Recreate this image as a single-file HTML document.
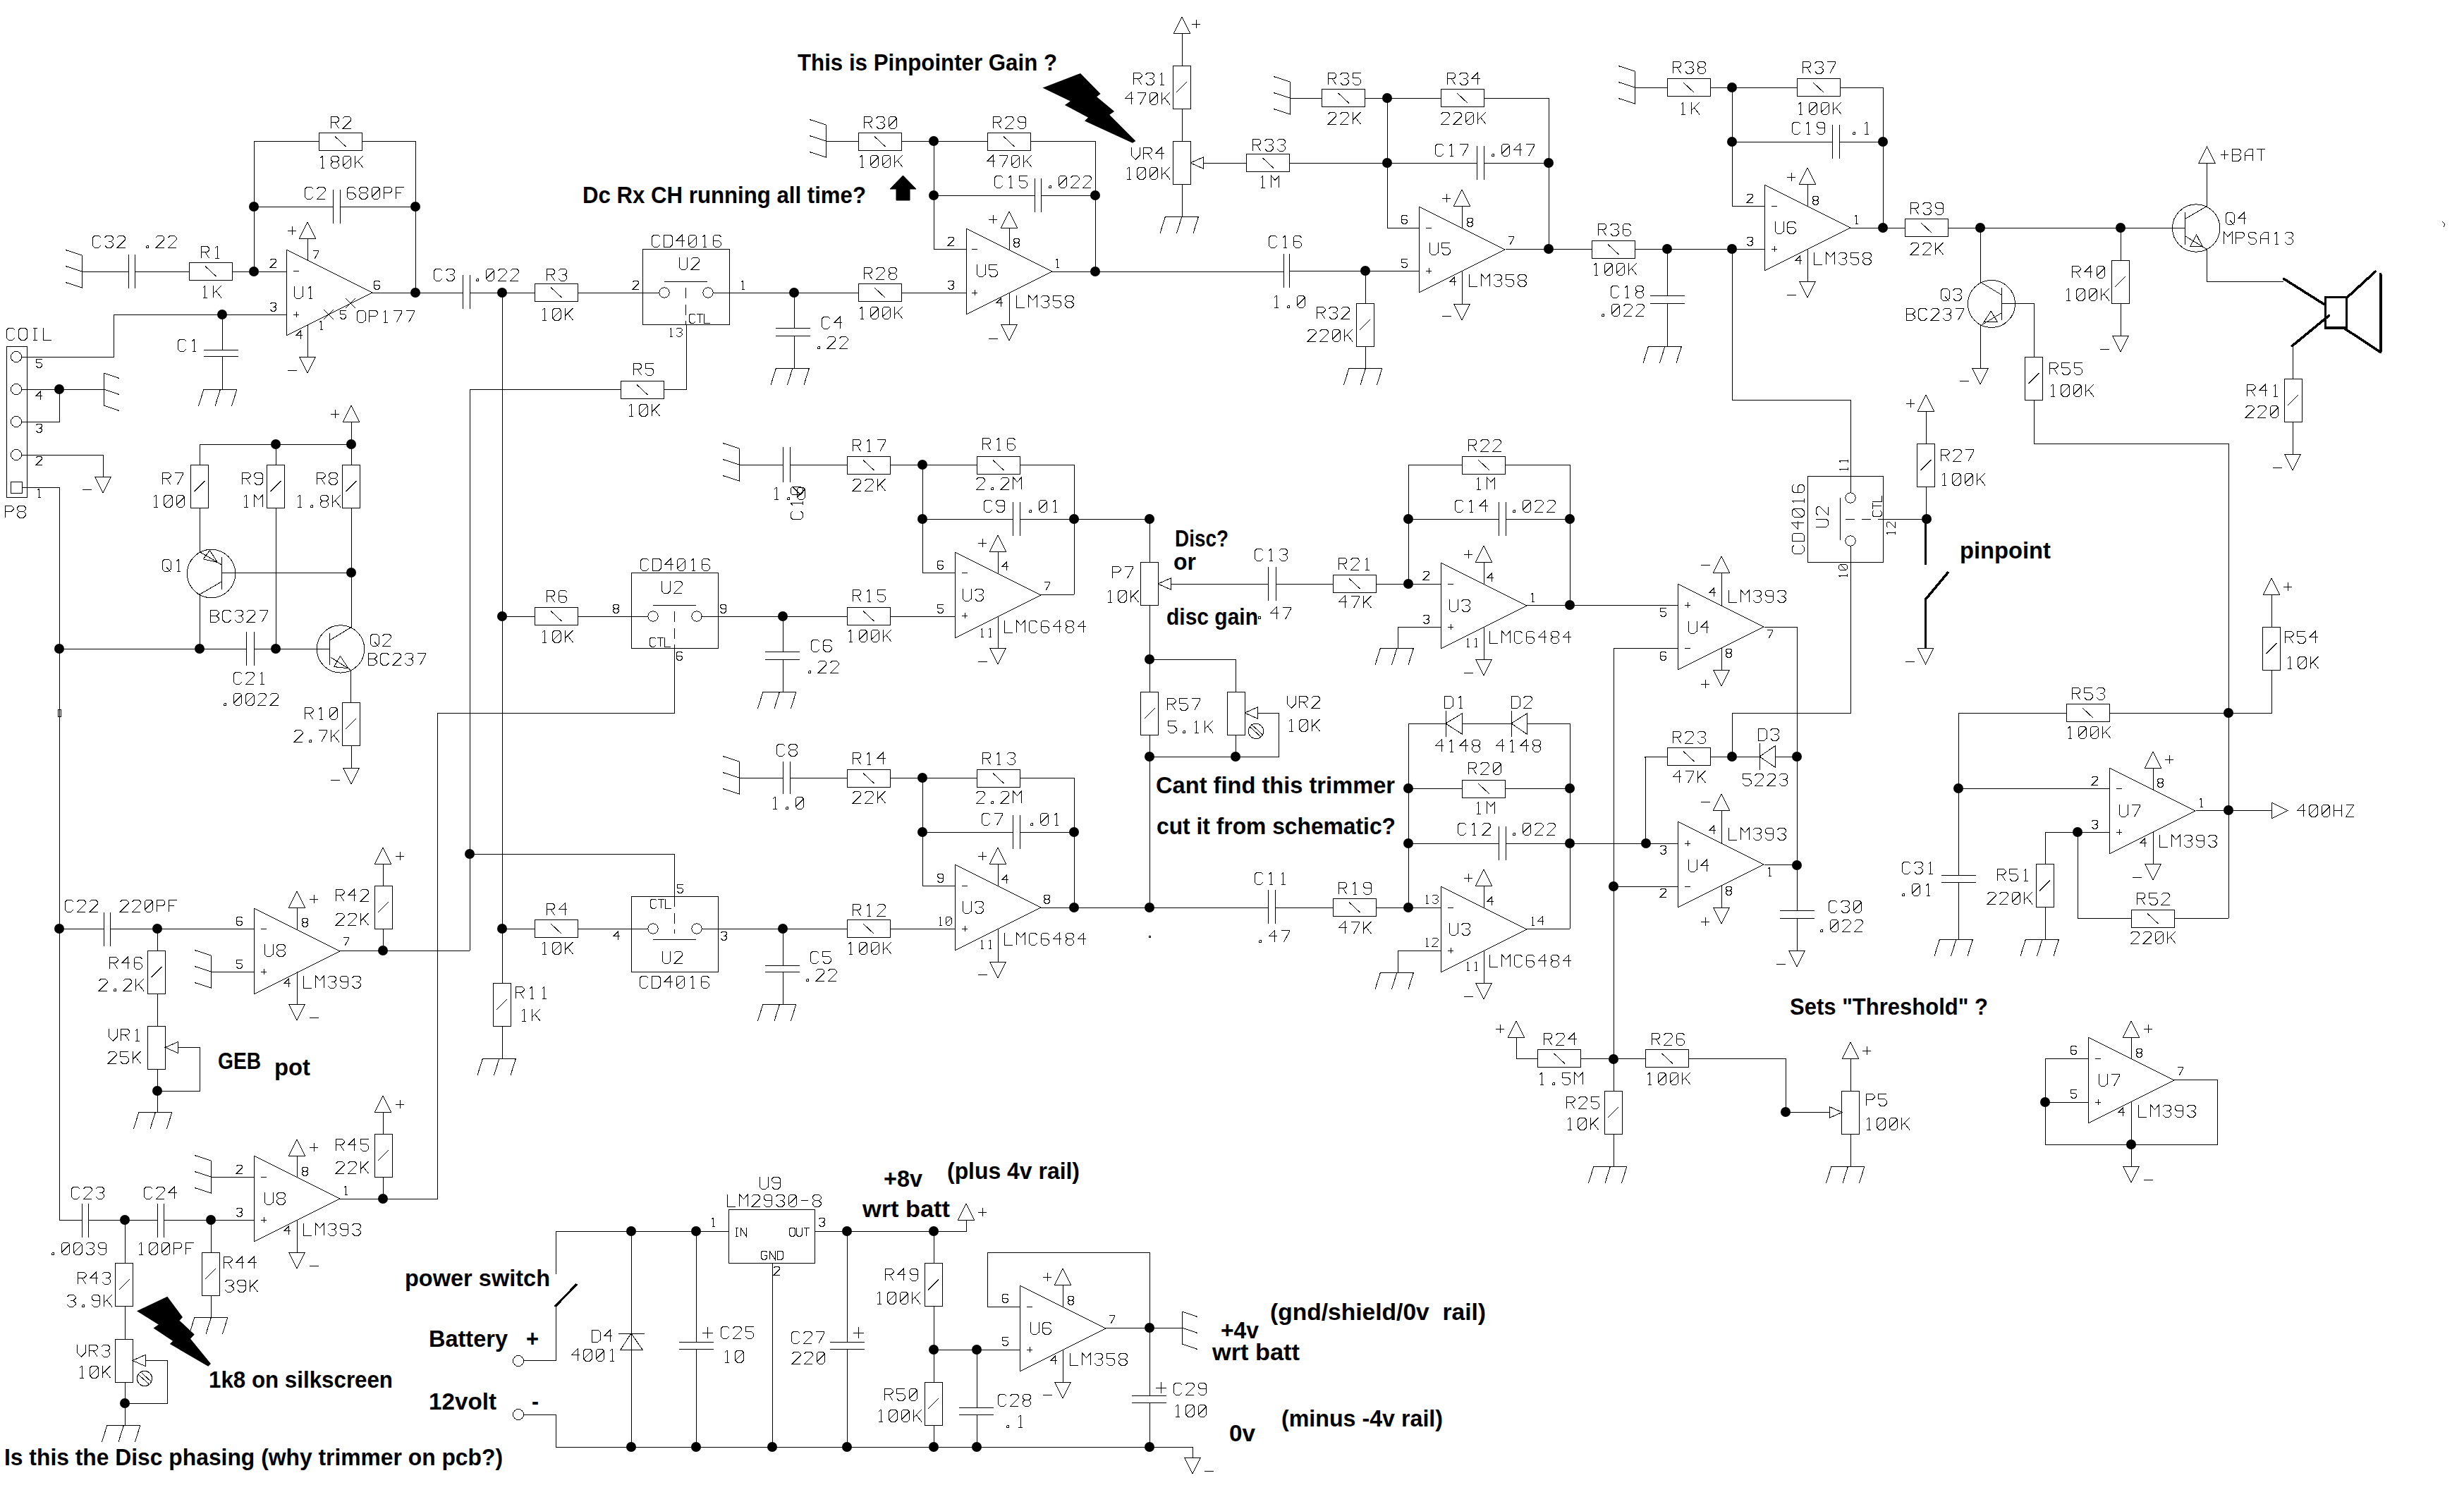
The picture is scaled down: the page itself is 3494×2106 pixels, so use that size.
<!DOCTYPE html>
<html><head><meta charset="utf-8"><title>schematic</title>
<style>html,body{margin:0;padding:0;background:#fff;}svg{display:block;}</style></head>
<body><svg width="3494" height="2106" viewBox="0 0 3494 2106">
<rect width="3494" height="2106" fill="#fff"/>
<g fill="none" stroke="#000" stroke-width="1" stroke-linejoin="miter" stroke-linecap="butt" shape-rendering="crispEdges">
<path d="M360 385 L360 200 L452 200"/>
<path d="M513 200 L589 200 L589 415"/>
<rect x="452" y="188" width="61" height="25"/>
<path d="M475 193.5 L490.5 208"/>
<path d="M469.1 182.2 L469.1 165 L477.7 165 L480.6 167.9 L480.6 170.7 L477.7 173.6 L469.1 173.6 M474.9 173.6 L480.6 182.2 M486.4 167.9 L489.3 165 L495 165 L497.9 167.9 L497.9 170.7 L486.4 182.2 L497.9 182.2" stroke-width="1"/>
<path d="M457.6 221 L457.6 238.2 M457.6 221 L454.7 223.9 M454.7 238.2 L460.4 238.2 M472 221 L477.7 221 L480.6 223.9 L480.6 226.7 L477.7 229.6 L472 229.6 L469.1 226.7 L469.1 223.9 L472 221 M472 229.6 L469.1 232.5 L469.1 235.3 L472 238.2 L477.7 238.2 L480.6 235.3 L480.6 232.5 L477.7 229.6 M489.3 221 L495 221 L497.9 223.9 L497.9 235.3 L495 238.2 L489.3 238.2 L486.4 235.3 L486.4 223.9 L489.3 221 M486.4 235.3 L497.9 223.9 M503.7 221 L503.7 238.2 M515.2 221 L503.7 232.5 M507.5 228.6 L515.2 238.2" stroke-width="1"/>
<path d="M360 293 L472 293"/>
<path d="M482 293 L589 293"/>
<path d="M472 269 L472 317"/>
<path d="M482 269 L482 317"/>
<path d="M444 267.9 L441.1 265 L435.4 265 L432.5 267.9 L432.5 279.3 L435.4 282.2 L441.1 282.2 L444 279.3 M449.8 267.9 L452.7 265 L458.4 265 L461.3 267.9 L461.3 270.7 L449.8 282.2 L461.3 282.2" stroke-width="1"/>
<path d="M504 267.9 L501.1 265 L495.4 265 L492.5 267.9 L492.5 279.3 L495.4 282.2 L501.1 282.2 L504 279.3 L504 276.5 L501.1 273.6 L492.5 273.6 M512.7 265 L518.4 265 L521.3 267.9 L521.3 270.7 L518.4 273.6 L512.7 273.6 L509.8 270.7 L509.8 267.9 L512.7 265 M512.7 273.6 L509.8 276.5 L509.8 279.3 L512.7 282.2 L518.4 282.2 L521.3 279.3 L521.3 276.5 L518.4 273.6 M530 265 L535.7 265 L538.6 267.9 L538.6 279.3 L535.7 282.2 L530 282.2 L527.1 279.3 L527.1 267.9 L530 265 M527.1 279.3 L538.6 267.9 M544.4 282.2 L544.4 265 L553 265 L555.9 267.9 L555.9 270.7 L553 273.6 L544.4 273.6 M573.2 265 L561.7 265 L561.7 282.2 M561.7 273.6 L569.3 273.6" stroke-width="1"/>
<circle cx="360" cy="293" r="7" fill="#000" stroke="none" shape-rendering="geometricPrecision"/>
<circle cx="589" cy="293" r="7" fill="#000" stroke="none" shape-rendering="geometricPrecision"/>
<circle cx="360" cy="385" r="7" fill="#000" stroke="none" shape-rendering="geometricPrecision"/>
<circle cx="589" cy="415" r="7" fill="#000" stroke="none" shape-rendering="geometricPrecision"/>
<circle cx="315" cy="446" r="7" fill="#000" stroke="none" shape-rendering="geometricPrecision"/>
<path d="M116 361.5 L116 408.5"/>
<path d="M116 362 L93 354.5"/>
<path d="M116 385 L93 377.5"/>
<path d="M116 408 L93 400.5"/>
<path d="M116 385 L182 385"/>
<path d="M191 385 L268 385"/>
<path d="M329 385 L406 385"/>
<path d="M182 361 L182 409"/>
<path d="M191 361 L191 409"/>
<rect x="268" y="372" width="61" height="25"/>
<path d="M291 377.5 L306.5 392"/>
<path d="M143 336.9 L140.1 334 L134.4 334 L131.5 336.9 L131.5 348.3 L134.4 351.2 L140.1 351.2 L143 348.3 M148.8 336.9 L151.7 334 L157.4 334 L160.3 336.9 L160.3 339.7 L157.4 342.6 L160.3 345.5 L160.3 348.3 L157.4 351.2 L151.7 351.2 L148.8 348.3 M153.6 342.6 L157.4 342.6 M166.1 336.9 L169 334 L174.7 334 L177.6 336.9 L177.6 339.7 L166.1 351.2 L177.6 351.2" stroke-width="1"/>
<path d="M207.8 348.8 L210.7 348.8 L210.7 351.2 L207.8 351.2 L207.8 348.8 M221.3 336.9 L224.2 334 L229.9 334 L232.8 336.9 L232.8 339.7 L221.3 351.2 L232.8 351.2 M238.6 336.9 L241.5 334 L247.2 334 L250.1 336.9 L250.1 339.7 L238.6 351.2 L250.1 351.2" stroke-width="1"/>
<path d="M285.1 366.2 L285.1 349 L293.7 349 L296.6 351.9 L296.6 354.7 L293.7 357.6 L285.1 357.6 M290.9 357.6 L296.6 366.2 M308.2 349 L308.2 366.2 M308.2 349 L305.3 351.9 M305.3 366.2 L311 366.2" stroke-width="1"/>
<path d="M290.9 405 L290.9 422.2 M290.9 405 L288 407.9 M288 422.2 L293.7 422.2 M302.4 405 L302.4 422.2 M313.9 405 L302.4 416.5 M306.2 412.6 L313.9 422.2" stroke-width="1"/>
<polygon points="406,354 406,476 528,415"/>
<path d="M383.5 369 L385.5 367 L389.5 367 L391.5 369 L391.5 371 L383.5 379 L391.5 379" stroke-width="1"/>
<path d="M383.5 431 L385.5 429 L389.5 429 L391.5 431 L391.5 433 L389.5 435 L391.5 437 L391.5 439 L389.5 441 L385.5 441 L383.5 439 M386.8 435 L389.5 435" stroke-width="1"/>
<path d="M443.5 355 L451.5 355 L451.5 357 L446.2 367" stroke-width="1"/>
<path d="M538.5 400 L536.5 398 L532.5 398 L530.5 400 L530.5 408 L532.5 410 L536.5 410 L538.5 408 L538.5 406 L536.5 404 L530.5 404" stroke-width="1"/>
<path d="M426.5 481 L426.5 469 L420.5 475 L428.5 475" stroke-width="1"/>
<path d="M455.5 455 L455.5 467 M455.5 455 L453.5 457 M453.5 467 L457.5 467" stroke-width="1"/>
<path d="M490.5 440 L482.5 440 L482.5 445.3 L488.5 445.3 L490.5 447.3 L490.5 450 L488.5 452 L484.5 452 L482.5 450" stroke-width="1"/>
<path d="M416 384 L424 384"/>
<path d="M416 446 L424 446"/>
<path d="M420 442 L420 450"/>
<path d="M459 439 L473 453"/>
<path d="M459 453 L473 439"/>
<path d="M490 423 L504 437"/>
<path d="M490 437 L504 423"/>
<path d="M417.5 406 L417.5 420.3 L420.4 423.2 L426.1 423.2 L429 420.3 L429 406 M440.5 406 L440.5 423.2 M440.5 406 L437.7 408.9 M437.7 423.2 L443.4 423.2" stroke-width="1"/>
<path d="M509.4 440 L515.1 440 L518 442.9 L518 454.3 L515.1 457.2 L509.4 457.2 L506.5 454.3 L506.5 442.9 L509.4 440 M523.8 457.2 L523.8 440 L532.4 440 L535.3 442.9 L535.3 445.7 L532.4 448.6 L523.8 448.6 M546.8 440 L546.8 457.2 M546.8 440 L544 442.9 M544 457.2 L549.7 457.2 M558.4 440 L569.9 440 L569.9 442.9 L562.2 457.2 M575.7 440 L587.2 440 L587.2 442.9 L579.5 457.2" stroke-width="1"/>
<polygon points="436,315 424.5,338 447.5,338"/>
<path d="M436 338 L436 369"/>
<path d="M408 327 L420 327"/>
<path d="M414 321 L414 333"/>
<path d="M436 461 L436 506"/>
<polygon points="424.5,506 447.5,506 436,529"/>
<path d="M407.5 525 L420.5 525"/>
<path d="M528 415 L656 415"/>
<path d="M666 415 L758 415"/>
<path d="M819 415 L935 415"/>
<path d="M656 390 L656 438"/>
<path d="M666 390 L666 438"/>
<rect x="758" y="402" width="61" height="25"/>
<path d="M781 407.5 L796.5 422"/>
<path d="M627 383.9 L624.1 381 L618.4 381 L615.5 383.9 L615.5 395.3 L618.4 398.2 L624.1 398.2 L627 395.3 M632.8 383.9 L635.7 381 L641.4 381 L644.3 383.9 L644.3 386.7 L641.4 389.6 L644.3 392.5 L644.3 395.3 L641.4 398.2 L635.7 398.2 L632.8 395.3 M637.6 389.6 L641.4 389.6" stroke-width="1"/>
<path d="M675.8 395.8 L678.7 395.8 L678.7 398.2 L675.8 398.2 L675.8 395.8 M692.2 381 L697.9 381 L700.8 383.9 L700.8 395.3 L697.9 398.2 L692.2 398.2 L689.3 395.3 L689.3 383.9 L692.2 381 M689.3 395.3 L700.8 383.9 M706.6 383.9 L709.5 381 L715.2 381 L718.1 383.9 L718.1 386.7 L706.6 398.2 L718.1 398.2 M723.9 383.9 L726.8 381 L732.5 381 L735.4 383.9 L735.4 386.7 L723.9 398.2 L735.4 398.2" stroke-width="1"/>
<path d="M775.1 398.2 L775.1 381 L783.7 381 L786.6 383.9 L786.6 386.7 L783.7 389.6 L775.1 389.6 M780.9 389.6 L786.6 398.2 M792.4 383.9 L795.3 381 L801 381 L803.9 383.9 L803.9 386.7 L801 389.6 L803.9 392.5 L803.9 395.3 L801 398.2 L795.3 398.2 L792.4 395.3 M797.2 389.6 L801 389.6" stroke-width="1"/>
<path d="M772.2 437 L772.2 454.2 M772.2 437 L769.3 439.9 M769.3 454.2 L775.1 454.2 M786.6 437 L792.4 437 L795.2 439.9 L795.2 451.3 L792.4 454.2 L786.6 454.2 L783.8 451.3 L783.8 439.9 L786.6 437 M783.8 451.3 L795.2 439.9 M801.1 437 L801.1 454.2 M812.5 437 L801.1 448.5 M804.9 444.6 L812.5 454.2" stroke-width="1"/>
<circle cx="712" cy="415" r="7" fill="#000" stroke="none" shape-rendering="geometricPrecision"/>
<path d="M712 415 L712 1394"/>
<circle cx="712" cy="874" r="7" fill="#000" stroke="none" shape-rendering="geometricPrecision"/>
<circle cx="712" cy="1317" r="7" fill="#000" stroke="none" shape-rendering="geometricPrecision"/>
<path d="M315 446 L315 496"/>
<path d="M289 496 L338 496"/>
<path d="M289 505 L338 505"/>
<path d="M315 505 L315 552"/>
<path d="M289 552 L336 552"/>
<path d="M289 552 L281.5 576"/>
<path d="M312.5 552 L305 576"/>
<path d="M336 552 L328.5 576"/>
<path d="M264 483.9 L261.1 481 L255.4 481 L252.5 483.9 L252.5 495.3 L255.4 498.2 L261.1 498.2 L264 495.3 M275.5 481 L275.5 498.2 M275.5 481 L272.7 483.9 M272.7 498.2 L278.4 498.2" stroke-width="1"/>
<path d="M161 446 L406 446"/>
<path d="M161 446 L161 506 L30 506"/>
<rect x="9" y="491" width="29" height="214"/>
<circle cx="23" cy="506" r="7.5"/>
<circle cx="23" cy="552" r="7.5"/>
<circle cx="23" cy="598" r="7.5"/>
<circle cx="23" cy="645" r="7.5"/>
<rect x="15" y="683" width="16" height="16"/>
<path d="M59.5 509 L51.5 509 L51.5 514.3 L57.5 514.3 L59.5 516.3 L59.5 519 L57.5 521 L53.5 521 L51.5 519" stroke-width="1"/>
<path d="M57.5 567 L57.5 555 L51.5 561 L59.5 561" stroke-width="1"/>
<path d="M51.5 603 L53.5 601 L57.5 601 L59.5 603 L59.5 605 L57.5 607 L59.5 609 L59.5 611 L57.5 613 L53.5 613 L51.5 611 M54.8 607 L57.5 607" stroke-width="1"/>
<path d="M51.5 649 L53.5 647 L57.5 647 L59.5 649 L59.5 651 L51.5 659 L59.5 659" stroke-width="1"/>
<path d="M55.5 693 L55.5 705 M55.5 693 L53.5 695 M53.5 705 L57.5 705" stroke-width="1"/>
<path d="M21 467.9 L18.1 465 L12.4 465 L9.5 467.9 L9.5 479.3 L12.4 482.2 L18.1 482.2 L21 479.3 M29.7 465 L35.4 465 L38.3 467.9 L38.3 479.3 L35.4 482.2 L29.7 482.2 L26.8 479.3 L26.8 467.9 L29.7 465 M49.8 465 L49.8 482.2 M47 465 L52.7 465 M47 482.2 L52.7 482.2 M61.4 465 L61.4 482.2 L72.9 482.2" stroke-width="1"/>
<path d="M7.5 734.2 L7.5 717 L16.1 717 L19 719.9 L19 722.7 L16.1 725.6 L7.5 725.6 M27.7 717 L33.4 717 L36.3 719.9 L36.3 722.7 L33.4 725.6 L27.7 725.6 L24.8 722.7 L24.8 719.9 L27.7 717 M27.7 725.6 L24.8 728.5 L24.8 731.3 L27.7 734.2 L33.4 734.2 L36.3 731.3 L36.3 728.5 L33.4 725.6" stroke-width="1"/>
<path d="M30 552 L147 552"/>
<circle cx="84" cy="552" r="7" fill="#000" stroke="none" shape-rendering="geometricPrecision"/>
<path d="M147 528.5 L147 575.5"/>
<path d="M147 529 L169 536.5"/>
<path d="M147 552 L169 559.5"/>
<path d="M147 575 L169 582.5"/>
<path d="M30 598 L84 598 L84 552"/>
<path d="M30 645 L146 645 L146 676"/>
<polygon points="134.5,676 157.5,676 146,699"/>
<path d="M116.5 694 L129.5 694"/>
<path d="M31 691 L84 691 L84 1730 L116 1730"/>
<circle cx="84" cy="920" r="7" fill="#000" stroke="none" shape-rendering="geometricPrecision"/>
<circle cx="84" cy="1317" r="7" fill="#000" stroke="none" shape-rendering="geometricPrecision"/>
<rect x="82" y="1006" width="4" height="10"/>
<polygon points="498,575 486.5,598 509.5,598"/>
<path d="M469 587 L481 587"/>
<path d="M475 581 L475 593"/>
<path d="M498 598 L498 659"/>
<path d="M283 659 L283 630 L498 630"/>
<circle cx="391" cy="630" r="7" fill="#000" stroke="none" shape-rendering="geometricPrecision"/>
<circle cx="498" cy="630" r="7" fill="#000" stroke="none" shape-rendering="geometricPrecision"/>
<path d="M391 630 L391 659"/>
<rect x="270.5" y="659" width="25" height="61"/>
<path d="M275.5 697 L290.5 682"/>
<rect x="378.5" y="659" width="25" height="61"/>
<path d="M383.5 697 L398.5 682"/>
<rect x="485.5" y="659" width="25" height="61"/>
<path d="M490.5 697 L505.5 682"/>
<path d="M283 720 L283 783"/>
<path d="M391 720 L391 920"/>
<path d="M498 720 L498 890"/>
<circle cx="498" cy="812" r="7" fill="#000" stroke="none" shape-rendering="geometricPrecision"/>
<circle cx="299.6" cy="813.5" r="34.2"/>
<path d="M314.5 790 L314.5 836"/>
<path d="M314.5 812.4 L498 812.4"/>
<path d="M313.8 800.7 L283.5 782.8"/>
<path d="M313.8 825.1 L283.5 842.8 L283.5 920"/>
<polygon points="288.3,792.8 297.5,780.4 308.3,797.5"/>
<circle cx="483" cy="920.4" r="33.7"/>
<path d="M467.7 897.5 L467.7 943"/>
<path d="M84 920 L349.4 920"/>
<path d="M360.5 920 L467.7 920"/>
<path d="M468.4 907.6 L497.7 889.7"/>
<path d="M468.4 931.8 L497.7 950.4 L498 996"/>
<polygon points="473.6,945.6 482.5,930.4 493.9,947.7"/>
<circle cx="283" cy="920" r="7" fill="#000" stroke="none" shape-rendering="geometricPrecision"/>
<circle cx="391" cy="920" r="7" fill="#000" stroke="none" shape-rendering="geometricPrecision"/>
<path d="M349.4 896 L349.4 944"/>
<path d="M360.5 896 L360.5 944"/>
<rect x="485" y="996" width="25" height="61"/>
<path d="M490 1034 L505 1019"/>
<path d="M498 1057 L498 1089"/>
<polygon points="486.5,1089 509.5,1089 498,1112"/>
<path d="M468.5 1106 L481.5 1106"/>
<path d="M230.5 687.2 L230.5 670 L239.1 670 L242 672.9 L242 675.7 L239.1 678.6 L230.5 678.6 M236.2 678.6 L242 687.2 M247.8 670 L259.3 670 L259.3 672.9 L251.6 687.2" stroke-width="1"/>
<path d="M221.2 702 L221.2 719.2 M221.2 702 L218.4 704.9 M218.4 719.2 L224.1 719.2 M235.7 702 L241.4 702 L244.3 704.9 L244.3 716.3 L241.4 719.2 L235.7 719.2 L232.8 716.3 L232.8 704.9 L235.7 702 M232.8 716.3 L244.3 704.9 M253 702 L258.7 702 L261.6 704.9 L261.6 716.3 L258.7 719.2 L253 719.2 L250.1 716.3 L250.1 704.9 L253 702 M250.1 716.3 L261.6 704.9" stroke-width="1"/>
<path d="M343.5 687.2 L343.5 670 L352.1 670 L355 672.9 L355 675.7 L352.1 678.6 L343.5 678.6 M349.2 678.6 L355 687.2 M360.8 684.3 L363.7 687.2 L369.4 687.2 L372.3 684.3 L372.3 672.9 L369.4 670 L363.7 670 L360.8 672.9 L360.8 675.7 L363.7 678.6 L372.3 678.6" stroke-width="1"/>
<path d="M349.2 702 L349.2 719.2 M349.2 702 L346.4 704.9 M346.4 719.2 L352.1 719.2 M360.8 719.2 L360.8 702 L366.5 708.7 L372.3 702 L372.3 719.2" stroke-width="1"/>
<path d="M449.5 687.2 L449.5 670 L458.1 670 L461 672.9 L461 675.7 L458.1 678.6 L449.5 678.6 M455.2 678.6 L461 687.2 M469.7 670 L475.4 670 L478.3 672.9 L478.3 675.7 L475.4 678.6 L469.7 678.6 L466.8 675.7 L466.8 672.9 L469.7 670 M469.7 678.6 L466.8 681.5 L466.8 684.3 L469.7 687.2 L475.4 687.2 L478.3 684.3 L478.3 681.5 L475.4 678.6" stroke-width="1"/>
<path d="M425.2 702 L425.2 719.2 M425.2 702 L422.4 704.9 M422.4 719.2 L428.1 719.2 M440.6 716.8 L443.5 716.8 L443.5 719.2 L440.6 719.2 L440.6 716.8 M457 702 L462.7 702 L465.6 704.9 L465.6 707.7 L462.7 710.6 L457 710.6 L454.1 707.7 L454.1 704.9 L457 702 M457 710.6 L454.1 713.5 L454.1 716.3 L457 719.2 L462.7 719.2 L465.6 716.3 L465.6 713.5 L462.7 710.6 M471.4 702 L471.4 719.2 M482.9 702 L471.4 713.5 M475.2 709.6 L482.9 719.2" stroke-width="1"/>
<path d="M233.4 793 L239.1 793 L242 795.9 L242 807.3 L239.1 810.2 L233.4 810.2 L230.5 807.3 L230.5 795.9 L233.4 793 M236.2 804.5 L242 811.2 M253.5 793 L253.5 810.2 M253.5 793 L250.7 795.9 M250.7 810.2 L256.4 810.2" stroke-width="1"/>
<path d="M298.5 865 L307.1 865 L310 867.9 L310 870.7 L307.1 873.6 L298.5 873.6 M307.1 873.6 L310 876.5 L310 879.3 L307.1 882.2 L298.5 882.2 L298.5 865 M327.3 867.9 L324.4 865 L318.7 865 L315.8 867.9 L315.8 879.3 L318.7 882.2 L324.4 882.2 L327.3 879.3 M333.1 867.9 L336 865 L341.7 865 L344.6 867.9 L344.6 870.7 L341.7 873.6 L344.6 876.5 L344.6 879.3 L341.7 882.2 L336 882.2 L333.1 879.3 M337.9 873.6 L341.7 873.6 M350.4 867.9 L353.3 865 L359 865 L361.9 867.9 L361.9 870.7 L350.4 882.2 L361.9 882.2 M367.7 865 L379.2 865 L379.2 867.9 L371.5 882.2" stroke-width="1"/>
<path d="M343 955.9 L340.1 953 L334.4 953 L331.5 955.9 L331.5 967.3 L334.4 970.2 L340.1 970.2 L343 967.3 M348.8 955.9 L351.7 953 L357.4 953 L360.3 955.9 L360.3 958.7 L348.8 970.2 L360.3 970.2 M371.8 953 L371.8 970.2 M371.8 953 L369 955.9 M369 970.2 L374.7 970.2" stroke-width="1"/>
<path d="M317.8 997.8 L320.7 997.8 L320.7 1000.2 L317.8 1000.2 L317.8 997.8 M334.2 983 L339.9 983 L342.8 985.9 L342.8 997.3 L339.9 1000.2 L334.2 1000.2 L331.3 997.3 L331.3 985.9 L334.2 983 M331.3 997.3 L342.8 985.9 M351.5 983 L357.2 983 L360.1 985.9 L360.1 997.3 L357.2 1000.2 L351.5 1000.2 L348.6 997.3 L348.6 985.9 L351.5 983 M348.6 997.3 L360.1 985.9 M365.9 985.9 L368.8 983 L374.5 983 L377.4 985.9 L377.4 988.7 L365.9 1000.2 L377.4 1000.2 M383.2 985.9 L386.1 983 L391.8 983 L394.7 985.9 L394.7 988.7 L383.2 1000.2 L394.7 1000.2" stroke-width="1"/>
<path d="M528.4 899 L534.1 899 L537 901.9 L537 913.3 L534.1 916.2 L528.4 916.2 L525.5 913.3 L525.5 901.9 L528.4 899 M531.2 910.5 L537 917.2 M542.8 901.9 L545.7 899 L551.4 899 L554.3 901.9 L554.3 904.7 L542.8 916.2 L554.3 916.2" stroke-width="1"/>
<path d="M522.5 926 L531.1 926 L534 928.9 L534 931.7 L531.1 934.6 L522.5 934.6 M531.1 934.6 L534 937.5 L534 940.3 L531.1 943.2 L522.5 943.2 L522.5 926 M551.3 928.9 L548.4 926 L542.7 926 L539.8 928.9 L539.8 940.3 L542.7 943.2 L548.4 943.2 L551.3 940.3 M557.1 928.9 L560 926 L565.7 926 L568.6 928.9 L568.6 931.7 L557.1 943.2 L568.6 943.2 M574.4 928.9 L577.3 926 L583 926 L585.9 928.9 L585.9 931.7 L583 934.6 L585.9 937.5 L585.9 940.3 L583 943.2 L577.3 943.2 L574.4 940.3 M579.2 934.6 L583 934.6 M591.7 926 L603.2 926 L603.2 928.9 L595.5 943.2" stroke-width="1"/>
<path d="M432.5 1020.2 L432.5 1003 L441.1 1003 L444 1005.9 L444 1008.7 L441.1 1011.6 L432.5 1011.6 M438.2 1011.6 L444 1020.2 M455.5 1003 L455.5 1020.2 M455.5 1003 L452.7 1005.9 M452.7 1020.2 L458.4 1020.2 M470 1003 L475.7 1003 L478.6 1005.9 L478.6 1017.3 L475.7 1020.2 L470 1020.2 L467.1 1017.3 L467.1 1005.9 L470 1003 M467.1 1017.3 L478.6 1005.9" stroke-width="1"/>
<path d="M417.5 1037.9 L420.4 1035 L426.1 1035 L429 1037.9 L429 1040.7 L417.5 1052.2 L429 1052.2 M438.6 1049.8 L441.5 1049.8 L441.5 1052.2 L438.6 1052.2 L438.6 1049.8 M452.1 1035 L463.6 1035 L463.6 1037.9 L455.9 1052.2 M469.4 1035 L469.4 1052.2 M480.9 1035 L469.4 1046.5 M473.2 1042.6 L480.9 1052.2" stroke-width="1"/>
<rect x="911" y="353" width="123" height="107"/>
<path d="M942 399 L1003 399"/>
<circle cx="942" cy="415" r="7.2"/>
<circle cx="1004" cy="415" r="7.2"/>
<path d="M972 408 L972 460" stroke-dasharray="15 8.5"/>
<path d="M986.2 447.2 L984 445 L979.7 445 L977.5 447.2 L977.5 455.8 L979.7 458 L984 458 L986.2 455.8 M987.9 445 L996.6 445 M992.2 445 L992.2 458 M998.3 445 L998.3 458 L1007 458" stroke-width="1"/>
<path d="M936 335.9 L933.1 333 L927.4 333 L924.5 335.9 L924.5 347.3 L927.4 350.2 L933.1 350.2 L936 347.3 M941.8 333 L950.4 333 L953.3 335.9 L953.3 347.3 L950.4 350.2 L941.8 350.2 L941.8 333 M967.7 350.2 L967.7 333 L959.1 341.6 L970.6 341.6 M979.3 333 L985 333 L987.9 335.9 L987.9 347.3 L985 350.2 L979.3 350.2 L976.4 347.3 L976.4 335.9 L979.3 333 M976.4 347.3 L987.9 335.9 M999.4 333 L999.4 350.2 M999.4 333 L996.6 335.9 M996.6 350.2 L1002.3 350.2 M1022.5 335.9 L1019.6 333 L1013.9 333 L1011 335.9 L1011 347.3 L1013.9 350.2 L1019.6 350.2 L1022.5 347.3 L1022.5 344.5 L1019.6 341.6 L1011 341.6" stroke-width="1"/>
<path d="M963.1 365 L963.1 379.3 L966 382.2 L971.7 382.2 L974.6 379.3 L974.6 365 M980.4 367.9 L983.3 365 L989 365 L991.9 367.9 L991.9 370.7 L980.4 382.2 L991.9 382.2" stroke-width="1"/>
<path d="M897.5 400 L899.5 398 L903.5 398 L905.5 400 L905.5 402 L897.5 410 L905.5 410" stroke-width="1"/>
<path d="M1053.5 398 L1053.5 410 M1053.5 398 L1051.5 400 M1051.5 410 L1055.5 410" stroke-width="1"/>
<path d="M951.8 465 L951.8 477 M951.8 465 L949.8 467 M949.8 477 L953.8 477 M959.2 467 L961.2 465 L965.2 465 L967.2 467 L967.2 469 L965.2 471 L967.2 473 L967.2 475 L965.2 477 L961.2 477 L959.2 475 M962.6 471 L965.2 471" stroke-width="1"/>
<path d="M911 415 L935 415"/>
<path d="M1011 415 L1217 415"/>
<path d="M1278 415 L1370 415"/>
<path d="M973 460 L973 552 L941 552"/>
<path d="M880 552 L666 552 L666 1348"/>
<rect x="880" y="540" width="61" height="25"/>
<path d="M903 545.5 L918.5 560"/>
<path d="M898.1 532.2 L898.1 515 L906.7 515 L909.6 517.9 L909.6 520.7 L906.7 523.6 L898.1 523.6 M903.9 523.6 L909.6 532.2 M926.9 515 L915.4 515 L915.4 522.6 L924 522.6 L926.9 525.5 L926.9 529.3 L924 532.2 L918.3 532.2 L915.4 529.3" stroke-width="1"/>
<path d="M895.2 573 L895.2 590.2 M895.2 573 L892.3 575.9 M892.3 590.2 L898.1 590.2 M909.6 573 L915.4 573 L918.2 575.9 L918.2 587.3 L915.4 590.2 L909.6 590.2 L906.8 587.3 L906.8 575.9 L909.6 573 M906.8 587.3 L918.2 575.9 M924.1 573 L924.1 590.2 M935.5 573 L924.1 584.5 M927.9 580.6 L935.5 590.2" stroke-width="1"/>
<rect x="1217" y="402.5" width="61" height="25"/>
<path d="M1240 408 L1255.5 422.5"/>
<path d="M1225.5 396.2 L1225.5 379 L1234.1 379 L1236.9 381.9 L1236.9 384.7 L1234.1 387.6 L1225.5 387.6 M1231.2 387.6 L1236.9 396.2 M1242.8 381.9 L1245.6 379 L1251.4 379 L1254.2 381.9 L1254.2 384.7 L1242.8 396.2 L1254.2 396.2 M1262.9 379 L1268.7 379 L1271.5 381.9 L1271.5 384.7 L1268.7 387.6 L1262.9 387.6 L1260.1 384.7 L1260.1 381.9 L1262.9 379 M1262.9 387.6 L1260.1 390.5 L1260.1 393.3 L1262.9 396.2 L1268.7 396.2 L1271.5 393.3 L1271.5 390.5 L1268.7 387.6" stroke-width="1"/>
<path d="M1222.5 435 L1222.5 452.2 M1222.5 435 L1219.7 437.9 M1219.7 452.2 L1225.4 452.2 M1237 435 L1242.7 435 L1245.6 437.9 L1245.6 449.3 L1242.7 452.2 L1237 452.2 L1234.1 449.3 L1234.1 437.9 L1237 435 M1234.1 449.3 L1245.6 437.9 M1254.3 435 L1260 435 L1262.9 437.9 L1262.9 449.3 L1260 452.2 L1254.3 452.2 L1251.4 449.3 L1251.4 437.9 L1254.3 435 M1251.4 449.3 L1262.9 437.9 M1268.7 435 L1268.7 452.2 M1280.2 435 L1268.7 446.5 M1272.5 442.6 L1280.2 452.2" stroke-width="1"/>
<circle cx="1126" cy="415" r="7" fill="#000" stroke="none" shape-rendering="geometricPrecision"/>
<path d="M1126 415 L1126 465"/>
<path d="M1100 465 L1149 465"/>
<path d="M1100 476 L1149 476"/>
<path d="M1126 476 L1126 522"/>
<path d="M1100.5 522 L1147.5 522"/>
<path d="M1100.5 522 L1093 546"/>
<path d="M1124 522 L1116.5 546"/>
<path d="M1147.5 522 L1140 546"/>
<path d="M1177 451.9 L1174.1 449 L1168.4 449 L1165.5 451.9 L1165.5 463.3 L1168.4 466.2 L1174.1 466.2 L1177 463.3 M1191.4 466.2 L1191.4 449 L1182.8 457.6 L1194.3 457.6" stroke-width="1"/>
<path d="M1159.8 491.8 L1162.7 491.8 L1162.7 494.2 L1159.8 494.2 L1159.8 491.8 M1173.3 479.9 L1176.2 477 L1181.9 477 L1184.8 479.9 L1184.8 482.7 L1173.3 494.2 L1184.8 494.2 M1190.6 479.9 L1193.5 477 L1199.2 477 L1202.1 479.9 L1202.1 482.7 L1190.6 494.2 L1202.1 494.2" stroke-width="1"/>
<polygon points="1370,324 1370,446 1492,385"/>
<path d="M1370 353 L1324 353 L1324 200"/>
<circle cx="1324" cy="277" r="7" fill="#000" stroke="none" shape-rendering="geometricPrecision"/>
<circle cx="1324" cy="200" r="7" fill="#000" stroke="none" shape-rendering="geometricPrecision"/>
<path d="M1171 176.5 L1171 223.5"/>
<path d="M1171 177 L1148 169.5"/>
<path d="M1171 200 L1148 192.5"/>
<path d="M1171 223 L1148 215.5"/>
<path d="M1171 200 L1217 200"/>
<path d="M1278 200 L1400 200"/>
<path d="M1461 200 L1553 200 L1553 385"/>
<rect x="1217" y="188" width="61" height="25"/>
<path d="M1240 193.5 L1255.5 208"/>
<rect x="1400" y="188" width="61" height="25"/>
<path d="M1423 193.5 L1438.5 208"/>
<path d="M1225.5 182.2 L1225.5 165 L1234.1 165 L1236.9 167.9 L1236.9 170.7 L1234.1 173.6 L1225.5 173.6 M1231.2 173.6 L1236.9 182.2 M1242.8 167.9 L1245.6 165 L1251.4 165 L1254.2 167.9 L1254.2 170.7 L1251.4 173.6 L1254.2 176.5 L1254.2 179.3 L1251.4 182.2 L1245.6 182.2 L1242.8 179.3 M1247.5 173.6 L1251.4 173.6 M1262.9 165 L1268.7 165 L1271.5 167.9 L1271.5 179.3 L1268.7 182.2 L1262.9 182.2 L1260.1 179.3 L1260.1 167.9 L1262.9 165 M1260.1 179.3 L1271.5 167.9" stroke-width="1"/>
<path d="M1222.5 220 L1222.5 237.2 M1222.5 220 L1219.7 222.9 M1219.7 237.2 L1225.4 237.2 M1237 220 L1242.7 220 L1245.6 222.9 L1245.6 234.3 L1242.7 237.2 L1237 237.2 L1234.1 234.3 L1234.1 222.9 L1237 220 M1234.1 234.3 L1245.6 222.9 M1254.3 220 L1260 220 L1262.9 222.9 L1262.9 234.3 L1260 237.2 L1254.3 237.2 L1251.4 234.3 L1251.4 222.9 L1254.3 220 M1251.4 234.3 L1262.9 222.9 M1268.7 220 L1268.7 237.2 M1280.2 220 L1268.7 231.5 M1272.5 227.6 L1280.2 237.2" stroke-width="1"/>
<path d="M1408.5 182.2 L1408.5 165 L1417.1 165 L1419.9 167.9 L1419.9 170.7 L1417.1 173.6 L1408.5 173.6 M1414.2 173.6 L1419.9 182.2 M1425.8 167.9 L1428.6 165 L1434.4 165 L1437.2 167.9 L1437.2 170.7 L1425.8 182.2 L1437.2 182.2 M1443.1 179.3 L1445.9 182.2 L1451.7 182.2 L1454.5 179.3 L1454.5 167.9 L1451.7 165 L1445.9 165 L1443.1 167.9 L1443.1 170.7 L1445.9 173.6 L1454.5 173.6" stroke-width="1"/>
<path d="M1408.4 237.2 L1408.4 220 L1399.8 228.6 L1411.3 228.6 M1417.1 220 L1428.6 220 L1428.6 222.9 L1420.9 237.2 M1437.3 220 L1443 220 L1445.9 222.9 L1445.9 234.3 L1443 237.2 L1437.3 237.2 L1434.4 234.3 L1434.4 222.9 L1437.3 220 M1434.4 234.3 L1445.9 222.9 M1451.7 220 L1451.7 237.2 M1463.2 220 L1451.7 231.5 M1455.5 227.6 L1463.2 237.2" stroke-width="1"/>
<path d="M1324 277 L1467 277"/>
<path d="M1476 277 L1553 277"/>
<path d="M1467 253 L1467 301"/>
<path d="M1476 253 L1476 301"/>
<circle cx="1553" cy="277" r="7" fill="#000" stroke="none" shape-rendering="geometricPrecision"/>
<circle cx="1553" cy="385" r="7" fill="#000" stroke="none" shape-rendering="geometricPrecision"/>
<path d="M1422 251.9 L1419.1 249 L1413.4 249 L1410.5 251.9 L1410.5 263.3 L1413.4 266.2 L1419.1 266.2 L1422 263.3 M1433.5 249 L1433.5 266.2 M1433.5 249 L1430.7 251.9 M1430.7 266.2 L1436.4 266.2 M1456.6 249 L1445.1 249 L1445.1 256.6 L1453.7 256.6 L1456.6 259.5 L1456.6 263.3 L1453.7 266.2 L1448 266.2 L1445.1 263.3" stroke-width="1"/>
<path d="M1487.8 263.8 L1490.7 263.8 L1490.7 266.2 L1487.8 266.2 L1487.8 263.8 M1504.2 249 L1509.9 249 L1512.8 251.9 L1512.8 263.3 L1509.9 266.2 L1504.2 266.2 L1501.3 263.3 L1501.3 251.9 L1504.2 249 M1501.3 263.3 L1512.8 251.9 M1518.6 251.9 L1521.5 249 L1527.2 249 L1530.1 251.9 L1530.1 254.7 L1518.6 266.2 L1530.1 266.2 M1535.9 251.9 L1538.8 249 L1544.5 249 L1547.4 251.9 L1547.4 254.7 L1535.9 266.2 L1547.4 266.2" stroke-width="1"/>
<path d="M1492 385 L1820 385"/>
<path d="M1828 384 L2012 384"/>
<path d="M1820 360 L1820 408"/>
<path d="M1828 360 L1828 408"/>
<circle cx="1936" cy="384" r="7" fill="#000" stroke="none" shape-rendering="geometricPrecision"/>
<polygon points="1431,300 1419.5,323 1442.5,323"/>
<path d="M1431 323 L1431 354.5"/>
<path d="M1402 311 L1414 311"/>
<path d="M1408 305 L1408 317"/>
<path d="M1431 414.5 L1431 460"/>
<polygon points="1419.5,460 1442.5,460 1431,483"/>
<path d="M1401.5 480 L1414.5 480"/>
<path d="M1385.5 375 L1385.5 389.3 L1388.4 392.2 L1394.1 392.2 L1397 389.3 L1397 375 M1414.3 375 L1402.8 375 L1402.8 382.6 L1411.4 382.6 L1414.3 385.5 L1414.3 389.3 L1411.4 392.2 L1405.7 392.2 L1402.8 389.3" stroke-width="1"/>
<path d="M1441.5 419 L1441.5 436.2 L1453 436.2 M1458.8 436.2 L1458.8 419 L1464.5 425.7 L1470.3 419 L1470.3 436.2 M1476.1 421.9 L1479 419 L1484.7 419 L1487.6 421.9 L1487.6 424.7 L1484.7 427.6 L1487.6 430.5 L1487.6 433.3 L1484.7 436.2 L1479 436.2 L1476.1 433.3 M1480.9 427.6 L1484.7 427.6 M1504.9 419 L1493.4 419 L1493.4 426.6 L1502 426.6 L1504.9 429.5 L1504.9 433.3 L1502 436.2 L1496.3 436.2 L1493.4 433.3 M1513.6 419 L1519.3 419 L1522.2 421.9 L1522.2 424.7 L1519.3 427.6 L1513.6 427.6 L1510.7 424.7 L1510.7 421.9 L1513.6 419 M1513.6 427.6 L1510.7 430.5 L1510.7 433.3 L1513.6 436.2 L1519.3 436.2 L1522.2 433.3 L1522.2 430.5 L1519.3 427.6" stroke-width="1"/>
<path d="M1344.5 338 L1346.5 336 L1350.5 336 L1352.5 338 L1352.5 340 L1344.5 348 L1352.5 348" stroke-width="1"/>
<path d="M1344.5 400 L1346.5 398 L1350.5 398 L1352.5 400 L1352.5 402 L1350.5 404 L1352.5 406 L1352.5 408 L1350.5 410 L1346.5 410 L1344.5 408 M1347.8 404 L1350.5 404" stroke-width="1"/>
<path d="M1439.5 338 L1443.5 338 L1445.5 340 L1445.5 342 L1443.5 344 L1439.5 344 L1437.5 342 L1437.5 340 L1439.5 338 M1439.5 344 L1437.5 346 L1437.5 348 L1439.5 350 L1443.5 350 L1445.5 348 L1445.5 346 L1443.5 344" stroke-width="1"/>
<path d="M1419.5 435 L1419.5 423 L1413.5 429 L1421.5 429" stroke-width="1"/>
<path d="M1499.5 367 L1499.5 379 M1499.5 367 L1497.5 369 M1497.5 379 L1501.5 379" stroke-width="1"/>
<path d="M1378 353 L1386 353"/>
<path d="M1378 415 L1386 415"/>
<path d="M1382 411 L1382 419"/>
<path d="M1811 336.9 L1808.1 334 L1802.4 334 L1799.5 336.9 L1799.5 348.3 L1802.4 351.2 L1808.1 351.2 L1811 348.3 M1822.5 334 L1822.5 351.2 M1822.5 334 L1819.7 336.9 M1819.7 351.2 L1825.4 351.2 M1845.6 336.9 L1842.7 334 L1837 334 L1834.1 336.9 L1834.1 348.3 L1837 351.2 L1842.7 351.2 L1845.6 348.3 L1845.6 345.5 L1842.7 342.6 L1834.1 342.6" stroke-width="1"/>
<path d="M1810.2 419 L1810.2 436.2 M1810.2 419 L1807.4 421.9 M1807.4 436.2 L1813.1 436.2 M1825.6 433.8 L1828.5 433.8 L1828.5 436.2 L1825.6 436.2 L1825.6 433.8 M1842 419 L1847.7 419 L1850.6 421.9 L1850.6 433.3 L1847.7 436.2 L1842 436.2 L1839.1 433.3 L1839.1 421.9 L1842 419 M1839.1 433.3 L1850.6 421.9" stroke-width="1"/>
<polygon points="1676,24 1664.5,47 1687.5,47"/>
<path d="M1690 34 L1702 34"/>
<path d="M1696 28 L1696 40"/>
<path d="M1676 47 L1676 93"/>
<rect x="1663" y="93" width="25" height="61"/>
<path d="M1668 131 L1683 116"/>
<path d="M1676 154 L1676 200"/>
<rect x="1663" y="200" width="25" height="61"/>
<path d="M1676 261 L1676 307"/>
<path d="M1652.5 307 L1699.5 307"/>
<path d="M1652.5 307 L1645 331"/>
<path d="M1676 307 L1668.5 331"/>
<path d="M1699.5 307 L1692 331"/>
<polygon points="1688,231 1706,223 1706,239"/>
<path d="M1706 231 L1767 231"/>
<rect x="1767.5" y="218.5" width="61" height="25"/>
<path d="M1790.5 224 L1806 238.5"/>
<path d="M1829 231 L2094 231"/>
<path d="M2104 231 L2196 231"/>
<path d="M2094 207 L2094 255"/>
<path d="M2104 207 L2104 255"/>
<path d="M1607.5 120.2 L1607.5 103 L1616.1 103 L1619 105.9 L1619 108.7 L1616.1 111.6 L1607.5 111.6 M1613.2 111.6 L1619 120.2 M1624.8 105.9 L1627.7 103 L1633.4 103 L1636.3 105.9 L1636.3 108.7 L1633.4 111.6 L1636.3 114.5 L1636.3 117.3 L1633.4 120.2 L1627.7 120.2 L1624.8 117.3 M1629.6 111.6 L1633.4 111.6 M1647.8 103 L1647.8 120.2 M1647.8 103 L1645 105.9 M1645 120.2 L1650.7 120.2" stroke-width="1"/>
<path d="M1604.1 148.2 L1604.1 131 L1595.5 139.6 L1607 139.6 M1612.8 131 L1624.3 131 L1624.3 133.9 L1616.6 148.2 M1633 131 L1638.7 131 L1641.6 133.9 L1641.6 145.3 L1638.7 148.2 L1633 148.2 L1630.1 145.3 L1630.1 133.9 L1633 131 M1630.1 145.3 L1641.6 133.9 M1647.4 131 L1647.4 148.2 M1658.9 131 L1647.4 142.5 M1651.2 138.6 L1658.9 148.2" stroke-width="1"/>
<path d="M1604.5 209 L1604.5 220.5 L1610.2 226.2 L1616 220.5 L1616 209 M1621.8 226.2 L1621.8 209 L1630.4 209 L1633.3 211.9 L1633.3 214.7 L1630.4 217.6 L1621.8 217.6 M1627.5 217.6 L1633.3 226.2 M1647.7 226.2 L1647.7 209 L1639.1 217.6 L1650.6 217.6" stroke-width="1"/>
<path d="M1601.2 237 L1601.2 254.2 M1601.2 237 L1598.4 239.9 M1598.4 254.2 L1604.1 254.2 M1615.7 237 L1621.4 237 L1624.3 239.9 L1624.3 251.3 L1621.4 254.2 L1615.7 254.2 L1612.8 251.3 L1612.8 239.9 L1615.7 237 M1612.8 251.3 L1624.3 239.9 M1633 237 L1638.7 237 L1641.6 239.9 L1641.6 251.3 L1638.7 254.2 L1633 254.2 L1630.1 251.3 L1630.1 239.9 L1633 237 M1630.1 251.3 L1641.6 239.9 M1647.4 237 L1647.4 254.2 M1658.9 237 L1647.4 248.5 M1651.2 244.6 L1658.9 254.2" stroke-width="1"/>
<path d="M1776.5 214.2 L1776.5 197 L1785.1 197 L1787.9 199.9 L1787.9 202.7 L1785.1 205.6 L1776.5 205.6 M1782.2 205.6 L1787.9 214.2 M1793.8 199.9 L1796.6 197 L1802.4 197 L1805.2 199.9 L1805.2 202.7 L1802.4 205.6 L1805.2 208.5 L1805.2 211.3 L1802.4 214.2 L1796.6 214.2 L1793.8 211.3 M1798.5 205.6 L1802.4 205.6 M1811.1 199.9 L1813.9 197 L1819.7 197 L1822.5 199.9 L1822.5 202.7 L1819.7 205.6 L1822.5 208.5 L1822.5 211.3 L1819.7 214.2 L1813.9 214.2 L1811.1 211.3 M1815.8 205.6 L1819.7 205.6" stroke-width="1"/>
<path d="M1790.8 249 L1790.8 266.2 M1790.8 249 L1788 251.9 M1788 266.2 L1793.7 266.2 M1802.4 266.2 L1802.4 249 L1808.1 255.7 L1813.9 249 L1813.9 266.2" stroke-width="1"/>
<path d="M1829 115.5 L1829 162.5"/>
<path d="M1829 116 L1806 108.5"/>
<path d="M1829 139 L1806 131.5"/>
<path d="M1829 162 L1806 154.5"/>
<path d="M1829 139 L1874 139"/>
<rect x="1874.5" y="126.5" width="61" height="25"/>
<path d="M1897.5 132 L1913 146.5"/>
<path d="M1936 139 L2043 139"/>
<rect x="2043" y="126.5" width="61" height="25"/>
<path d="M2066 132 L2081.5 146.5"/>
<path d="M2104 139 L2196 139 L2196 353"/>
<circle cx="1967" cy="139" r="7" fill="#000" stroke="none" shape-rendering="geometricPrecision"/>
<path d="M1967 139 L1967 323 L2012 323"/>
<circle cx="1967" cy="231" r="7" fill="#000" stroke="none" shape-rendering="geometricPrecision"/>
<circle cx="2196" cy="231" r="7" fill="#000" stroke="none" shape-rendering="geometricPrecision"/>
<circle cx="2196" cy="353" r="7" fill="#000" stroke="none" shape-rendering="geometricPrecision"/>
<path d="M1883.5 120.2 L1883.5 103 L1892.1 103 L1894.9 105.9 L1894.9 108.7 L1892.1 111.6 L1883.5 111.6 M1889.2 111.6 L1894.9 120.2 M1900.8 105.9 L1903.6 103 L1909.4 103 L1912.2 105.9 L1912.2 108.7 L1909.4 111.6 L1912.2 114.5 L1912.2 117.3 L1909.4 120.2 L1903.6 120.2 L1900.8 117.3 M1905.5 111.6 L1909.4 111.6 M1929.5 103 L1918.1 103 L1918.1 110.6 L1926.7 110.6 L1929.5 113.5 L1929.5 117.3 L1926.7 120.2 L1920.9 120.2 L1918.1 117.3" stroke-width="1"/>
<path d="M1883.5 161.9 L1886.3 159 L1892.1 159 L1894.9 161.9 L1894.9 164.7 L1883.5 176.2 L1894.9 176.2 M1900.8 161.9 L1903.6 159 L1909.4 159 L1912.2 161.9 L1912.2 164.7 L1900.8 176.2 L1912.2 176.2 M1918.1 159 L1918.1 176.2 M1929.5 159 L1918.1 170.5 M1921.9 166.6 L1929.5 176.2" stroke-width="1"/>
<path d="M2052.5 120.2 L2052.5 103 L2061.1 103 L2063.9 105.9 L2063.9 108.7 L2061.1 111.6 L2052.5 111.6 M2058.2 111.6 L2063.9 120.2 M2069.8 105.9 L2072.6 103 L2078.4 103 L2081.2 105.9 L2081.2 108.7 L2078.4 111.6 L2081.2 114.5 L2081.2 117.3 L2078.4 120.2 L2072.6 120.2 L2069.8 117.3 M2074.5 111.6 L2078.4 111.6 M2095.7 120.2 L2095.7 103 L2087.1 111.6 L2098.5 111.6" stroke-width="1"/>
<path d="M2043.8 161.9 L2046.7 159 L2052.4 159 L2055.3 161.9 L2055.3 164.7 L2043.8 176.2 L2055.3 176.2 M2061.1 161.9 L2064 159 L2069.7 159 L2072.6 161.9 L2072.6 164.7 L2061.1 176.2 L2072.6 176.2 M2081.3 159 L2087 159 L2089.9 161.9 L2089.9 173.3 L2087 176.2 L2081.3 176.2 L2078.4 173.3 L2078.4 161.9 L2081.3 159 M2078.4 173.3 L2089.9 161.9 M2095.7 159 L2095.7 176.2 M2107.2 159 L2095.7 170.5 M2099.5 166.6 L2107.2 176.2" stroke-width="1"/>
<path d="M2047 206.9 L2044.1 204 L2038.4 204 L2035.5 206.9 L2035.5 218.3 L2038.4 221.2 L2044.1 221.2 L2047 218.3 M2058.5 204 L2058.5 221.2 M2058.5 204 L2055.7 206.9 M2055.7 221.2 L2061.4 221.2 M2070.1 204 L2081.6 204 L2081.6 206.9 L2073.9 221.2" stroke-width="1"/>
<path d="M2115.8 218.8 L2118.7 218.8 L2118.7 221.2 L2115.8 221.2 L2115.8 218.8 M2132.2 204 L2137.9 204 L2140.8 206.9 L2140.8 218.3 L2137.9 221.2 L2132.2 221.2 L2129.3 218.3 L2129.3 206.9 L2132.2 204 M2129.3 218.3 L2140.8 206.9 M2155.2 221.2 L2155.2 204 L2146.6 212.6 L2158.1 212.6 M2163.9 204 L2175.4 204 L2175.4 206.9 L2167.7 221.2" stroke-width="1"/>
<polygon points="2012,293 2012,415 2134,354"/>
<polygon points="2073,269 2061.5,292 2084.5,292"/>
<path d="M2073 292 L2073 323.5"/>
<path d="M2045 281 L2057 281"/>
<path d="M2051 275 L2051 287"/>
<path d="M2073 384 L2073 431"/>
<polygon points="2061.5,431 2084.5,431 2073,454"/>
<path d="M2044.5 448 L2057.5 448"/>
<path d="M1995.5 307 L1993.5 305 L1989.5 305 L1987.5 307 L1987.5 315 L1989.5 317 L1993.5 317 L1995.5 315 L1995.5 313 L1993.5 311 L1987.5 311" stroke-width="1"/>
<path d="M1995.5 367 L1987.5 367 L1987.5 372.3 L1993.5 372.3 L1995.5 374.3 L1995.5 377 L1993.5 379 L1989.5 379 L1987.5 377" stroke-width="1"/>
<path d="M2082.5 309 L2086.5 309 L2088.5 311 L2088.5 313 L2086.5 315 L2082.5 315 L2080.5 313 L2080.5 311 L2082.5 309 M2082.5 315 L2080.5 317 L2080.5 319 L2082.5 321 L2086.5 321 L2088.5 319 L2088.5 317 L2086.5 315" stroke-width="1"/>
<path d="M2062.5 405 L2062.5 393 L2056.5 399 L2064.5 399" stroke-width="1"/>
<path d="M2138.5 335 L2146.5 335 L2146.5 337 L2141.2 347" stroke-width="1"/>
<path d="M2022 323 L2030 323"/>
<path d="M2022 384 L2030 384"/>
<path d="M2026 380 L2026 388"/>
<path d="M2027.5 344 L2027.5 358.3 L2030.4 361.2 L2036.1 361.2 L2039 358.3 L2039 344 M2056.3 344 L2044.8 344 L2044.8 351.6 L2053.4 351.6 L2056.3 354.5 L2056.3 358.3 L2053.4 361.2 L2047.7 361.2 L2044.8 358.3" stroke-width="1"/>
<path d="M2083.5 389 L2083.5 406.2 L2095 406.2 M2100.8 406.2 L2100.8 389 L2106.5 395.7 L2112.3 389 L2112.3 406.2 M2118.1 391.9 L2121 389 L2126.7 389 L2129.6 391.9 L2129.6 394.7 L2126.7 397.6 L2129.6 400.5 L2129.6 403.3 L2126.7 406.2 L2121 406.2 L2118.1 403.3 M2122.9 397.6 L2126.7 397.6 M2146.9 389 L2135.4 389 L2135.4 396.6 L2144 396.6 L2146.9 399.5 L2146.9 403.3 L2144 406.2 L2138.3 406.2 L2135.4 403.3 M2155.6 389 L2161.3 389 L2164.2 391.9 L2164.2 394.7 L2161.3 397.6 L2155.6 397.6 L2152.7 394.7 L2152.7 391.9 L2155.6 389 M2155.6 397.6 L2152.7 400.5 L2152.7 403.3 L2155.6 406.2 L2161.3 406.2 L2164.2 403.3 L2164.2 400.5 L2161.3 397.6" stroke-width="1"/>
<path d="M1936 384 L1936 430"/>
<rect x="1923" y="430" width="25" height="61"/>
<path d="M1928 468 L1943 453"/>
<path d="M1936 491 L1936 522"/>
<path d="M1913 522 L1960 522"/>
<path d="M1913 522 L1905.5 546"/>
<path d="M1936.5 522 L1929 546"/>
<path d="M1960 522 L1952.5 546"/>
<path d="M1867.5 452.2 L1867.5 435 L1876.1 435 L1879 437.9 L1879 440.7 L1876.1 443.6 L1867.5 443.6 M1873.2 443.6 L1879 452.2 M1884.8 437.9 L1887.7 435 L1893.4 435 L1896.3 437.9 L1896.3 440.7 L1893.4 443.6 L1896.3 446.5 L1896.3 449.3 L1893.4 452.2 L1887.7 452.2 L1884.8 449.3 M1889.6 443.6 L1893.4 443.6 M1902.1 437.9 L1905 435 L1910.7 435 L1913.6 437.9 L1913.6 440.7 L1902.1 452.2 L1913.6 452.2" stroke-width="1"/>
<path d="M1854.5 469.9 L1857.4 467 L1863.1 467 L1866 469.9 L1866 472.7 L1854.5 484.2 L1866 484.2 M1871.8 469.9 L1874.7 467 L1880.4 467 L1883.3 469.9 L1883.3 472.7 L1871.8 484.2 L1883.3 484.2 M1892 467 L1897.7 467 L1900.6 469.9 L1900.6 481.3 L1897.7 484.2 L1892 484.2 L1889.1 481.3 L1889.1 469.9 L1892 467 M1889.1 481.3 L1900.6 469.9 M1906.4 467 L1906.4 484.2 M1917.9 467 L1906.4 478.5 M1910.2 474.6 L1917.9 484.2" stroke-width="1"/>
<path d="M2135 353 L2257 353"/>
<rect x="2257" y="341" width="61" height="25"/>
<path d="M2280 346.5 L2295.5 361"/>
<path d="M2318 353 L2502 353"/>
<circle cx="2364" cy="353" r="7" fill="#000" stroke="none" shape-rendering="geometricPrecision"/>
<circle cx="2456" cy="353" r="7" fill="#000" stroke="none" shape-rendering="geometricPrecision"/>
<path d="M2364 353 L2364 419"/>
<path d="M2339.5 419 L2388.5 419"/>
<path d="M2339.5 430 L2388.5 430"/>
<path d="M2364 430 L2364 491"/>
<path d="M2337.5 491 L2384.5 491"/>
<path d="M2337.5 491 L2330 515"/>
<path d="M2361 491 L2353.5 515"/>
<path d="M2384.5 491 L2377 515"/>
<path d="M2296 407.9 L2293.1 405 L2287.4 405 L2284.5 407.9 L2284.5 419.3 L2287.4 422.2 L2293.1 422.2 L2296 419.3 M2307.5 405 L2307.5 422.2 M2307.5 405 L2304.7 407.9 M2304.7 422.2 L2310.4 422.2 M2322 405 L2327.7 405 L2330.6 407.9 L2330.6 410.7 L2327.7 413.6 L2322 413.6 L2319.1 410.7 L2319.1 407.9 L2322 405 M2322 413.6 L2319.1 416.5 L2319.1 419.3 L2322 422.2 L2327.7 422.2 L2330.6 419.3 L2330.6 416.5 L2327.7 413.6" stroke-width="1"/>
<path d="M2271.8 445.8 L2274.7 445.8 L2274.7 448.2 L2271.8 448.2 L2271.8 445.8 M2288.2 431 L2293.9 431 L2296.8 433.9 L2296.8 445.3 L2293.9 448.2 L2288.2 448.2 L2285.3 445.3 L2285.3 433.9 L2288.2 431 M2285.3 445.3 L2296.8 433.9 M2302.6 433.9 L2305.5 431 L2311.2 431 L2314.1 433.9 L2314.1 436.7 L2302.6 448.2 L2314.1 448.2 M2319.9 433.9 L2322.8 431 L2328.5 431 L2331.4 433.9 L2331.4 436.7 L2319.9 448.2 L2331.4 448.2" stroke-width="1"/>
<path d="M2266.5 334.2 L2266.5 317 L2275.1 317 L2277.9 319.9 L2277.9 322.7 L2275.1 325.6 L2266.5 325.6 M2272.2 325.6 L2277.9 334.2 M2283.8 319.9 L2286.6 317 L2292.4 317 L2295.2 319.9 L2295.2 322.7 L2292.4 325.6 L2295.2 328.5 L2295.2 331.3 L2292.4 334.2 L2286.6 334.2 L2283.8 331.3 M2288.5 325.6 L2292.4 325.6 M2312.5 319.9 L2309.7 317 L2303.9 317 L2301.1 319.9 L2301.1 331.3 L2303.9 334.2 L2309.7 334.2 L2312.5 331.3 L2312.5 328.5 L2309.7 325.6 L2301.1 325.6" stroke-width="1"/>
<path d="M2263.5 373 L2263.5 390.2 M2263.5 373 L2260.7 375.9 M2260.7 390.2 L2266.4 390.2 M2278 373 L2283.7 373 L2286.6 375.9 L2286.6 387.3 L2283.7 390.2 L2278 390.2 L2275.1 387.3 L2275.1 375.9 L2278 373 M2275.1 387.3 L2286.6 375.9 M2295.3 373 L2301 373 L2303.9 375.9 L2303.9 387.3 L2301 390.2 L2295.3 390.2 L2292.4 387.3 L2292.4 375.9 L2295.3 373 M2292.4 387.3 L2303.9 375.9 M2309.7 373 L2309.7 390.2 M2321.2 373 L2309.7 384.5 M2313.5 380.6 L2321.2 390.2" stroke-width="1"/>
<path d="M2456 353 L2456 567 L2624 567 L2624 699"/>
<path d="M2318 100.5 L2318 147.5"/>
<path d="M2318 101 L2295 93.5"/>
<path d="M2318 124 L2295 116.5"/>
<path d="M2318 147 L2295 139.5"/>
<path d="M2318 124 L2364 124"/>
<rect x="2364" y="111.5" width="61" height="25"/>
<path d="M2387 117 L2402.5 131.5"/>
<path d="M2425 124 L2548 124"/>
<rect x="2548" y="111.5" width="61" height="25"/>
<path d="M2571 117 L2586.5 131.5"/>
<path d="M2609 124 L2670 124 L2670 323"/>
<circle cx="2456" cy="124" r="7" fill="#000" stroke="none" shape-rendering="geometricPrecision"/>
<path d="M2456 124 L2456 292 L2502 292"/>
<circle cx="2456" cy="201" r="7" fill="#000" stroke="none" shape-rendering="geometricPrecision"/>
<path d="M2456 201 L2598 201"/>
<path d="M2608 201 L2670 201"/>
<path d="M2598 177 L2598 225"/>
<path d="M2608 177 L2608 225"/>
<circle cx="2670" cy="201" r="7" fill="#000" stroke="none" shape-rendering="geometricPrecision"/>
<circle cx="2670" cy="323" r="7" fill="#000" stroke="none" shape-rendering="geometricPrecision"/>
<path d="M2372.5 104.2 L2372.5 87 L2381.1 87 L2383.9 89.9 L2383.9 92.7 L2381.1 95.6 L2372.5 95.6 M2378.2 95.6 L2383.9 104.2 M2389.8 89.9 L2392.6 87 L2398.4 87 L2401.2 89.9 L2401.2 92.7 L2398.4 95.6 L2401.2 98.5 L2401.2 101.3 L2398.4 104.2 L2392.6 104.2 L2389.8 101.3 M2394.5 95.6 L2398.4 95.6 M2409.9 87 L2415.7 87 L2418.5 89.9 L2418.5 92.7 L2415.7 95.6 L2409.9 95.6 L2407.1 92.7 L2407.1 89.9 L2409.9 87 M2409.9 95.6 L2407.1 98.5 L2407.1 101.3 L2409.9 104.2 L2415.7 104.2 L2418.5 101.3 L2418.5 98.5 L2415.7 95.6" stroke-width="1"/>
<path d="M2386.8 145 L2386.8 162.2 M2386.8 145 L2384 147.9 M2384 162.2 L2389.7 162.2 M2398.4 145 L2398.4 162.2 M2409.9 145 L2398.4 156.5 M2402.2 152.6 L2409.9 162.2" stroke-width="1"/>
<path d="M2556.5 104.2 L2556.5 87 L2565.1 87 L2567.9 89.9 L2567.9 92.7 L2565.1 95.6 L2556.5 95.6 M2562.2 95.6 L2567.9 104.2 M2573.8 89.9 L2576.6 87 L2582.4 87 L2585.2 89.9 L2585.2 92.7 L2582.4 95.6 L2585.2 98.5 L2585.2 101.3 L2582.4 104.2 L2576.6 104.2 L2573.8 101.3 M2578.5 95.6 L2582.4 95.6 M2591.1 87 L2602.5 87 L2602.5 89.9 L2594.9 104.2" stroke-width="1"/>
<path d="M2553.5 145 L2553.5 162.2 M2553.5 145 L2550.7 147.9 M2550.7 162.2 L2556.4 162.2 M2568 145 L2573.7 145 L2576.6 147.9 L2576.6 159.3 L2573.7 162.2 L2568 162.2 L2565.1 159.3 L2565.1 147.9 L2568 145 M2565.1 159.3 L2576.6 147.9 M2585.3 145 L2591 145 L2593.9 147.9 L2593.9 159.3 L2591 162.2 L2585.3 162.2 L2582.4 159.3 L2582.4 147.9 L2585.3 145 M2582.4 159.3 L2593.9 147.9 M2599.7 145 L2599.7 162.2 M2611.2 145 L2599.7 156.5 M2603.5 152.6 L2611.2 162.2" stroke-width="1"/>
<path d="M2553 175.9 L2550.1 173 L2544.4 173 L2541.5 175.9 L2541.5 187.3 L2544.4 190.2 L2550.1 190.2 L2553 187.3 M2564.5 173 L2564.5 190.2 M2564.5 173 L2561.7 175.9 M2561.7 190.2 L2567.4 190.2 M2576.1 187.3 L2579 190.2 L2584.7 190.2 L2587.6 187.3 L2587.6 175.9 L2584.7 173 L2579 173 L2576.1 175.9 L2576.1 178.7 L2579 181.6 L2587.6 181.6" stroke-width="1"/>
<path d="M2627.8 187.8 L2630.7 187.8 L2630.7 190.2 L2627.8 190.2 L2627.8 187.8 M2647 173 L2647 190.2 M2647 173 L2644.2 175.9 M2644.2 190.2 L2649.9 190.2" stroke-width="1"/>
<polygon points="2502,262 2502,384 2624,323"/>
<polygon points="2563,238 2551.5,261 2574.5,261"/>
<path d="M2563 261 L2563 292.5"/>
<path d="M2534 251 L2546 251"/>
<path d="M2540 245 L2540 257"/>
<path d="M2563 353 L2563 399"/>
<polygon points="2551.5,399 2574.5,399 2563,422"/>
<path d="M2533.5 418 L2546.5 418"/>
<path d="M2477.5 277 L2479.5 275 L2483.5 275 L2485.5 277 L2485.5 279 L2477.5 287 L2485.5 287" stroke-width="1"/>
<path d="M2477.5 338 L2479.5 336 L2483.5 336 L2485.5 338 L2485.5 340 L2483.5 342 L2485.5 344 L2485.5 346 L2483.5 348 L2479.5 348 L2477.5 346 M2480.8 342 L2483.5 342" stroke-width="1"/>
<path d="M2572.5 278 L2576.5 278 L2578.5 280 L2578.5 282 L2576.5 284 L2572.5 284 L2570.5 282 L2570.5 280 L2572.5 278 M2572.5 284 L2570.5 286 L2570.5 288 L2572.5 290 L2576.5 290 L2578.5 288 L2578.5 286 L2576.5 284" stroke-width="1"/>
<path d="M2552.5 375 L2552.5 363 L2546.5 369 L2554.5 369" stroke-width="1"/>
<path d="M2632.5 305 L2632.5 317 M2632.5 305 L2630.5 307 M2630.5 317 L2634.5 317" stroke-width="1"/>
<path d="M2512 292 L2520 292"/>
<path d="M2512 353 L2520 353"/>
<path d="M2516 349 L2516 357"/>
<path d="M2517.5 314 L2517.5 328.3 L2520.4 331.2 L2526.1 331.2 L2529 328.3 L2529 314 M2546.3 316.9 L2543.4 314 L2537.7 314 L2534.8 316.9 L2534.8 328.3 L2537.7 331.2 L2543.4 331.2 L2546.3 328.3 L2546.3 325.5 L2543.4 322.6 L2534.8 322.6" stroke-width="1"/>
<path d="M2572.5 358 L2572.5 375.2 L2584 375.2 M2589.8 375.2 L2589.8 358 L2595.5 364.7 L2601.3 358 L2601.3 375.2 M2607.1 360.9 L2610 358 L2615.7 358 L2618.6 360.9 L2618.6 363.7 L2615.7 366.6 L2618.6 369.5 L2618.6 372.3 L2615.7 375.2 L2610 375.2 L2607.1 372.3 M2611.9 366.6 L2615.7 366.6 M2635.9 358 L2624.4 358 L2624.4 365.6 L2633 365.6 L2635.9 368.5 L2635.9 372.3 L2633 375.2 L2627.3 375.2 L2624.4 372.3 M2644.6 358 L2650.3 358 L2653.2 360.9 L2653.2 363.7 L2650.3 366.6 L2644.6 366.6 L2641.7 363.7 L2641.7 360.9 L2644.6 358 M2644.6 366.6 L2641.7 369.5 L2641.7 372.3 L2644.6 375.2 L2650.3 375.2 L2653.2 372.3 L2653.2 369.5 L2650.3 366.6" stroke-width="1"/>
<path d="M2624 323 L2701 323"/>
<rect x="2701" y="310.5" width="61" height="25"/>
<path d="M2724 316 L2739.5 330.5"/>
<path d="M2762 323 L3099 323"/>
<circle cx="2808" cy="323" r="7" fill="#000" stroke="none" shape-rendering="geometricPrecision"/>
<circle cx="3007" cy="323" r="7" fill="#000" stroke="none" shape-rendering="geometricPrecision"/>
<path d="M2709.5 304.2 L2709.5 287 L2718.1 287 L2720.9 289.9 L2720.9 292.7 L2718.1 295.6 L2709.5 295.6 M2715.2 295.6 L2720.9 304.2 M2726.8 289.9 L2729.6 287 L2735.4 287 L2738.2 289.9 L2738.2 292.7 L2735.4 295.6 L2738.2 298.5 L2738.2 301.3 L2735.4 304.2 L2729.6 304.2 L2726.8 301.3 M2731.5 295.6 L2735.4 295.6 M2744.1 301.3 L2746.9 304.2 L2752.7 304.2 L2755.5 301.3 L2755.5 289.9 L2752.7 287 L2746.9 287 L2744.1 289.9 L2744.1 292.7 L2746.9 295.6 L2755.5 295.6" stroke-width="1"/>
<path d="M2709.5 346.9 L2712.3 344 L2718.1 344 L2720.9 346.9 L2720.9 349.7 L2709.5 361.2 L2720.9 361.2 M2726.8 346.9 L2729.6 344 L2735.4 344 L2738.2 346.9 L2738.2 349.7 L2726.8 361.2 L2738.2 361.2 M2744.1 344 L2744.1 361.2 M2755.5 344 L2744.1 355.5 M2747.9 351.6 L2755.5 361.2" stroke-width="1"/>
<circle cx="2824" cy="431" r="33.5"/>
<path d="M2838 408 L2838 454"/>
<path d="M2838 430.3 L2884 430.3 L2884 506"/>
<rect x="2871.5" y="506" width="25" height="61"/>
<path d="M2876.5 544 L2891.5 529"/>
<path d="M2884 567 L2884 629 L3160 629 L3160 1302"/>
<path d="M2838 418 L2808 400 L2808 323"/>
<path d="M2838 444 L2808 462 L2808 522"/>
<polygon points="2796.5,522 2819.5,522 2808,545"/>
<path d="M2778.5 540 L2791.5 540"/>
<polygon points="2813,457 2823.3,441.2 2832.4,456.4"/>
<path d="M2755.4 409 L2761.1 409 L2764 411.9 L2764 423.3 L2761.1 426.2 L2755.4 426.2 L2752.5 423.3 L2752.5 411.9 L2755.4 409 M2758.2 420.5 L2764 427.2 M2769.8 411.9 L2772.7 409 L2778.4 409 L2781.3 411.9 L2781.3 414.7 L2778.4 417.6 L2781.3 420.5 L2781.3 423.3 L2778.4 426.2 L2772.7 426.2 L2769.8 423.3 M2774.6 417.6 L2778.4 417.6" stroke-width="1"/>
<path d="M2703.5 437 L2712.1 437 L2715 439.9 L2715 442.7 L2712.1 445.6 L2703.5 445.6 M2712.1 445.6 L2715 448.5 L2715 451.3 L2712.1 454.2 L2703.5 454.2 L2703.5 437 M2732.3 439.9 L2729.4 437 L2723.7 437 L2720.8 439.9 L2720.8 451.3 L2723.7 454.2 L2729.4 454.2 L2732.3 451.3 M2738.1 439.9 L2741 437 L2746.7 437 L2749.6 439.9 L2749.6 442.7 L2738.1 454.2 L2749.6 454.2 M2755.4 439.9 L2758.3 437 L2764 437 L2766.9 439.9 L2766.9 442.7 L2764 445.6 L2766.9 448.5 L2766.9 451.3 L2764 454.2 L2758.3 454.2 L2755.4 451.3 M2760.2 445.6 L2764 445.6 M2772.7 437 L2784.2 437 L2784.2 439.9 L2776.5 454.2" stroke-width="1"/>
<path d="M2906.5 531.2 L2906.5 514 L2915.1 514 L2918 516.9 L2918 519.7 L2915.1 522.6 L2906.5 522.6 M2912.2 522.6 L2918 531.2 M2935.3 514 L2923.8 514 L2923.8 521.6 L2932.4 521.6 L2935.3 524.5 L2935.3 528.3 L2932.4 531.2 L2926.7 531.2 L2923.8 528.3 M2952.6 514 L2941.1 514 L2941.1 521.6 L2949.7 521.6 L2952.6 524.5 L2952.6 528.3 L2949.7 531.2 L2944 531.2 L2941.1 528.3" stroke-width="1"/>
<path d="M2911.2 545 L2911.2 562.2 M2911.2 545 L2908.4 547.9 M2908.4 562.2 L2914.1 562.2 M2925.7 545 L2931.4 545 L2934.3 547.9 L2934.3 559.3 L2931.4 562.2 L2925.7 562.2 L2922.8 559.3 L2922.8 547.9 L2925.7 545 M2922.8 559.3 L2934.3 547.9 M2943 545 L2948.7 545 L2951.6 547.9 L2951.6 559.3 L2948.7 562.2 L2943 562.2 L2940.1 559.3 L2940.1 547.9 L2943 545 M2940.1 559.3 L2951.6 547.9 M2957.4 545 L2957.4 562.2 M2968.9 545 L2957.4 556.5 M2961.2 552.6 L2968.9 562.2" stroke-width="1"/>
<path d="M3007 323 L3007 369"/>
<rect x="2994" y="369" width="25" height="61"/>
<path d="M2999 407 L3014 392"/>
<path d="M3007 430 L3007 476"/>
<polygon points="2995.5,476 3018.5,476 3007,499"/>
<path d="M2977.5 495 L2990.5 495"/>
<path d="M2938.5 394.2 L2938.5 377 L2947.1 377 L2950 379.9 L2950 382.7 L2947.1 385.6 L2938.5 385.6 M2944.2 385.6 L2950 394.2 M2964.4 394.2 L2964.4 377 L2955.8 385.6 L2967.3 385.6 M2976 377 L2981.7 377 L2984.6 379.9 L2984.6 391.3 L2981.7 394.2 L2976 394.2 L2973.1 391.3 L2973.1 379.9 L2976 377 M2973.1 391.3 L2984.6 379.9" stroke-width="1"/>
<path d="M2933.2 409 L2933.2 426.2 M2933.2 409 L2930.4 411.9 M2930.4 426.2 L2936.1 426.2 M2947.7 409 L2953.4 409 L2956.3 411.9 L2956.3 423.3 L2953.4 426.2 L2947.7 426.2 L2944.8 423.3 L2944.8 411.9 L2947.7 409 M2944.8 423.3 L2956.3 411.9 M2965 409 L2970.7 409 L2973.6 411.9 L2973.6 423.3 L2970.7 426.2 L2965 426.2 L2962.1 423.3 L2962.1 411.9 L2965 409 M2962.1 423.3 L2973.6 411.9 M2979.4 409 L2979.4 426.2 M2990.9 409 L2979.4 420.5 M2983.2 416.6 L2990.9 426.2" stroke-width="1"/>
<circle cx="3114.2" cy="323.5" r="33.7"/>
<path d="M3098.7 301 L3098.7 346.6"/>
<path d="M3098.7 310.4 L3129 292.7 L3129 231"/>
<polygon points="3129.5,208 3118,231 3141,231"/>
<path d="M3148.5 219.9 L3160 219.9 M3154.2 212.5 L3154.2 225.6 M3165.8 211 L3174.4 211 L3177.3 213.9 L3177.3 216.7 L3174.4 219.6 L3165.8 219.6 M3174.4 219.6 L3177.3 222.5 L3177.3 225.3 L3174.4 228.2 L3165.8 228.2 L3165.8 211 M3183.1 228.2 L3183.1 216.7 L3188.8 211 L3194.6 211 L3194.6 228.2 M3183.1 220.6 L3194.6 220.6 M3200.4 211 L3211.9 211 M3206.1 211 L3206.1 228.2" stroke-width="1"/>
<path d="M3098.7 334.8 L3129 353.3 L3129 399.3 L3238 399.3"/>
<polygon points="3105.8,349.1 3114.7,333.1 3123.6,350"/>
<path d="M3159.4 301 L3165.1 301 L3168 303.9 L3168 315.3 L3165.1 318.2 L3159.4 318.2 L3156.5 315.3 L3156.5 303.9 L3159.4 301 M3162.2 312.5 L3168 319.2 M3182.4 318.2 L3182.4 301 L3173.8 309.6 L3185.3 309.6" stroke-width="1"/>
<path d="M3153.5 346.2 L3153.5 329 L3159.2 335.7 L3165 329 L3165 346.2 M3170.8 346.2 L3170.8 329 L3179.4 329 L3182.3 331.9 L3182.3 334.7 L3179.4 337.6 L3170.8 337.6 M3199.6 331.9 L3196.7 329 L3191 329 L3188.1 331.9 L3188.1 334.7 L3191 337.6 L3196.7 337.6 L3199.6 340.5 L3199.6 343.3 L3196.7 346.2 L3191 346.2 L3188.1 343.3 M3205.4 346.2 L3205.4 334.7 L3211.1 329 L3216.9 329 L3216.9 346.2 M3205.4 338.6 L3216.9 338.6 M3228.4 329 L3228.4 346.2 M3228.4 329 L3225.6 331.9 M3225.6 346.2 L3231.3 346.2 M3240 331.9 L3242.9 329 L3248.6 329 L3251.5 331.9 L3251.5 334.7 L3248.6 337.6 L3251.5 340.5 L3251.5 343.3 L3248.6 346.2 L3242.9 346.2 L3240 343.3 M3244.8 337.6 L3248.6 337.6" stroke-width="1"/>
<rect x="3297.4" y="421.5" width="30.3" height="43.8" stroke-width="3.6"/>
<path d="M3327.7 422.4 L3368.1 385.3" stroke-width="3.6" stroke-linecap="round"/>
<path d="M3325.2 466.2 L3374.9 499" stroke-width="3.6" stroke-linecap="round"/>
<path d="M3375.7 388.7 L3375.7 499" stroke-width="3.6" stroke-linecap="round"/>
<path d="M3238.5 395.4 L3295.7 431.6" stroke-width="3.6" stroke-linecap="round"/>
<path d="M3250.3 490.6 L3302.5 447.6" stroke-width="3.6" stroke-linecap="round"/>
<path d="M3251 490 L3251 537"/>
<rect x="3239" y="537" width="25" height="61"/>
<path d="M3244 575 L3259 560"/>
<path d="M3251 598 L3251 644"/>
<polygon points="3239.5,644 3262.5,644 3251,667"/>
<path d="M3222.5 663 L3235.5 663"/>
<path d="M3186.5 562.2 L3186.5 545 L3195.1 545 L3198 547.9 L3198 550.7 L3195.1 553.6 L3186.5 553.6 M3192.2 553.6 L3198 562.2 M3212.4 562.2 L3212.4 545 L3203.8 553.6 L3215.3 553.6 M3226.8 545 L3226.8 562.2 M3226.8 545 L3224 547.9 M3224 562.2 L3229.7 562.2" stroke-width="1"/>
<path d="M3184.5 577.9 L3187.4 575 L3193.1 575 L3196 577.9 L3196 580.7 L3184.5 592.2 L3196 592.2 M3201.8 577.9 L3204.7 575 L3210.4 575 L3213.3 577.9 L3213.3 580.7 L3201.8 592.2 L3213.3 592.2 M3222 575 L3227.7 575 L3230.6 577.9 L3230.6 589.3 L3227.7 592.2 L3222 592.2 L3219.1 589.3 L3219.1 577.9 L3222 575 M3219.1 589.3 L3230.6 577.9" stroke-width="1"/>
<path d="M3463 314 L3467 318 L3465 322"/>
<polygon points="1480.9,124.6 1531.8,105.2 1559.1,133 1553.7,137.3 1578.5,157.9 1571.8,162.7 1608.8,199.7 1605.8,201.5 1539.7,171.2 1544.6,166.4 1511.8,148.8 1519.7,143.3" fill="#000" shape-rendering="geometricPrecision" stroke-width="2"/>
<polygon points="1280.5,249 1299,268 1290,268 1290,284 1271,284 1271,268 1262,268" fill="#000" shape-rendering="geometricPrecision" stroke-width="1"/>
<path d="M1048 635.5 L1048 682.5"/>
<path d="M1048 636 L1025 628.5"/>
<path d="M1048 659 L1025 651.5"/>
<path d="M1048 682 L1025 674.5"/>
<path d="M1048 659 L1110 659"/>
<path d="M1110 634 L1110 684"/>
<path d="M1120 634 L1120 684"/>
<path d="M1120 659 L1201 659"/>
<rect x="1201" y="647" width="61" height="25"/>
<path d="M1224 652.5 L1239.5 667"/>
<path d="M1262 659 L1385 659"/>
<rect x="1385" y="647" width="61" height="25"/>
<path d="M1408 652.5 L1423.5 667"/>
<path d="M1446 659 L1523 659 L1523 843"/>
<circle cx="1308" cy="659" r="7" fill="#000" stroke="none" shape-rendering="geometricPrecision"/>
<path d="M1308 659 L1308 812 L1354 812"/>
<circle cx="1308" cy="736" r="7" fill="#000" stroke="none" shape-rendering="geometricPrecision"/>
<path d="M1308 736 L1436 736"/>
<path d="M1436 712 L1436 760"/>
<path d="M1446 712 L1446 760"/>
<path d="M1446 736 L1630 736"/>
<circle cx="1523" cy="736" r="7" fill="#000" stroke="none" shape-rendering="geometricPrecision"/>
<circle cx="1630" cy="736" r="7" fill="#000" stroke="none" shape-rendering="geometricPrecision"/>
<path d="M1209.5 640.2 L1209.5 623 L1218.1 623 L1220.9 625.9 L1220.9 628.7 L1218.1 631.6 L1209.5 631.6 M1215.2 631.6 L1220.9 640.2 M1232.5 623 L1232.5 640.2 M1232.5 623 L1229.6 625.9 M1229.6 640.2 L1235.4 640.2 M1244.1 623 L1255.5 623 L1255.5 625.9 L1247.9 640.2" stroke-width="1"/>
<path d="M1209.5 681.9 L1212.3 679 L1218.1 679 L1220.9 681.9 L1220.9 684.7 L1209.5 696.2 L1220.9 696.2 M1226.8 681.9 L1229.6 679 L1235.4 679 L1238.2 681.9 L1238.2 684.7 L1226.8 696.2 L1238.2 696.2 M1244.1 679 L1244.1 696.2 M1255.5 679 L1244.1 690.5 M1247.9 686.6 L1255.5 696.2" stroke-width="1"/>
<path d="M1393.5 638.2 L1393.5 621 L1402.1 621 L1404.9 623.9 L1404.9 626.7 L1402.1 629.6 L1393.5 629.6 M1399.2 629.6 L1404.9 638.2 M1416.5 621 L1416.5 638.2 M1416.5 621 L1413.6 623.9 M1413.6 638.2 L1419.4 638.2 M1439.5 623.9 L1436.7 621 L1430.9 621 L1428.1 623.9 L1428.1 635.3 L1430.9 638.2 L1436.7 638.2 L1439.5 635.3 L1439.5 632.5 L1436.7 629.6 L1428.1 629.6" stroke-width="1"/>
<path d="M1384.8 679.9 L1387.7 677 L1393.4 677 L1396.3 679.9 L1396.3 682.7 L1384.8 694.2 L1396.3 694.2 M1405.9 691.8 L1408.8 691.8 L1408.8 694.2 L1405.9 694.2 L1405.9 691.8 M1419.4 679.9 L1422.3 677 L1428 677 L1430.9 679.9 L1430.9 682.7 L1419.4 694.2 L1430.9 694.2 M1436.7 694.2 L1436.7 677 L1442.5 683.7 L1448.2 677 L1448.2 694.2" stroke-width="1"/>
<path d="M1407 711.9 L1404.1 709 L1398.4 709 L1395.5 711.9 L1395.5 723.3 L1398.4 726.2 L1404.1 726.2 L1407 723.3 M1412.8 723.3 L1415.7 726.2 L1421.4 726.2 L1424.3 723.3 L1424.3 711.9 L1421.4 709 L1415.7 709 L1412.8 711.9 L1412.8 714.7 L1415.7 717.6 L1424.3 717.6" stroke-width="1"/>
<path d="M1459.8 723.8 L1462.7 723.8 L1462.7 726.2 L1459.8 726.2 L1459.8 723.8 M1476.2 709 L1481.9 709 L1484.8 711.9 L1484.8 723.3 L1481.9 726.2 L1476.2 726.2 L1473.3 723.3 L1473.3 711.9 L1476.2 709 M1473.3 723.3 L1484.8 711.9 M1496.3 709 L1496.3 726.2 M1496.3 709 L1493.5 711.9 M1493.5 726.2 L1499.2 726.2" stroke-width="1"/>
<path d="M1101.2 691 L1101.2 708.2 M1101.2 691 L1098.4 693.9 M1098.4 708.2 L1104.1 708.2 M1116.6 705.8 L1119.5 705.8 L1119.5 708.2 L1116.6 708.2 L1116.6 705.8 M1133 691 L1138.7 691 L1141.6 693.9 L1141.6 705.3 L1138.7 708.2 L1133 708.2 L1130.1 705.3 L1130.1 693.9 L1133 691 M1130.1 705.3 L1141.6 693.9" stroke-width="1"/>
<path d="M1133 741.9 L1130.1 739 L1124.4 739 L1121.5 741.9 L1121.5 753.3 L1124.4 756.2 L1130.1 756.2 L1133 753.3 M1144.5 739 L1144.5 756.2 M1144.5 739 L1141.7 741.9 M1141.7 756.2 L1147.4 756.2 M1159 739 L1164.7 739 L1167.6 741.9 L1167.6 753.3 L1164.7 756.2 L1159 756.2 L1156.1 753.3 L1156.1 741.9 L1159 739 M1156.1 753.3 L1167.6 741.9" stroke-width="1" transform="rotate(-90 1120 738)"/>
<polygon points="1354,783 1354,905 1476,844"/>
<polygon points="1415,759 1403.5,782 1426.5,782"/>
<path d="M1415 782 L1415 813.5"/>
<path d="M1387 770 L1399 770"/>
<path d="M1393 764 L1393 776"/>
<path d="M1415 873.5 L1415 919"/>
<polygon points="1403.5,919 1426.5,919 1415,942"/>
<path d="M1386.5 938 L1399.5 938"/>
<path d="M1476 843 L1523 843"/>
<path d="M1337.5 797 L1335.5 795 L1331.5 795 L1329.5 797 L1329.5 805 L1331.5 807 L1335.5 807 L1337.5 805 L1337.5 803 L1335.5 801 L1329.5 801" stroke-width="1"/>
<path d="M1337.5 857 L1329.5 857 L1329.5 862.3 L1335.5 862.3 L1337.5 864.3 L1337.5 867 L1335.5 869 L1331.5 869 L1329.5 867" stroke-width="1"/>
<path d="M1427.5 809 L1427.5 797 L1421.5 803 L1429.5 803" stroke-width="1"/>
<path d="M1480.5 825 L1488.5 825 L1488.5 827 L1483.2 837" stroke-width="1"/>
<path d="M1392.8 891 L1392.8 903 M1392.8 891 L1390.8 893 M1390.8 903 L1394.8 903 M1404.2 891 L1404.2 903 M1404.2 891 L1402.2 893 M1402.2 903 L1406.2 903" stroke-width="1"/>
<path d="M1364 812 L1372 812"/>
<path d="M1364 873 L1372 873"/>
<path d="M1368 869 L1368 877"/>
<path d="M1365.5 835 L1365.5 849.3 L1368.4 852.2 L1374.1 852.2 L1377 849.3 L1377 835 M1382.8 837.9 L1385.7 835 L1391.4 835 L1394.3 837.9 L1394.3 840.7 L1391.4 843.6 L1394.3 846.5 L1394.3 849.3 L1391.4 852.2 L1385.7 852.2 L1382.8 849.3 M1387.6 843.6 L1391.4 843.6" stroke-width="1"/>
<path d="M1424.5 880 L1424.5 897.2 L1436 897.2 M1441.8 897.2 L1441.8 880 L1447.5 886.7 L1453.3 880 L1453.3 897.2 M1470.6 882.9 L1467.7 880 L1462 880 L1459.1 882.9 L1459.1 894.3 L1462 897.2 L1467.7 897.2 L1470.6 894.3 M1487.9 882.9 L1485 880 L1479.3 880 L1476.4 882.9 L1476.4 894.3 L1479.3 897.2 L1485 897.2 L1487.9 894.3 L1487.9 891.5 L1485 888.6 L1476.4 888.6 M1502.3 897.2 L1502.3 880 L1493.7 888.6 L1505.2 888.6 M1513.9 880 L1519.6 880 L1522.5 882.9 L1522.5 885.7 L1519.6 888.6 L1513.9 888.6 L1511 885.7 L1511 882.9 L1513.9 880 M1513.9 888.6 L1511 891.5 L1511 894.3 L1513.9 897.2 L1519.6 897.2 L1522.5 894.3 L1522.5 891.5 L1519.6 888.6 M1536.9 897.2 L1536.9 880 L1528.3 888.6 L1539.8 888.6" stroke-width="1"/>
<rect x="895" y="812" width="123" height="107"/>
<path d="M926 858 L987 858"/>
<circle cx="926" cy="874" r="7.2"/>
<circle cx="988" cy="874" r="7.2"/>
<path d="M956 867 L956 919" stroke-dasharray="15 8.5"/>
<path d="M930.2 906.2 L928 904 L923.7 904 L921.5 906.2 L921.5 914.8 L923.7 917 L928 917 L930.2 914.8 M931.9 904 L940.6 904 M936.2 904 L936.2 917 M942.3 904 L942.3 917 L951 917" stroke-width="1"/>
<path d="M920 794.9 L917.1 792 L911.4 792 L908.5 794.9 L908.5 806.3 L911.4 809.2 L917.1 809.2 L920 806.3 M925.8 792 L934.4 792 L937.3 794.9 L937.3 806.3 L934.4 809.2 L925.8 809.2 L925.8 792 M951.7 809.2 L951.7 792 L943.1 800.6 L954.6 800.6 M963.3 792 L969 792 L971.9 794.9 L971.9 806.3 L969 809.2 L963.3 809.2 L960.4 806.3 L960.4 794.9 L963.3 792 M960.4 806.3 L971.9 794.9 M983.4 792 L983.4 809.2 M983.4 792 L980.6 794.9 M980.6 809.2 L986.3 809.2 M1006.5 794.9 L1003.6 792 L997.9 792 L995 794.9 L995 806.3 L997.9 809.2 L1003.6 809.2 L1006.5 806.3 L1006.5 803.5 L1003.6 800.6 L995 800.6" stroke-width="1"/>
<path d="M938.6 824 L938.6 838.3 L941.5 841.2 L947.2 841.2 L950.1 838.3 L950.1 824 M955.9 826.9 L958.8 824 L964.5 824 L967.4 826.9 L967.4 829.7 L955.9 841.2 L967.4 841.2" stroke-width="1"/>
<path d="M871.5 857 L875.5 857 L877.5 859 L877.5 861 L875.5 863 L871.5 863 L869.5 861 L869.5 859 L871.5 857 M871.5 863 L869.5 865 L869.5 867 L871.5 869 L875.5 869 L877.5 867 L877.5 865 L875.5 863" stroke-width="1"/>
<path d="M1021.5 867 L1023.5 869 L1027.5 869 L1029.5 867 L1029.5 859 L1027.5 857 L1023.5 857 L1021.5 859 L1021.5 861 L1023.5 863 L1029.5 863" stroke-width="1"/>
<path d="M967.5 926 L965.5 924 L961.5 924 L959.5 926 L959.5 934 L961.5 936 L965.5 936 L967.5 934 L967.5 932 L965.5 930 L959.5 930" stroke-width="1"/>
<path d="M712 874 L758 874"/>
<rect x="758" y="861" width="61" height="25"/>
<path d="M781 866.5 L796.5 881"/>
<path d="M819 874 L919 874"/>
<path d="M994 874 L1201 874"/>
<rect x="1201" y="861" width="61" height="25"/>
<path d="M1224 866.5 L1239.5 881"/>
<path d="M1262 874 L1354 874"/>
<circle cx="1110" cy="874" r="7" fill="#000" stroke="none" shape-rendering="geometricPrecision"/>
<path d="M1110 874 L1110 924"/>
<path d="M1085 924 L1134 924"/>
<path d="M1085 935 L1134 935"/>
<path d="M1110 935 L1110 981"/>
<path d="M1082 981 L1129 981"/>
<path d="M1082 981 L1074.5 1005"/>
<path d="M1105.5 981 L1098 1005"/>
<path d="M1129 981 L1121.5 1005"/>
<path d="M775.1 854.2 L775.1 837 L783.7 837 L786.6 839.9 L786.6 842.7 L783.7 845.6 L775.1 845.6 M780.9 845.6 L786.6 854.2 M803.9 839.9 L801 837 L795.3 837 L792.4 839.9 L792.4 851.3 L795.3 854.2 L801 854.2 L803.9 851.3 L803.9 848.5 L801 845.6 L792.4 845.6" stroke-width="1"/>
<path d="M772.2 894 L772.2 911.2 M772.2 894 L769.3 896.9 M769.3 911.2 L775.1 911.2 M786.6 894 L792.4 894 L795.2 896.9 L795.2 908.3 L792.4 911.2 L786.6 911.2 L783.8 908.3 L783.8 896.9 L786.6 894 M783.8 908.3 L795.2 896.9 M801.1 894 L801.1 911.2 M812.5 894 L801.1 905.5 M804.9 901.6 L812.5 911.2" stroke-width="1"/>
<path d="M1209.5 853.2 L1209.5 836 L1218.1 836 L1220.9 838.9 L1220.9 841.7 L1218.1 844.6 L1209.5 844.6 M1215.2 844.6 L1220.9 853.2 M1232.5 836 L1232.5 853.2 M1232.5 836 L1229.6 838.9 M1229.6 853.2 L1235.4 853.2 M1255.5 836 L1244.1 836 L1244.1 843.6 L1252.7 843.6 L1255.5 846.5 L1255.5 850.3 L1252.7 853.2 L1246.9 853.2 L1244.1 850.3" stroke-width="1"/>
<path d="M1206.5 893 L1206.5 910.2 M1206.5 893 L1203.7 895.9 M1203.7 910.2 L1209.4 910.2 M1221 893 L1226.7 893 L1229.6 895.9 L1229.6 907.3 L1226.7 910.2 L1221 910.2 L1218.1 907.3 L1218.1 895.9 L1221 893 M1218.1 907.3 L1229.6 895.9 M1238.3 893 L1244 893 L1246.9 895.9 L1246.9 907.3 L1244 910.2 L1238.3 910.2 L1235.4 907.3 L1235.4 895.9 L1238.3 893 M1235.4 907.3 L1246.9 895.9 M1252.7 893 L1252.7 910.2 M1264.2 893 L1252.7 904.5 M1256.5 900.6 L1264.2 910.2" stroke-width="1"/>
<path d="M1162 909.9 L1159.1 907 L1153.4 907 L1150.5 909.9 L1150.5 921.3 L1153.4 924.2 L1159.1 924.2 L1162 921.3 M1179.3 909.9 L1176.4 907 L1170.7 907 L1167.8 909.9 L1167.8 921.3 L1170.7 924.2 L1176.4 924.2 L1179.3 921.3 L1179.3 918.5 L1176.4 915.6 L1167.8 915.6" stroke-width="1"/>
<path d="M1146.8 951.8 L1149.7 951.8 L1149.7 954.2 L1146.8 954.2 L1146.8 951.8 M1160.3 939.9 L1163.2 937 L1168.9 937 L1171.8 939.9 L1171.8 942.7 L1160.3 954.2 L1171.8 954.2 M1177.6 939.9 L1180.5 937 L1186.2 937 L1189.1 939.9 L1189.1 942.7 L1177.6 954.2 L1189.1 954.2" stroke-width="1"/>
<path d="M956 919 L956 1011 L620 1011 L620 1700 L482 1700"/>
<path d="M1630 736 L1630 797"/>
<rect x="1617" y="797" width="25" height="61"/>
<path d="M1630 858 L1630 981"/>
<circle cx="1630" cy="935" r="7" fill="#000" stroke="none" shape-rendering="geometricPrecision"/>
<rect x="1617.5" y="981.5" width="25" height="61"/>
<path d="M1622.5 1019.5 L1637.5 1004.5"/>
<path d="M1630 1042 L1630 1287"/>
<circle cx="1630" cy="1073" r="7" fill="#000" stroke="none" shape-rendering="geometricPrecision"/>
<polygon points="1642,828 1660,820 1660,836"/>
<path d="M1660 828 L1798 828"/>
<path d="M1798 804 L1798 852"/>
<path d="M1809 804 L1809 852"/>
<path d="M1809 828 L1890 828"/>
<rect x="1784" y="874" width="3.5" height="3.5"/>
<rect x="1890" y="815" width="61" height="25"/>
<path d="M1913 820.5 L1928.5 835"/>
<path d="M1951 828 L2043 828"/>
<circle cx="1997" cy="828" r="7" fill="#000" stroke="none" shape-rendering="geometricPrecision"/>
<path d="M1630 935 L1752 935 L1752 981"/>
<rect x="1740" y="981.5" width="25" height="61"/>
<path d="M1752 1042 L1752 1073"/>
<circle cx="1752" cy="1073" r="7" fill="#000" stroke="none" shape-rendering="geometricPrecision"/>
<path d="M1630 1073 L1813 1073 L1813 1011 L1784 1011"/>
<polygon points="1765,1011 1783,1003 1783,1019"/>
<circle cx="1781" cy="1037" r="10.7"/>
<path d="M1772 1030.5 L1788.5 1045.5"/>
<path d="M1774 1027 L1790.5 1042"/>
<path d="M1577.5 820.2 L1577.5 803 L1586.1 803 L1589 805.9 L1589 808.7 L1586.1 811.6 L1577.5 811.6 M1594.8 803 L1606.3 803 L1606.3 805.9 L1598.6 820.2" stroke-width="1"/>
<path d="M1574.2 837 L1574.2 854.2 M1574.2 837 L1571.4 839.9 M1571.4 854.2 L1577.1 854.2 M1588.7 837 L1594.4 837 L1597.3 839.9 L1597.3 851.3 L1594.4 854.2 L1588.7 854.2 L1585.8 851.3 L1585.8 839.9 L1588.7 837 M1585.8 851.3 L1597.3 839.9 M1603.1 837 L1603.1 854.2 M1614.6 837 L1603.1 848.5 M1606.9 844.6 L1614.6 854.2" stroke-width="1"/>
<path d="M1791 780.9 L1788.1 778 L1782.4 778 L1779.5 780.9 L1779.5 792.3 L1782.4 795.2 L1788.1 795.2 L1791 792.3 M1802.5 778 L1802.5 795.2 M1802.5 778 L1799.7 780.9 M1799.7 795.2 L1805.4 795.2 M1814.1 780.9 L1817 778 L1822.7 778 L1825.6 780.9 L1825.6 783.7 L1822.7 786.6 L1825.6 789.5 L1825.6 792.3 L1822.7 795.2 L1817 795.2 L1814.1 792.3 M1818.9 786.6 L1822.7 786.6" stroke-width="1"/>
<path d="M1810.1 878.2 L1810.1 861 L1801.5 869.6 L1813 869.6 M1818.8 861 L1830.3 861 L1830.3 863.9 L1822.6 878.2" stroke-width="1"/>
<path d="M1898.5 808.2 L1898.5 791 L1907.1 791 L1909.9 793.9 L1909.9 796.7 L1907.1 799.6 L1898.5 799.6 M1904.2 799.6 L1909.9 808.2 M1915.8 793.9 L1918.6 791 L1924.4 791 L1927.2 793.9 L1927.2 796.7 L1915.8 808.2 L1927.2 808.2 M1938.8 791 L1938.8 808.2 M1938.8 791 L1935.9 793.9 M1935.9 808.2 L1941.7 808.2" stroke-width="1"/>
<path d="M1907.1 862.2 L1907.1 845 L1898.5 853.6 L1909.9 853.6 M1915.8 845 L1927.2 845 L1927.2 847.9 L1919.6 862.2 M1933.1 845 L1933.1 862.2 M1944.5 845 L1933.1 856.5 M1936.9 852.6 L1944.5 862.2" stroke-width="1"/>
<path d="M1655.5 1007.2 L1655.5 990 L1664.1 990 L1667 992.9 L1667 995.7 L1664.1 998.6 L1655.5 998.6 M1661.2 998.6 L1667 1007.2 M1684.3 990 L1672.8 990 L1672.8 997.6 L1681.4 997.6 L1684.3 1000.5 L1684.3 1004.3 L1681.4 1007.2 L1675.7 1007.2 L1672.8 1004.3 M1690.1 990 L1701.6 990 L1701.6 992.9 L1693.9 1007.2" stroke-width="1"/>
<path d="M1668 1022 L1656.5 1022 L1656.5 1029.6 L1665.1 1029.6 L1668 1032.5 L1668 1036.3 L1665.1 1039.2 L1659.4 1039.2 L1656.5 1036.3 M1677.6 1036.8 L1680.5 1036.8 L1680.5 1039.2 L1677.6 1039.2 L1677.6 1036.8 M1696.8 1022 L1696.8 1039.2 M1696.8 1022 L1694 1024.9 M1694 1039.2 L1699.7 1039.2 M1708.4 1022 L1708.4 1039.2 M1719.9 1022 L1708.4 1033.5 M1712.2 1029.6 L1719.9 1039.2" stroke-width="1"/>
<path d="M1825.5 987 L1825.5 998.5 L1831.2 1004.2 L1837 998.5 L1837 987 M1842.8 1004.2 L1842.8 987 L1851.4 987 L1854.3 989.9 L1854.3 992.7 L1851.4 995.6 L1842.8 995.6 M1848.5 995.6 L1854.3 1004.2 M1860.1 989.9 L1863 987 L1868.7 987 L1871.6 989.9 L1871.6 992.7 L1860.1 1004.2 L1871.6 1004.2" stroke-width="1"/>
<path d="M1831.2 1020 L1831.2 1037.2 M1831.2 1020 L1828.4 1022.9 M1828.4 1037.2 L1834.1 1037.2 M1845.7 1020 L1851.4 1020 L1854.3 1022.9 L1854.3 1034.3 L1851.4 1037.2 L1845.7 1037.2 L1842.8 1034.3 L1842.8 1022.9 L1845.7 1020 M1842.8 1034.3 L1854.3 1022.9 M1860.1 1020 L1860.1 1037.2 M1871.6 1020 L1860.1 1031.5 M1863.9 1027.6 L1871.6 1037.2" stroke-width="1"/>
<path d="M1997 828 L1997 659 L2073 659"/>
<rect x="2073.5" y="647" width="61" height="25"/>
<path d="M2096.5 652.5 L2112 667"/>
<path d="M2135 659 L2226 659 L2226 858"/>
<circle cx="1997" cy="736" r="7" fill="#000" stroke="none" shape-rendering="geometricPrecision"/>
<circle cx="2226" cy="736" r="7" fill="#000" stroke="none" shape-rendering="geometricPrecision"/>
<circle cx="2226" cy="858" r="7" fill="#000" stroke="none" shape-rendering="geometricPrecision"/>
<path d="M1997 736 L2125 736"/>
<path d="M2125 712 L2125 760"/>
<path d="M2135 712 L2135 760"/>
<path d="M2135 736 L2226 736"/>
<path d="M2082.5 640.2 L2082.5 623 L2091.1 623 L2093.9 625.9 L2093.9 628.7 L2091.1 631.6 L2082.5 631.6 M2088.2 631.6 L2093.9 640.2 M2099.8 625.9 L2102.6 623 L2108.4 623 L2111.2 625.9 L2111.2 628.7 L2099.8 640.2 L2111.2 640.2 M2117.1 625.9 L2119.9 623 L2125.7 623 L2128.5 625.9 L2128.5 628.7 L2117.1 640.2 L2128.5 640.2" stroke-width="1"/>
<path d="M2096.8 677 L2096.8 694.2 M2096.8 677 L2094 679.9 M2094 694.2 L2099.7 694.2 M2108.4 694.2 L2108.4 677 L2114.2 683.7 L2119.9 677 L2119.9 694.2" stroke-width="1"/>
<path d="M2075 711.9 L2072.1 709 L2066.4 709 L2063.5 711.9 L2063.5 723.3 L2066.4 726.2 L2072.1 726.2 L2075 723.3 M2086.5 709 L2086.5 726.2 M2086.5 709 L2083.7 711.9 M2083.7 726.2 L2089.4 726.2 M2106.7 726.2 L2106.7 709 L2098.1 717.6 L2109.6 717.6" stroke-width="1"/>
<path d="M2145.8 723.8 L2148.7 723.8 L2148.7 726.2 L2145.8 726.2 L2145.8 723.8 M2162.2 709 L2167.9 709 L2170.8 711.9 L2170.8 723.3 L2167.9 726.2 L2162.2 726.2 L2159.3 723.3 L2159.3 711.9 L2162.2 709 M2159.3 723.3 L2170.8 711.9 M2176.6 711.9 L2179.5 709 L2185.2 709 L2188.1 711.9 L2188.1 714.7 L2176.6 726.2 L2188.1 726.2 M2193.9 711.9 L2196.8 709 L2202.5 709 L2205.4 711.9 L2205.4 714.7 L2193.9 726.2 L2205.4 726.2" stroke-width="1"/>
<polygon points="2043,798 2043,920 2165,859"/>
<path d="M2043 889 L1982 889 L1982 919"/>
<path d="M1957.5 919 L2004.5 919"/>
<path d="M1957.5 919 L1950 943"/>
<path d="M1981 919 L1973.5 943"/>
<path d="M2004.5 919 L1997 943"/>
<polygon points="2104,774 2092.5,797 2115.5,797"/>
<path d="M2104 797 L2104 828.5"/>
<path d="M2076 786 L2088 786"/>
<path d="M2082 780 L2082 792"/>
<path d="M2104 889 L2104 935"/>
<polygon points="2092.5,935 2115.5,935 2104,958"/>
<path d="M2075.5 954 L2088.5 954"/>
<path d="M2018.5 812 L2020.5 810 L2024.5 810 L2026.5 812 L2026.5 814 L2018.5 822 L2026.5 822" stroke-width="1"/>
<path d="M2018.5 874 L2020.5 872 L2024.5 872 L2026.5 874 L2026.5 876 L2024.5 878 L2026.5 880 L2026.5 882 L2024.5 884 L2020.5 884 L2018.5 882 M2021.8 878 L2024.5 878" stroke-width="1"/>
<path d="M2115.5 825 L2115.5 813 L2109.5 819 L2117.5 819" stroke-width="1"/>
<path d="M2173.5 841 L2173.5 853 M2173.5 841 L2171.5 843 M2171.5 853 L2175.5 853" stroke-width="1"/>
<path d="M2081.8 905 L2081.8 917 M2081.8 905 L2079.8 907 M2079.8 917 L2083.8 917 M2093.2 905 L2093.2 917 M2093.2 905 L2091.2 907 M2091.2 917 L2095.2 917" stroke-width="1"/>
<path d="M2053 828 L2061 828"/>
<path d="M2053 889 L2061 889"/>
<path d="M2057 885 L2057 893"/>
<path d="M2055.5 850 L2055.5 864.3 L2058.4 867.2 L2064.1 867.2 L2067 864.3 L2067 850 M2072.8 852.9 L2075.7 850 L2081.4 850 L2084.3 852.9 L2084.3 855.7 L2081.4 858.6 L2084.3 861.5 L2084.3 864.3 L2081.4 867.2 L2075.7 867.2 L2072.8 864.3 M2077.6 858.6 L2081.4 858.6" stroke-width="1"/>
<path d="M2112.5 895 L2112.5 912.2 L2124 912.2 M2129.8 912.2 L2129.8 895 L2135.5 901.7 L2141.3 895 L2141.3 912.2 M2158.6 897.9 L2155.7 895 L2150 895 L2147.1 897.9 L2147.1 909.3 L2150 912.2 L2155.7 912.2 L2158.6 909.3 M2175.9 897.9 L2173 895 L2167.3 895 L2164.4 897.9 L2164.4 909.3 L2167.3 912.2 L2173 912.2 L2175.9 909.3 L2175.9 906.5 L2173 903.6 L2164.4 903.6 M2190.3 912.2 L2190.3 895 L2181.7 903.6 L2193.2 903.6 M2201.9 895 L2207.6 895 L2210.5 897.9 L2210.5 900.7 L2207.6 903.6 L2201.9 903.6 L2199 900.7 L2199 897.9 L2201.9 895 M2201.9 903.6 L2199 906.5 L2199 909.3 L2201.9 912.2 L2207.6 912.2 L2210.5 909.3 L2210.5 906.5 L2207.6 903.6 M2224.9 912.2 L2224.9 895 L2216.3 903.6 L2227.8 903.6" stroke-width="1"/>
<path d="M2165 858 L2379 858"/>
<polygon points="2379,828 2379,950 2501,889"/>
<path d="M2379 919 L2288 919 L2288 1502"/>
<polygon points="2441,789 2429.5,812 2452.5,812"/>
<path d="M2441 812 L2441 859"/>
<path d="M2411.5 801 L2424.5 801"/>
<path d="M2441 919 L2441 950"/>
<polygon points="2429.5,950 2452.5,950 2441,973"/>
<path d="M2412 970 L2424 970"/>
<path d="M2418 964 L2418 976"/>
<path d="M2362.5 862 L2354.5 862 L2354.5 867.3 L2360.5 867.3 L2362.5 869.3 L2362.5 872 L2360.5 874 L2356.5 874 L2354.5 872" stroke-width="1"/>
<path d="M2362.5 926 L2360.5 924 L2356.5 924 L2354.5 926 L2354.5 934 L2356.5 936 L2360.5 936 L2362.5 934 L2362.5 932 L2360.5 930 L2354.5 930" stroke-width="1"/>
<path d="M2430.5 846 L2430.5 834 L2424.5 840 L2432.5 840" stroke-width="1"/>
<path d="M2449.5 920 L2453.5 920 L2455.5 922 L2455.5 924 L2453.5 926 L2449.5 926 L2447.5 924 L2447.5 922 L2449.5 920 M2449.5 926 L2447.5 928 L2447.5 930 L2449.5 932 L2453.5 932 L2455.5 930 L2455.5 928 L2453.5 926" stroke-width="1"/>
<path d="M2505.5 893 L2513.5 893 L2513.5 895 L2508.2 905" stroke-width="1"/>
<path d="M2389 858 L2397 858"/>
<path d="M2393 854 L2393 862"/>
<path d="M2389 919 L2397 919"/>
<path d="M2394.5 881 L2394.5 895.3 L2397.4 898.2 L2403.1 898.2 L2406 895.3 L2406 881 M2420.4 898.2 L2420.4 881 L2411.8 889.6 L2423.3 889.6" stroke-width="1"/>
<path d="M2451.5 837 L2451.5 854.2 L2463 854.2 M2468.8 854.2 L2468.8 837 L2474.5 843.7 L2480.3 837 L2480.3 854.2 M2486.1 839.9 L2489 837 L2494.7 837 L2497.6 839.9 L2497.6 842.7 L2494.7 845.6 L2497.6 848.5 L2497.6 851.3 L2494.7 854.2 L2489 854.2 L2486.1 851.3 M2490.9 845.6 L2494.7 845.6 M2503.4 851.3 L2506.3 854.2 L2512 854.2 L2514.9 851.3 L2514.9 839.9 L2512 837 L2506.3 837 L2503.4 839.9 L2503.4 842.7 L2506.3 845.6 L2514.9 845.6 M2520.7 839.9 L2523.6 837 L2529.3 837 L2532.2 839.9 L2532.2 842.7 L2529.3 845.6 L2532.2 848.5 L2532.2 851.3 L2529.3 854.2 L2523.6 854.2 L2520.7 851.3 M2525.5 845.6 L2529.3 845.6" stroke-width="1"/>
<path d="M2502 889 L2548 889 L2548 1291"/>
<circle cx="2548" cy="1073" r="7" fill="#000" stroke="none" shape-rendering="geometricPrecision"/>
<circle cx="2548" cy="1227" r="7" fill="#000" stroke="none" shape-rendering="geometricPrecision"/>
<path d="M1997 1287 L1997 1026 L2050 1026"/>
<path d="M2073 1026 L2143 1026"/>
<path d="M2165 1026 L2226 1026 L2226 1317"/>
<path d="M2050 1008 L2050 1045"/>
<polygon points="2050,1026 2073,1012 2073,1041"/>
<path d="M2143 1008 L2143 1045"/>
<polygon points="2143,1026 2165,1012 2165,1041"/>
<path d="M2048.5 987 L2057.1 987 L2060 989.9 L2060 1001.3 L2057.1 1004.2 L2048.5 1004.2 L2048.5 987 M2071.5 987 L2071.5 1004.2 M2071.5 987 L2068.7 989.9 M2068.7 1004.2 L2074.4 1004.2" stroke-width="1"/>
<path d="M2143.5 987 L2152.1 987 L2155 989.9 L2155 1001.3 L2152.1 1004.2 L2143.5 1004.2 L2143.5 987 M2160.8 989.9 L2163.7 987 L2169.4 987 L2172.3 989.9 L2172.3 992.7 L2160.8 1004.2 L2172.3 1004.2" stroke-width="1"/>
<path d="M2044.1 1066.2 L2044.1 1049 L2035.5 1057.6 L2047 1057.6 M2058.5 1049 L2058.5 1066.2 M2058.5 1049 L2055.7 1051.9 M2055.7 1066.2 L2061.4 1066.2 M2078.7 1066.2 L2078.7 1049 L2070.1 1057.6 L2081.6 1057.6 M2090.3 1049 L2096 1049 L2098.9 1051.9 L2098.9 1054.7 L2096 1057.6 L2090.3 1057.6 L2087.4 1054.7 L2087.4 1051.9 L2090.3 1049 M2090.3 1057.6 L2087.4 1060.5 L2087.4 1063.3 L2090.3 1066.2 L2096 1066.2 L2098.9 1063.3 L2098.9 1060.5 L2096 1057.6" stroke-width="1"/>
<path d="M2130.1 1066.2 L2130.1 1049 L2121.5 1057.6 L2133 1057.6 M2144.5 1049 L2144.5 1066.2 M2144.5 1049 L2141.7 1051.9 M2141.7 1066.2 L2147.4 1066.2 M2164.7 1066.2 L2164.7 1049 L2156.1 1057.6 L2167.6 1057.6 M2176.3 1049 L2182 1049 L2184.9 1051.9 L2184.9 1054.7 L2182 1057.6 L2176.3 1057.6 L2173.4 1054.7 L2173.4 1051.9 L2176.3 1049 M2176.3 1057.6 L2173.4 1060.5 L2173.4 1063.3 L2176.3 1066.2 L2182 1066.2 L2184.9 1063.3 L2184.9 1060.5 L2182 1057.6" stroke-width="1"/>
<path d="M1997 1118 L2073 1118"/>
<rect x="2073.5" y="1106" width="61" height="25"/>
<path d="M2096.5 1111.5 L2112 1126"/>
<path d="M2135 1118 L2226 1118"/>
<circle cx="1997" cy="1118" r="7" fill="#000" stroke="none" shape-rendering="geometricPrecision"/>
<circle cx="2226" cy="1118" r="7" fill="#000" stroke="none" shape-rendering="geometricPrecision"/>
<path d="M2082.5 1098.2 L2082.5 1081 L2091.1 1081 L2093.9 1083.9 L2093.9 1086.7 L2091.1 1089.6 L2082.5 1089.6 M2088.2 1089.6 L2093.9 1098.2 M2099.8 1083.9 L2102.6 1081 L2108.4 1081 L2111.2 1083.9 L2111.2 1086.7 L2099.8 1098.2 L2111.2 1098.2 M2119.9 1081 L2125.7 1081 L2128.5 1083.9 L2128.5 1095.3 L2125.7 1098.2 L2119.9 1098.2 L2117.1 1095.3 L2117.1 1083.9 L2119.9 1081 M2117.1 1095.3 L2128.5 1083.9" stroke-width="1"/>
<path d="M2096.8 1137 L2096.8 1154.2 M2096.8 1137 L2094 1139.9 M2094 1154.2 L2099.7 1154.2 M2108.4 1154.2 L2108.4 1137 L2114.2 1143.7 L2119.9 1137 L2119.9 1154.2" stroke-width="1"/>
<path d="M1997 1196 L2125 1196"/>
<path d="M2125 1172 L2125 1220"/>
<path d="M2135 1172 L2135 1220"/>
<path d="M2135 1196 L2379 1196"/>
<circle cx="1997" cy="1196" r="7" fill="#000" stroke="none" shape-rendering="geometricPrecision"/>
<circle cx="2226" cy="1196" r="7" fill="#000" stroke="none" shape-rendering="geometricPrecision"/>
<circle cx="2334" cy="1196" r="7" fill="#000" stroke="none" shape-rendering="geometricPrecision"/>
<path d="M2079 1169.9 L2076.1 1167 L2070.4 1167 L2067.5 1169.9 L2067.5 1181.3 L2070.4 1184.2 L2076.1 1184.2 L2079 1181.3 M2090.5 1167 L2090.5 1184.2 M2090.5 1167 L2087.7 1169.9 M2087.7 1184.2 L2093.4 1184.2 M2102.1 1169.9 L2105 1167 L2110.7 1167 L2113.6 1169.9 L2113.6 1172.7 L2102.1 1184.2 L2113.6 1184.2" stroke-width="1"/>
<path d="M2145.8 1181.8 L2148.7 1181.8 L2148.7 1184.2 L2145.8 1184.2 L2145.8 1181.8 M2162.2 1167 L2167.9 1167 L2170.8 1169.9 L2170.8 1181.3 L2167.9 1184.2 L2162.2 1184.2 L2159.3 1181.3 L2159.3 1169.9 L2162.2 1167 M2159.3 1181.3 L2170.8 1169.9 M2176.6 1169.9 L2179.5 1167 L2185.2 1167 L2188.1 1169.9 L2188.1 1172.7 L2176.6 1184.2 L2188.1 1184.2 M2193.9 1169.9 L2196.8 1167 L2202.5 1167 L2205.4 1169.9 L2205.4 1172.7 L2193.9 1184.2 L2205.4 1184.2" stroke-width="1"/>
<path d="M2334 1196 L2333 1073 L2364 1073"/>
<rect x="2364" y="1060" width="61" height="25"/>
<path d="M2387 1065.5 L2402.5 1080"/>
<path d="M2425 1073 L2495 1073"/>
<path d="M2495 1054 L2495 1092"/>
<polygon points="2495,1073 2517,1058 2517,1088"/>
<path d="M2517 1073 L2548 1073"/>
<circle cx="2456" cy="1073" r="7" fill="#000" stroke="none" shape-rendering="geometricPrecision"/>
<path d="M2456 1073 L2456 1011 L2624 1011 L2624 774"/>
<path d="M2372.5 1054.2 L2372.5 1037 L2381.1 1037 L2383.9 1039.9 L2383.9 1042.7 L2381.1 1045.6 L2372.5 1045.6 M2378.2 1045.6 L2383.9 1054.2 M2389.8 1039.9 L2392.6 1037 L2398.4 1037 L2401.2 1039.9 L2401.2 1042.7 L2389.8 1054.2 L2401.2 1054.2 M2407.1 1039.9 L2409.9 1037 L2415.7 1037 L2418.5 1039.9 L2418.5 1042.7 L2415.7 1045.6 L2418.5 1048.5 L2418.5 1051.3 L2415.7 1054.2 L2409.9 1054.2 L2407.1 1051.3 M2411.8 1045.6 L2415.7 1045.6" stroke-width="1"/>
<path d="M2381.1 1110.2 L2381.1 1093 L2372.5 1101.6 L2383.9 1101.6 M2389.8 1093 L2401.2 1093 L2401.2 1095.9 L2393.6 1110.2 M2407.1 1093 L2407.1 1110.2 M2418.5 1093 L2407.1 1104.5 M2410.9 1100.6 L2418.5 1110.2" stroke-width="1"/>
<path d="M2493.5 1033 L2502.1 1033 L2505 1035.9 L2505 1047.3 L2502.1 1050.2 L2493.5 1050.2 L2493.5 1033 M2510.8 1035.9 L2513.7 1033 L2519.4 1033 L2522.3 1035.9 L2522.3 1038.7 L2519.4 1041.6 L2522.3 1044.5 L2522.3 1047.3 L2519.4 1050.2 L2513.7 1050.2 L2510.8 1047.3 M2515.6 1041.6 L2519.4 1041.6" stroke-width="1"/>
<path d="M2483 1097 L2471.5 1097 L2471.5 1104.6 L2480.1 1104.6 L2483 1107.5 L2483 1111.3 L2480.1 1114.2 L2474.4 1114.2 L2471.5 1111.3 M2488.8 1099.9 L2491.7 1097 L2497.4 1097 L2500.3 1099.9 L2500.3 1102.7 L2488.8 1114.2 L2500.3 1114.2 M2506.1 1099.9 L2509 1097 L2514.7 1097 L2517.6 1099.9 L2517.6 1102.7 L2506.1 1114.2 L2517.6 1114.2 M2523.4 1099.9 L2526.3 1097 L2532 1097 L2534.9 1099.9 L2534.9 1102.7 L2532 1105.6 L2534.9 1108.5 L2534.9 1111.3 L2532 1114.2 L2526.3 1114.2 L2523.4 1111.3 M2528.2 1105.6 L2532 1105.6" stroke-width="1"/>
<rect x="2563" y="675" width="107" height="122"/>
<circle cx="2624" cy="706" r="7.2"/>
<circle cx="2624" cy="767" r="7.2"/>
<path d="M2609 706 L2609 766"/>
<path d="M2617 736 L2670 736" stroke-dasharray="13 10"/>
<path d="M2670 736 L2732 736"/>
<circle cx="2732" cy="736" r="7" fill="#000" stroke="none" shape-rendering="geometricPrecision"/>
<path d="M2553 790.4 L2550.1 787.5 L2544.4 787.5 L2541.5 790.4 L2541.5 801.8 L2544.4 804.7 L2550.1 804.7 L2553 801.8 M2558.8 787.5 L2567.4 787.5 L2570.3 790.4 L2570.3 801.8 L2567.4 804.7 L2558.8 804.7 L2558.8 787.5 M2584.7 804.7 L2584.7 787.5 L2576.1 796.1 L2587.6 796.1 M2596.3 787.5 L2602 787.5 L2604.9 790.4 L2604.9 801.8 L2602 804.7 L2596.3 804.7 L2593.4 801.8 L2593.4 790.4 L2596.3 787.5 M2593.4 801.8 L2604.9 790.4 M2616.4 787.5 L2616.4 804.7 M2616.4 787.5 L2613.6 790.4 M2613.6 804.7 L2619.3 804.7 M2639.5 790.4 L2636.6 787.5 L2630.9 787.5 L2628 790.4 L2628 801.8 L2630.9 804.7 L2636.6 804.7 L2639.5 801.8 L2639.5 799 L2636.6 796.1 L2628 796.1" stroke-width="1" transform="rotate(-90 2540 786.5)"/>
<path d="M2575.5 750 L2575.5 764.3 L2578.4 767.2 L2584.1 767.2 L2587 764.3 L2587 750 M2592.8 752.9 L2595.7 750 L2601.4 750 L2604.3 752.9 L2604.3 755.7 L2592.8 767.2 L2604.3 767.2" stroke-width="1" transform="rotate(-90 2574 749)"/>
<path d="M2664.2 737.2 L2662 735 L2657.7 735 L2655.5 737.2 L2655.5 745.8 L2657.7 748 L2662 748 L2664.2 745.8 M2665.9 735 L2674.6 735 M2670.2 735 L2670.2 748 M2676.3 735 L2676.3 748 L2685 748" stroke-width="1" transform="rotate(-90 2654 734)"/>
<path d="M2612.5 671.5 L2612.5 683.5 M2612.5 671.5 L2610.5 673.5 M2610.5 683.5 L2614.5 683.5 M2624 671.5 L2624 683.5 M2624 671.5 L2622 673.5 M2622 683.5 L2626 683.5" stroke-width="1" transform="rotate(-90 2607 670.5)"/>
<path d="M2679.5 762 L2679.5 774 M2679.5 762 L2677.5 764 M2677.5 774 L2681.5 774 M2687 764 L2689 762 L2693 762 L2695 764 L2695 766 L2687 774 L2695 774" stroke-width="1" transform="rotate(-90 2674 761)"/>
<path d="M2612 822.5 L2612 834.5 M2612 822.5 L2610 824.5 M2610 834.5 L2614 834.5 M2621.5 822.5 L2625.5 822.5 L2627.5 824.5 L2627.5 832.5 L2625.5 834.5 L2621.5 834.5 L2619.5 832.5 L2619.5 824.5 L2621.5 822.5 M2619.5 832.5 L2627.5 824.5" stroke-width="1" transform="rotate(-90 2606.5 821.5)"/>
<polygon points="2731,560 2719.5,583 2742.5,583"/>
<path d="M2703 572 L2715 572"/>
<path d="M2709 566 L2709 578"/>
<path d="M2731 583 L2731 629"/>
<rect x="2718.5" y="629" width="25" height="61"/>
<path d="M2723.5 667 L2738.5 652"/>
<path d="M2731 690 L2731 736"/>
<path d="M2752.5 654.2 L2752.5 637 L2761.1 637 L2764 639.9 L2764 642.7 L2761.1 645.6 L2752.5 645.6 M2758.2 645.6 L2764 654.2 M2769.8 639.9 L2772.7 637 L2778.4 637 L2781.3 639.9 L2781.3 642.7 L2769.8 654.2 L2781.3 654.2 M2787.1 637 L2798.6 637 L2798.6 639.9 L2790.9 654.2" stroke-width="1"/>
<path d="M2757.2 671 L2757.2 688.2 M2757.2 671 L2754.4 673.9 M2754.4 688.2 L2760.1 688.2 M2771.7 671 L2777.4 671 L2780.3 673.9 L2780.3 685.3 L2777.4 688.2 L2771.7 688.2 L2768.8 685.3 L2768.8 673.9 L2771.7 671 M2768.8 685.3 L2780.3 673.9 M2789 671 L2794.7 671 L2797.6 673.9 L2797.6 685.3 L2794.7 688.2 L2789 688.2 L2786.1 685.3 L2786.1 673.9 L2789 671 M2786.1 685.3 L2797.6 673.9 M2803.4 671 L2803.4 688.2 M2814.9 671 L2803.4 682.5 M2807.2 678.6 L2814.9 688.2" stroke-width="1"/>
<path d="M2730.5 736 L2730.5 801" stroke-width="3.5"/>
<path d="M2763 811 L2730.5 850 L2730.5 919" stroke-width="3.5"/>
<polygon points="2719,919 2742,919 2730.5,942"/>
<path d="M2701.5 938 L2714.5 938"/>
<polygon points="3221,820 3209.5,843 3232.5,843"/>
<path d="M3238 832 L3250 832"/>
<path d="M3244 826 L3244 838"/>
<path d="M3221 843 L3221 889"/>
<rect x="3208.5" y="889" width="25" height="61"/>
<path d="M3213.5 927 L3228.5 912"/>
<path d="M3221 950 L3221 1011 L3160 1011"/>
<path d="M3240.5 912.2 L3240.5 895 L3249.1 895 L3252 897.9 L3252 900.7 L3249.1 903.6 L3240.5 903.6 M3246.2 903.6 L3252 912.2 M3269.3 895 L3257.8 895 L3257.8 902.6 L3266.4 902.6 L3269.3 905.5 L3269.3 909.3 L3266.4 912.2 L3260.7 912.2 L3257.8 909.3 M3283.7 912.2 L3283.7 895 L3275.1 903.6 L3286.6 903.6" stroke-width="1"/>
<path d="M3247.2 931 L3247.2 948.2 M3247.2 931 L3244.4 933.9 M3244.4 948.2 L3250.1 948.2 M3261.7 931 L3267.4 931 L3270.3 933.9 L3270.3 945.3 L3267.4 948.2 L3261.7 948.2 L3258.8 945.3 L3258.8 933.9 L3261.7 931 M3258.8 945.3 L3270.3 933.9 M3276.1 931 L3276.1 948.2 M3287.6 931 L3276.1 942.5 M3279.9 938.6 L3287.6 948.2" stroke-width="1"/>
<circle cx="3160" cy="1011" r="7" fill="#000" stroke="none" shape-rendering="geometricPrecision"/>
<circle cx="3160" cy="1149" r="7" fill="#000" stroke="none" shape-rendering="geometricPrecision"/>
<path d="M2777 1241 L2777 1011 L2930 1011"/>
<rect x="2930" y="998.5" width="61" height="25"/>
<path d="M2953 1004 L2968.5 1018.5"/>
<path d="M2991 1011 L3160 1011"/>
<path d="M2938.5 992.2 L2938.5 975 L2947.1 975 L2949.9 977.9 L2949.9 980.7 L2947.1 983.6 L2938.5 983.6 M2944.2 983.6 L2949.9 992.2 M2967.2 975 L2955.8 975 L2955.8 982.6 L2964.4 982.6 L2967.2 985.5 L2967.2 989.3 L2964.4 992.2 L2958.6 992.2 L2955.8 989.3 M2973.1 977.9 L2975.9 975 L2981.7 975 L2984.5 977.9 L2984.5 980.7 L2981.7 983.6 L2984.5 986.5 L2984.5 989.3 L2981.7 992.2 L2975.9 992.2 L2973.1 989.3 M2977.8 983.6 L2981.7 983.6" stroke-width="1"/>
<path d="M2935.5 1030 L2935.5 1047.2 M2935.5 1030 L2932.7 1032.9 M2932.7 1047.2 L2938.4 1047.2 M2950 1030 L2955.7 1030 L2958.6 1032.9 L2958.6 1044.3 L2955.7 1047.2 L2950 1047.2 L2947.1 1044.3 L2947.1 1032.9 L2950 1030 M2947.1 1044.3 L2958.6 1032.9 M2967.3 1030 L2973 1030 L2975.9 1032.9 L2975.9 1044.3 L2973 1047.2 L2967.3 1047.2 L2964.4 1044.3 L2964.4 1032.9 L2967.3 1030 M2964.4 1044.3 L2975.9 1032.9 M2981.7 1030 L2981.7 1047.2 M2993.2 1030 L2981.7 1041.5 M2985.5 1037.6 L2993.2 1047.2" stroke-width="1"/>
<circle cx="2777" cy="1118" r="7" fill="#000" stroke="none" shape-rendering="geometricPrecision"/>
<path d="M2777 1118 L2991 1118"/>
<path d="M2753 1241 L2802 1241"/>
<path d="M2753 1251 L2802 1251"/>
<path d="M2777 1251 L2777 1332"/>
<path d="M2750.5 1332 L2797.5 1332"/>
<path d="M2750.5 1332 L2743 1356"/>
<path d="M2774 1332 L2766.5 1356"/>
<path d="M2797.5 1332 L2790 1356"/>
<path d="M2709 1224.9 L2706.1 1222 L2700.4 1222 L2697.5 1224.9 L2697.5 1236.3 L2700.4 1239.2 L2706.1 1239.2 L2709 1236.3 M2714.8 1224.9 L2717.7 1222 L2723.4 1222 L2726.3 1224.9 L2726.3 1227.7 L2723.4 1230.6 L2726.3 1233.5 L2726.3 1236.3 L2723.4 1239.2 L2717.7 1239.2 L2714.8 1236.3 M2719.6 1230.6 L2723.4 1230.6 M2737.8 1222 L2737.8 1239.2 M2737.8 1222 L2735 1224.9 M2735 1239.2 L2740.7 1239.2" stroke-width="1"/>
<path d="M2697.8 1267.8 L2700.7 1267.8 L2700.7 1270.2 L2697.8 1270.2 L2697.8 1267.8 M2714.2 1253 L2719.9 1253 L2722.8 1255.9 L2722.8 1267.3 L2719.9 1270.2 L2714.2 1270.2 L2711.3 1267.3 L2711.3 1255.9 L2714.2 1253 M2711.3 1267.3 L2722.8 1255.9 M2734.3 1253 L2734.3 1270.2 M2734.3 1253 L2731.5 1255.9 M2731.5 1270.2 L2737.2 1270.2" stroke-width="1"/>
<polygon points="2991,1089 2991,1211 3113,1150"/>
<polygon points="3053,1066 3041.5,1089 3064.5,1089"/>
<path d="M3053 1089 L3053 1120"/>
<path d="M3070 1077 L3082 1077"/>
<path d="M3076 1071 L3076 1083"/>
<path d="M3053 1179 L3053 1225"/>
<polygon points="3041.5,1225 3064.5,1225 3053,1248"/>
<path d="M3023.5 1244 L3036.5 1244"/>
<path d="M2991 1180 L2900 1180 L2900 1225"/>
<circle cx="2946" cy="1180" r="7" fill="#000" stroke="none" shape-rendering="geometricPrecision"/>
<rect x="2887" y="1225.5" width="25" height="61"/>
<path d="M2892 1263.5 L2907 1248.5"/>
<path d="M2900 1287 L2900 1332"/>
<path d="M2872.5 1332 L2919.5 1332"/>
<path d="M2872.5 1332 L2865 1356"/>
<path d="M2896 1332 L2888.5 1356"/>
<path d="M2919.5 1332 L2912 1356"/>
<path d="M2832.5 1249.2 L2832.5 1232 L2841.1 1232 L2844 1234.9 L2844 1237.7 L2841.1 1240.6 L2832.5 1240.6 M2838.2 1240.6 L2844 1249.2 M2861.3 1232 L2849.8 1232 L2849.8 1239.6 L2858.4 1239.6 L2861.3 1242.5 L2861.3 1246.3 L2858.4 1249.2 L2852.7 1249.2 L2849.8 1246.3 M2872.8 1232 L2872.8 1249.2 M2872.8 1232 L2870 1234.9 M2870 1249.2 L2875.7 1249.2" stroke-width="1"/>
<path d="M2818.5 1267.9 L2821.4 1265 L2827.1 1265 L2830 1267.9 L2830 1270.7 L2818.5 1282.2 L2830 1282.2 M2835.8 1267.9 L2838.7 1265 L2844.4 1265 L2847.3 1267.9 L2847.3 1270.7 L2835.8 1282.2 L2847.3 1282.2 M2856 1265 L2861.7 1265 L2864.6 1267.9 L2864.6 1279.3 L2861.7 1282.2 L2856 1282.2 L2853.1 1279.3 L2853.1 1267.9 L2856 1265 M2853.1 1279.3 L2864.6 1267.9 M2870.4 1265 L2870.4 1282.2 M2881.9 1265 L2870.4 1276.5 M2874.2 1272.6 L2881.9 1282.2" stroke-width="1"/>
<path d="M2946 1180 L2946 1302 L3022 1302"/>
<rect x="3022" y="1290" width="61" height="25"/>
<path d="M3045 1295.5 L3060.5 1310"/>
<path d="M3083 1302 L3160 1302"/>
<path d="M3030.5 1283.2 L3030.5 1266 L3039.1 1266 L3041.9 1268.9 L3041.9 1271.7 L3039.1 1274.6 L3030.5 1274.6 M3036.2 1274.6 L3041.9 1283.2 M3059.2 1266 L3047.8 1266 L3047.8 1273.6 L3056.4 1273.6 L3059.2 1276.5 L3059.2 1280.3 L3056.4 1283.2 L3050.6 1283.2 L3047.8 1280.3 M3065.1 1268.9 L3067.9 1266 L3073.7 1266 L3076.5 1268.9 L3076.5 1271.7 L3065.1 1283.2 L3076.5 1283.2" stroke-width="1"/>
<path d="M3021.8 1323.9 L3024.7 1321 L3030.4 1321 L3033.3 1323.9 L3033.3 1326.7 L3021.8 1338.2 L3033.3 1338.2 M3039.1 1323.9 L3042 1321 L3047.7 1321 L3050.6 1323.9 L3050.6 1326.7 L3039.1 1338.2 L3050.6 1338.2 M3059.3 1321 L3065 1321 L3067.9 1323.9 L3067.9 1335.3 L3065 1338.2 L3059.3 1338.2 L3056.4 1335.3 L3056.4 1323.9 L3059.3 1321 M3056.4 1335.3 L3067.9 1323.9 M3073.7 1321 L3073.7 1338.2 M3085.2 1321 L3073.7 1332.5 M3077.5 1328.6 L3085.2 1338.2" stroke-width="1"/>
<path d="M3114 1149 L3221 1149"/>
<polygon points="3221,1138 3244,1149.5 3221,1161"/>
<path d="M3266.1 1158.2 L3266.1 1141 L3257.5 1149.6 L3269 1149.6 M3277.7 1141 L3283.4 1141 L3286.3 1143.9 L3286.3 1155.3 L3283.4 1158.2 L3277.7 1158.2 L3274.8 1155.3 L3274.8 1143.9 L3277.7 1141 M3274.8 1155.3 L3286.3 1143.9 M3295 1141 L3300.7 1141 L3303.6 1143.9 L3303.6 1155.3 L3300.7 1158.2 L3295 1158.2 L3292.1 1155.3 L3292.1 1143.9 L3295 1141 M3292.1 1155.3 L3303.6 1143.9 M3309.4 1141 L3309.4 1158.2 M3320.9 1141 L3320.9 1158.2 M3309.4 1149.6 L3320.9 1149.6 M3326.7 1141 L3338.2 1141 L3326.7 1158.2 L3338.2 1158.2" stroke-width="1"/>
<path d="M2966.5 1103 L2968.5 1101 L2972.5 1101 L2974.5 1103 L2974.5 1105 L2966.5 1113 L2974.5 1113" stroke-width="1"/>
<path d="M2966.5 1165 L2968.5 1163 L2972.5 1163 L2974.5 1165 L2974.5 1167 L2972.5 1169 L2974.5 1171 L2974.5 1173 L2972.5 1175 L2968.5 1175 L2966.5 1173 M2969.8 1169 L2972.5 1169" stroke-width="1"/>
<path d="M3061.5 1104 L3065.5 1104 L3067.5 1106 L3067.5 1108 L3065.5 1110 L3061.5 1110 L3059.5 1108 L3059.5 1106 L3061.5 1104 M3061.5 1110 L3059.5 1112 L3059.5 1114 L3061.5 1116 L3065.5 1116 L3067.5 1114 L3067.5 1112 L3065.5 1110" stroke-width="1"/>
<path d="M3121.5 1132 L3121.5 1144 M3121.5 1132 L3119.5 1134 M3119.5 1144 L3123.5 1144" stroke-width="1"/>
<path d="M3041.5 1201 L3041.5 1189 L3035.5 1195 L3043.5 1195" stroke-width="1"/>
<path d="M3001 1118 L3009 1118"/>
<path d="M3001 1180 L3009 1180"/>
<path d="M3005 1176 L3005 1184"/>
<path d="M3005.5 1141 L3005.5 1155.3 L3008.4 1158.2 L3014.1 1158.2 L3017 1155.3 L3017 1141 M3022.8 1141 L3034.3 1141 L3034.3 1143.9 L3026.6 1158.2" stroke-width="1"/>
<path d="M3062.5 1184 L3062.5 1201.2 L3074 1201.2 M3079.8 1201.2 L3079.8 1184 L3085.5 1190.7 L3091.3 1184 L3091.3 1201.2 M3097.1 1186.9 L3100 1184 L3105.7 1184 L3108.6 1186.9 L3108.6 1189.7 L3105.7 1192.6 L3108.6 1195.5 L3108.6 1198.3 L3105.7 1201.2 L3100 1201.2 L3097.1 1198.3 M3101.9 1192.6 L3105.7 1192.6 M3114.4 1198.3 L3117.3 1201.2 L3123 1201.2 L3125.9 1198.3 L3125.9 1186.9 L3123 1184 L3117.3 1184 L3114.4 1186.9 L3114.4 1189.7 L3117.3 1192.6 L3125.9 1192.6 M3131.7 1186.9 L3134.6 1184 L3140.3 1184 L3143.2 1186.9 L3143.2 1189.7 L3140.3 1192.6 L3143.2 1195.5 L3143.2 1198.3 L3140.3 1201.2 L3134.6 1201.2 L3131.7 1198.3 M3136.5 1192.6 L3140.3 1192.6" stroke-width="1"/>
<path d="M1048 1079.5 L1048 1126.5"/>
<path d="M1048 1080 L1025 1072.5"/>
<path d="M1048 1103 L1025 1095.5"/>
<path d="M1048 1126 L1025 1118.5"/>
<path d="M1048 1103 L1110 1103"/>
<path d="M1110 1080 L1110 1126"/>
<path d="M1120 1080 L1120 1126"/>
<path d="M1120 1103 L1201 1103"/>
<rect x="1201" y="1091" width="61" height="25"/>
<path d="M1224 1096.5 L1239.5 1111"/>
<path d="M1262 1103 L1385 1103"/>
<rect x="1385" y="1091" width="61" height="25"/>
<path d="M1408 1096.5 L1423.5 1111"/>
<path d="M1446 1103 L1523 1103 L1523 1287"/>
<circle cx="1308" cy="1103" r="7" fill="#000" stroke="none" shape-rendering="geometricPrecision"/>
<path d="M1308 1103 L1308 1256 L1354 1256"/>
<circle cx="1308" cy="1180" r="7" fill="#000" stroke="none" shape-rendering="geometricPrecision"/>
<path d="M1308 1180 L1436 1180"/>
<path d="M1436 1156 L1436 1204"/>
<path d="M1446 1156 L1446 1204"/>
<path d="M1446 1180 L1523 1180"/>
<circle cx="1523" cy="1180" r="7" fill="#000" stroke="none" shape-rendering="geometricPrecision"/>
<circle cx="1523" cy="1287" r="7" fill="#000" stroke="none" shape-rendering="geometricPrecision"/>
<path d="M1113 1057.9 L1110.1 1055 L1104.4 1055 L1101.5 1057.9 L1101.5 1069.3 L1104.4 1072.2 L1110.1 1072.2 L1113 1069.3 M1121.7 1055 L1127.4 1055 L1130.3 1057.9 L1130.3 1060.7 L1127.4 1063.6 L1121.7 1063.6 L1118.8 1060.7 L1118.8 1057.9 L1121.7 1055 M1121.7 1063.6 L1118.8 1066.5 L1118.8 1069.3 L1121.7 1072.2 L1127.4 1072.2 L1130.3 1069.3 L1130.3 1066.5 L1127.4 1063.6" stroke-width="1"/>
<path d="M1099.2 1130 L1099.2 1147.2 M1099.2 1130 L1096.4 1132.9 M1096.4 1147.2 L1102.1 1147.2 M1114.6 1144.8 L1117.5 1144.8 L1117.5 1147.2 L1114.6 1147.2 L1114.6 1144.8 M1131 1130 L1136.7 1130 L1139.6 1132.9 L1139.6 1144.3 L1136.7 1147.2 L1131 1147.2 L1128.1 1144.3 L1128.1 1132.9 L1131 1130 M1128.1 1144.3 L1139.6 1132.9" stroke-width="1"/>
<path d="M1209.5 1084.2 L1209.5 1067 L1218.1 1067 L1220.9 1069.9 L1220.9 1072.7 L1218.1 1075.6 L1209.5 1075.6 M1215.2 1075.6 L1220.9 1084.2 M1232.5 1067 L1232.5 1084.2 M1232.5 1067 L1229.6 1069.9 M1229.6 1084.2 L1235.4 1084.2 M1252.7 1084.2 L1252.7 1067 L1244.1 1075.6 L1255.5 1075.6" stroke-width="1"/>
<path d="M1209.5 1124.9 L1212.3 1122 L1218.1 1122 L1220.9 1124.9 L1220.9 1127.7 L1209.5 1139.2 L1220.9 1139.2 M1226.8 1124.9 L1229.6 1122 L1235.4 1122 L1238.2 1124.9 L1238.2 1127.7 L1226.8 1139.2 L1238.2 1139.2 M1244.1 1122 L1244.1 1139.2 M1255.5 1122 L1244.1 1133.5 M1247.9 1129.6 L1255.5 1139.2" stroke-width="1"/>
<path d="M1393.5 1084.2 L1393.5 1067 L1402.1 1067 L1404.9 1069.9 L1404.9 1072.7 L1402.1 1075.6 L1393.5 1075.6 M1399.2 1075.6 L1404.9 1084.2 M1416.5 1067 L1416.5 1084.2 M1416.5 1067 L1413.6 1069.9 M1413.6 1084.2 L1419.4 1084.2 M1428.1 1069.9 L1430.9 1067 L1436.7 1067 L1439.5 1069.9 L1439.5 1072.7 L1436.7 1075.6 L1439.5 1078.5 L1439.5 1081.3 L1436.7 1084.2 L1430.9 1084.2 L1428.1 1081.3 M1432.8 1075.6 L1436.7 1075.6" stroke-width="1"/>
<path d="M1384.8 1124.9 L1387.7 1122 L1393.4 1122 L1396.3 1124.9 L1396.3 1127.7 L1384.8 1139.2 L1396.3 1139.2 M1405.9 1136.8 L1408.8 1136.8 L1408.8 1139.2 L1405.9 1139.2 L1405.9 1136.8 M1419.4 1124.9 L1422.3 1122 L1428 1122 L1430.9 1124.9 L1430.9 1127.7 L1419.4 1139.2 L1430.9 1139.2 M1436.7 1139.2 L1436.7 1122 L1442.5 1128.7 L1448.2 1122 L1448.2 1139.2" stroke-width="1"/>
<path d="M1404 1155.9 L1401.1 1153 L1395.4 1153 L1392.5 1155.9 L1392.5 1167.3 L1395.4 1170.2 L1401.1 1170.2 L1404 1167.3 M1409.8 1153 L1421.3 1153 L1421.3 1155.9 L1413.6 1170.2" stroke-width="1"/>
<path d="M1461.8 1167.8 L1464.7 1167.8 L1464.7 1170.2 L1461.8 1170.2 L1461.8 1167.8 M1478.2 1153 L1483.9 1153 L1486.8 1155.9 L1486.8 1167.3 L1483.9 1170.2 L1478.2 1170.2 L1475.3 1167.3 L1475.3 1155.9 L1478.2 1153 M1475.3 1167.3 L1486.8 1155.9 M1498.3 1153 L1498.3 1170.2 M1498.3 1153 L1495.5 1155.9 M1495.5 1170.2 L1501.2 1170.2" stroke-width="1"/>
<polygon points="1354,1226 1354,1348 1476,1287"/>
<polygon points="1415,1202 1403.5,1225 1426.5,1225"/>
<path d="M1415 1225 L1415 1256.5"/>
<path d="M1387 1214 L1399 1214"/>
<path d="M1393 1208 L1393 1220"/>
<path d="M1415 1317 L1415 1364"/>
<polygon points="1403.5,1364 1426.5,1364 1415,1387"/>
<path d="M1386.5 1382 L1399.5 1382"/>
<path d="M1329.5 1249 L1331.5 1251 L1335.5 1251 L1337.5 1249 L1337.5 1241 L1335.5 1239 L1331.5 1239 L1329.5 1241 L1329.5 1243 L1331.5 1245 L1337.5 1245" stroke-width="1"/>
<path d="M1333.8 1300 L1333.8 1312 M1333.8 1300 L1331.8 1302 M1331.8 1312 L1335.8 1312 M1343.2 1300 L1347.2 1300 L1349.2 1302 L1349.2 1310 L1347.2 1312 L1343.2 1312 L1341.2 1310 L1341.2 1302 L1343.2 1300 M1341.2 1310 L1349.2 1302" stroke-width="1"/>
<path d="M1427.5 1253 L1427.5 1241 L1421.5 1247 L1429.5 1247" stroke-width="1"/>
<path d="M1482.5 1269 L1486.5 1269 L1488.5 1271 L1488.5 1273 L1486.5 1275 L1482.5 1275 L1480.5 1273 L1480.5 1271 L1482.5 1269 M1482.5 1275 L1480.5 1277 L1480.5 1279 L1482.5 1281 L1486.5 1281 L1488.5 1279 L1488.5 1277 L1486.5 1275" stroke-width="1"/>
<path d="M1392.8 1333 L1392.8 1345 M1392.8 1333 L1390.8 1335 M1390.8 1345 L1394.8 1345 M1404.2 1333 L1404.2 1345 M1404.2 1333 L1402.2 1335 M1402.2 1345 L1406.2 1345" stroke-width="1"/>
<path d="M1364 1256 L1372 1256"/>
<path d="M1364 1317 L1372 1317"/>
<path d="M1368 1313 L1368 1321"/>
<path d="M1365.5 1278 L1365.5 1292.3 L1368.4 1295.2 L1374.1 1295.2 L1377 1292.3 L1377 1278 M1382.8 1280.9 L1385.7 1278 L1391.4 1278 L1394.3 1280.9 L1394.3 1283.7 L1391.4 1286.6 L1394.3 1289.5 L1394.3 1292.3 L1391.4 1295.2 L1385.7 1295.2 L1382.8 1292.3 M1387.6 1286.6 L1391.4 1286.6" stroke-width="1"/>
<path d="M1424.5 1323 L1424.5 1340.2 L1436 1340.2 M1441.8 1340.2 L1441.8 1323 L1447.5 1329.7 L1453.3 1323 L1453.3 1340.2 M1470.6 1325.9 L1467.7 1323 L1462 1323 L1459.1 1325.9 L1459.1 1337.3 L1462 1340.2 L1467.7 1340.2 L1470.6 1337.3 M1487.9 1325.9 L1485 1323 L1479.3 1323 L1476.4 1325.9 L1476.4 1337.3 L1479.3 1340.2 L1485 1340.2 L1487.9 1337.3 L1487.9 1334.5 L1485 1331.6 L1476.4 1331.6 M1502.3 1340.2 L1502.3 1323 L1493.7 1331.6 L1505.2 1331.6 M1513.9 1323 L1519.6 1323 L1522.5 1325.9 L1522.5 1328.7 L1519.6 1331.6 L1513.9 1331.6 L1511 1328.7 L1511 1325.9 L1513.9 1323 M1513.9 1331.6 L1511 1334.5 L1511 1337.3 L1513.9 1340.2 L1519.6 1340.2 L1522.5 1337.3 L1522.5 1334.5 L1519.6 1331.6 M1536.9 1340.2 L1536.9 1323 L1528.3 1331.6 L1539.8 1331.6" stroke-width="1"/>
<path d="M1476 1287 L1798 1287"/>
<path d="M1798 1262 L1798 1310"/>
<path d="M1808 1262 L1808 1310"/>
<path d="M1808 1287 L1890 1287"/>
<rect x="1890" y="1274" width="61" height="25"/>
<path d="M1913 1279.5 L1928.5 1294"/>
<path d="M1951 1287 L2043 1287"/>
<circle cx="1630" cy="1287" r="7" fill="#000" stroke="none" shape-rendering="geometricPrecision"/>
<circle cx="1997" cy="1287" r="7" fill="#000" stroke="none" shape-rendering="geometricPrecision"/>
<path d="M1791 1239.9 L1788.1 1237 L1782.4 1237 L1779.5 1239.9 L1779.5 1251.3 L1782.4 1254.2 L1788.1 1254.2 L1791 1251.3 M1802.5 1237 L1802.5 1254.2 M1802.5 1237 L1799.7 1239.9 M1799.7 1254.2 L1805.4 1254.2 M1819.8 1237 L1819.8 1254.2 M1819.8 1237 L1817 1239.9 M1817 1254.2 L1822.7 1254.2" stroke-width="1"/>
<path d="M1785.8 1333.8 L1788.7 1333.8 L1788.7 1336.2 L1785.8 1336.2 L1785.8 1333.8 M1807.9 1336.2 L1807.9 1319 L1799.3 1327.6 L1810.8 1327.6 M1816.6 1319 L1828.1 1319 L1828.1 1321.9 L1820.4 1336.2" stroke-width="1"/>
<path d="M1898.5 1268.2 L1898.5 1251 L1907.1 1251 L1909.9 1253.9 L1909.9 1256.7 L1907.1 1259.6 L1898.5 1259.6 M1904.2 1259.6 L1909.9 1268.2 M1921.5 1251 L1921.5 1268.2 M1921.5 1251 L1918.6 1253.9 M1918.6 1268.2 L1924.4 1268.2 M1933.1 1265.3 L1935.9 1268.2 L1941.7 1268.2 L1944.5 1265.3 L1944.5 1253.9 L1941.7 1251 L1935.9 1251 L1933.1 1253.9 L1933.1 1256.7 L1935.9 1259.6 L1944.5 1259.6" stroke-width="1"/>
<path d="M1907.1 1324.2 L1907.1 1307 L1898.5 1315.6 L1909.9 1315.6 M1915.8 1307 L1927.2 1307 L1927.2 1309.9 L1919.6 1324.2 M1933.1 1307 L1933.1 1324.2 M1944.5 1307 L1933.1 1318.5 M1936.9 1314.6 L1944.5 1324.2" stroke-width="1"/>
<rect x="1629" y="1327" width="2" height="2"/>
<rect x="895" y="1271" width="123" height="107"/>
<path d="M926 1332 L987 1332"/>
<circle cx="926" cy="1317" r="7.2"/>
<circle cx="988" cy="1317" r="7.2"/>
<path d="M956 1271 L956 1324" stroke-dasharray="15 8.5"/>
<path d="M931.2 1277.2 L929 1275 L924.7 1275 L922.5 1277.2 L922.5 1285.8 L924.7 1288 L929 1288 L931.2 1285.8 M932.9 1275 L941.6 1275 M937.2 1275 L937.2 1288 M943.3 1275 L943.3 1288 L952 1288" stroke-width="1"/>
<path d="M919 1386.9 L916.1 1384 L910.4 1384 L907.5 1386.9 L907.5 1398.3 L910.4 1401.2 L916.1 1401.2 L919 1398.3 M924.8 1384 L933.4 1384 L936.3 1386.9 L936.3 1398.3 L933.4 1401.2 L924.8 1401.2 L924.8 1384 M950.7 1401.2 L950.7 1384 L942.1 1392.6 L953.6 1392.6 M962.3 1384 L968 1384 L970.9 1386.9 L970.9 1398.3 L968 1401.2 L962.3 1401.2 L959.4 1398.3 L959.4 1386.9 L962.3 1384 M959.4 1398.3 L970.9 1386.9 M982.4 1384 L982.4 1401.2 M982.4 1384 L979.6 1386.9 M979.6 1401.2 L985.3 1401.2 M1005.5 1386.9 L1002.6 1384 L996.9 1384 L994 1386.9 L994 1398.3 L996.9 1401.2 L1002.6 1401.2 L1005.5 1398.3 L1005.5 1395.5 L1002.6 1392.6 L994 1392.6" stroke-width="1"/>
<path d="M939.1 1349 L939.1 1363.3 L942 1366.2 L947.7 1366.2 L950.6 1363.3 L950.6 1349 M956.4 1351.9 L959.3 1349 L965 1349 L967.9 1351.9 L967.9 1354.7 L956.4 1366.2 L967.9 1366.2" stroke-width="1"/>
<path d="M876.5 1333 L876.5 1321 L870.5 1327 L878.5 1327" stroke-width="1"/>
<path d="M1022.5 1323 L1024.5 1321 L1028.5 1321 L1030.5 1323 L1030.5 1325 L1028.5 1327 L1030.5 1329 L1030.5 1331 L1028.5 1333 L1024.5 1333 L1022.5 1331 M1025.8 1327 L1028.5 1327" stroke-width="1"/>
<path d="M968.5 1254 L960.5 1254 L960.5 1259.3 L966.5 1259.3 L968.5 1261.3 L968.5 1264 L966.5 1266 L962.5 1266 L960.5 1264" stroke-width="1"/>
<path d="M712 1317 L758 1317"/>
<rect x="758" y="1304.5" width="61" height="25"/>
<path d="M781 1310 L796.5 1324.5"/>
<path d="M819 1317 L919 1317"/>
<path d="M995 1317 L1201 1317"/>
<rect x="1201" y="1304.5" width="61" height="25"/>
<path d="M1224 1310 L1239.5 1324.5"/>
<path d="M1262 1317 L1354 1317"/>
<circle cx="1110" cy="1317" r="7" fill="#000" stroke="none" shape-rendering="geometricPrecision"/>
<path d="M956 1211 L956 1271"/>
<path d="M666 1211 L956 1211"/>
<circle cx="666" cy="1211" r="7" fill="#000" stroke="none" shape-rendering="geometricPrecision"/>
<path d="M1110 1317 L1110 1369"/>
<path d="M1085 1369 L1134 1369"/>
<path d="M1085 1378 L1134 1378"/>
<path d="M1110 1378 L1110 1424"/>
<path d="M1082 1424 L1129 1424"/>
<path d="M1082 1424 L1074.5 1448"/>
<path d="M1105.5 1424 L1098 1448"/>
<path d="M1129 1424 L1121.5 1448"/>
<path d="M775.1 1298.2 L775.1 1281 L783.7 1281 L786.6 1283.9 L786.6 1286.7 L783.7 1289.6 L775.1 1289.6 M780.9 1289.6 L786.6 1298.2 M801 1298.2 L801 1281 L792.4 1289.6 L803.9 1289.6" stroke-width="1"/>
<path d="M772.2 1336 L772.2 1353.2 M772.2 1336 L769.3 1338.9 M769.3 1353.2 L775.1 1353.2 M786.6 1336 L792.4 1336 L795.2 1338.9 L795.2 1350.3 L792.4 1353.2 L786.6 1353.2 L783.8 1350.3 L783.8 1338.9 L786.6 1336 M783.8 1350.3 L795.2 1338.9 M801.1 1336 L801.1 1353.2 M812.5 1336 L801.1 1347.5 M804.9 1343.6 L812.5 1353.2" stroke-width="1"/>
<path d="M1209.5 1299.2 L1209.5 1282 L1218.1 1282 L1220.9 1284.9 L1220.9 1287.7 L1218.1 1290.6 L1209.5 1290.6 M1215.2 1290.6 L1220.9 1299.2 M1232.5 1282 L1232.5 1299.2 M1232.5 1282 L1229.6 1284.9 M1229.6 1299.2 L1235.4 1299.2 M1244.1 1284.9 L1246.9 1282 L1252.7 1282 L1255.5 1284.9 L1255.5 1287.7 L1244.1 1299.2 L1255.5 1299.2" stroke-width="1"/>
<path d="M1206.5 1336 L1206.5 1353.2 M1206.5 1336 L1203.7 1338.9 M1203.7 1353.2 L1209.4 1353.2 M1221 1336 L1226.7 1336 L1229.6 1338.9 L1229.6 1350.3 L1226.7 1353.2 L1221 1353.2 L1218.1 1350.3 L1218.1 1338.9 L1221 1336 M1218.1 1350.3 L1229.6 1338.9 M1238.3 1336 L1244 1336 L1246.9 1338.9 L1246.9 1350.3 L1244 1353.2 L1238.3 1353.2 L1235.4 1350.3 L1235.4 1338.9 L1238.3 1336 M1235.4 1350.3 L1246.9 1338.9 M1252.7 1336 L1252.7 1353.2 M1264.2 1336 L1252.7 1347.5 M1256.5 1343.6 L1264.2 1353.2" stroke-width="1"/>
<path d="M1161 1351.9 L1158.1 1349 L1152.4 1349 L1149.5 1351.9 L1149.5 1363.3 L1152.4 1366.2 L1158.1 1366.2 L1161 1363.3 M1178.3 1349 L1166.8 1349 L1166.8 1356.6 L1175.4 1356.6 L1178.3 1359.5 L1178.3 1363.3 L1175.4 1366.2 L1169.7 1366.2 L1166.8 1363.3" stroke-width="1"/>
<path d="M1143.8 1388.8 L1146.7 1388.8 L1146.7 1391.2 L1143.8 1391.2 L1143.8 1388.8 M1157.3 1376.9 L1160.2 1374 L1165.9 1374 L1168.8 1376.9 L1168.8 1379.7 L1157.3 1391.2 L1168.8 1391.2 M1174.6 1376.9 L1177.5 1374 L1183.2 1374 L1186.1 1376.9 L1186.1 1379.7 L1174.6 1391.2 L1186.1 1391.2" stroke-width="1"/>
<path d="M712 1394 L712 1394"/>
<rect x="699" y="1394" width="25" height="61"/>
<path d="M704 1432 L719 1417"/>
<path d="M712 1455 L712 1501"/>
<path d="M684.5 1501 L731.5 1501"/>
<path d="M684.5 1501 L677 1525"/>
<path d="M708 1501 L700.5 1525"/>
<path d="M731.5 1501 L724 1525"/>
<path d="M731.5 1416.2 L731.5 1399 L740.1 1399 L743 1401.9 L743 1404.7 L740.1 1407.6 L731.5 1407.6 M737.2 1407.6 L743 1416.2 M754.5 1399 L754.5 1416.2 M754.5 1399 L751.7 1401.9 M751.7 1416.2 L757.4 1416.2 M771.8 1399 L771.8 1416.2 M771.8 1399 L769 1401.9 M769 1416.2 L774.7 1416.2" stroke-width="1"/>
<path d="M743.2 1431 L743.2 1448.2 M743.2 1431 L740.4 1433.9 M740.4 1448.2 L746.1 1448.2 M754.8 1431 L754.8 1448.2 M766.3 1431 L754.8 1442.5 M758.6 1438.6 L766.3 1448.2" stroke-width="1"/>
<polygon points="2043,1257 2043,1379 2165,1318"/>
<path d="M2043 1348 L1982 1348 L1982 1379"/>
<path d="M1957.5 1379 L2004.5 1379"/>
<path d="M1957.5 1379 L1950 1403"/>
<path d="M1981 1379 L1973.5 1403"/>
<path d="M2004.5 1379 L1997 1403"/>
<polygon points="2104,1233 2092.5,1256 2115.5,1256"/>
<path d="M2104 1256 L2104 1287.5"/>
<path d="M2076 1245 L2088 1245"/>
<path d="M2082 1239 L2082 1251"/>
<path d="M2104 1348 L2104 1394"/>
<polygon points="2092.5,1394 2115.5,1394 2104,1417"/>
<path d="M2075.5 1413 L2088.5 1413"/>
<path d="M2023.8 1269 L2023.8 1281 M2023.8 1269 L2021.8 1271 M2021.8 1281 L2025.8 1281 M2031.2 1271 L2033.2 1269 L2037.2 1269 L2039.2 1271 L2039.2 1273 L2037.2 1275 L2039.2 1277 L2039.2 1279 L2037.2 1281 L2033.2 1281 L2031.2 1279 M2034.6 1275 L2037.2 1275" stroke-width="1"/>
<path d="M2023.8 1330 L2023.8 1342 M2023.8 1330 L2021.8 1332 M2021.8 1342 L2025.8 1342 M2031.2 1332 L2033.2 1330 L2037.2 1330 L2039.2 1332 L2039.2 1334 L2031.2 1342 L2039.2 1342" stroke-width="1"/>
<path d="M2115.5 1284 L2115.5 1272 L2109.5 1278 L2117.5 1278" stroke-width="1"/>
<path d="M2173.8 1300 L2173.8 1312 M2173.8 1300 L2171.8 1302 M2171.8 1312 L2175.8 1312 M2187.2 1312 L2187.2 1300 L2181.2 1306 L2189.2 1306" stroke-width="1"/>
<path d="M2081.8 1364 L2081.8 1376 M2081.8 1364 L2079.8 1366 M2079.8 1376 L2083.8 1376 M2093.2 1364 L2093.2 1376 M2093.2 1364 L2091.2 1366 M2091.2 1376 L2095.2 1376" stroke-width="1"/>
<path d="M2053 1287 L2061 1287"/>
<path d="M2053 1348 L2061 1348"/>
<path d="M2057 1344 L2057 1352"/>
<path d="M2055.5 1309 L2055.5 1323.3 L2058.4 1326.2 L2064.1 1326.2 L2067 1323.3 L2067 1309 M2072.8 1311.9 L2075.7 1309 L2081.4 1309 L2084.3 1311.9 L2084.3 1314.7 L2081.4 1317.6 L2084.3 1320.5 L2084.3 1323.3 L2081.4 1326.2 L2075.7 1326.2 L2072.8 1323.3 M2077.6 1317.6 L2081.4 1317.6" stroke-width="1"/>
<path d="M2112.5 1354 L2112.5 1371.2 L2124 1371.2 M2129.8 1371.2 L2129.8 1354 L2135.5 1360.7 L2141.3 1354 L2141.3 1371.2 M2158.6 1356.9 L2155.7 1354 L2150 1354 L2147.1 1356.9 L2147.1 1368.3 L2150 1371.2 L2155.7 1371.2 L2158.6 1368.3 M2175.9 1356.9 L2173 1354 L2167.3 1354 L2164.4 1356.9 L2164.4 1368.3 L2167.3 1371.2 L2173 1371.2 L2175.9 1368.3 L2175.9 1365.5 L2173 1362.6 L2164.4 1362.6 M2190.3 1371.2 L2190.3 1354 L2181.7 1362.6 L2193.2 1362.6 M2201.9 1354 L2207.6 1354 L2210.5 1356.9 L2210.5 1359.7 L2207.6 1362.6 L2201.9 1362.6 L2199 1359.7 L2199 1356.9 L2201.9 1354 M2201.9 1362.6 L2199 1365.5 L2199 1368.3 L2201.9 1371.2 L2207.6 1371.2 L2210.5 1368.3 L2210.5 1365.5 L2207.6 1362.6 M2224.9 1371.2 L2224.9 1354 L2216.3 1362.6 L2227.8 1362.6" stroke-width="1"/>
<path d="M2165 1317 L2226 1317"/>
<polygon points="2379,1165 2379,1287 2501,1226"/>
<path d="M2288 1257 L2379 1257"/>
<circle cx="2288" cy="1257" r="7" fill="#000" stroke="none" shape-rendering="geometricPrecision"/>
<polygon points="2441,1126 2429.5,1149 2452.5,1149"/>
<path d="M2441 1149 L2441 1196"/>
<path d="M2411.5 1137 L2424.5 1137"/>
<path d="M2441 1256 L2441 1287"/>
<polygon points="2429.5,1287 2452.5,1287 2441,1310"/>
<path d="M2412 1307 L2424 1307"/>
<path d="M2418 1301 L2418 1313"/>
<path d="M2354.5 1201 L2356.5 1199 L2360.5 1199 L2362.5 1201 L2362.5 1203 L2360.5 1205 L2362.5 1207 L2362.5 1209 L2360.5 1211 L2356.5 1211 L2354.5 1209 M2357.8 1205 L2360.5 1205" stroke-width="1"/>
<path d="M2354.5 1262 L2356.5 1260 L2360.5 1260 L2362.5 1262 L2362.5 1264 L2354.5 1272 L2362.5 1272" stroke-width="1"/>
<path d="M2430.5 1183 L2430.5 1171 L2424.5 1177 L2432.5 1177" stroke-width="1"/>
<path d="M2449.5 1257 L2453.5 1257 L2455.5 1259 L2455.5 1261 L2453.5 1263 L2449.5 1263 L2447.5 1261 L2447.5 1259 L2449.5 1257 M2449.5 1263 L2447.5 1265 L2447.5 1267 L2449.5 1269 L2453.5 1269 L2455.5 1267 L2455.5 1265 L2453.5 1263" stroke-width="1"/>
<path d="M2509.5 1230 L2509.5 1242 M2509.5 1230 L2507.5 1232 M2507.5 1242 L2511.5 1242" stroke-width="1"/>
<path d="M2389 1196 L2397 1196"/>
<path d="M2393 1192 L2393 1200"/>
<path d="M2389 1257 L2397 1257"/>
<path d="M2394.5 1219 L2394.5 1233.3 L2397.4 1236.2 L2403.1 1236.2 L2406 1233.3 L2406 1219 M2420.4 1236.2 L2420.4 1219 L2411.8 1227.6 L2423.3 1227.6" stroke-width="1"/>
<path d="M2451.5 1174 L2451.5 1191.2 L2463 1191.2 M2468.8 1191.2 L2468.8 1174 L2474.5 1180.7 L2480.3 1174 L2480.3 1191.2 M2486.1 1176.9 L2489 1174 L2494.7 1174 L2497.6 1176.9 L2497.6 1179.7 L2494.7 1182.6 L2497.6 1185.5 L2497.6 1188.3 L2494.7 1191.2 L2489 1191.2 L2486.1 1188.3 M2490.9 1182.6 L2494.7 1182.6 M2503.4 1188.3 L2506.3 1191.2 L2512 1191.2 L2514.9 1188.3 L2514.9 1176.9 L2512 1174 L2506.3 1174 L2503.4 1176.9 L2503.4 1179.7 L2506.3 1182.6 L2514.9 1182.6 M2520.7 1176.9 L2523.6 1174 L2529.3 1174 L2532.2 1176.9 L2532.2 1179.7 L2529.3 1182.6 L2532.2 1185.5 L2532.2 1188.3 L2529.3 1191.2 L2523.6 1191.2 L2520.7 1188.3 M2525.5 1182.6 L2529.3 1182.6" stroke-width="1"/>
<path d="M2502 1226 L2548 1226"/>
<path d="M2523.5 1291 L2572.5 1291"/>
<path d="M2523.5 1302 L2572.5 1302"/>
<path d="M2548 1302 L2548 1348"/>
<polygon points="2536.5,1348 2559.5,1348 2548,1371"/>
<path d="M2518.5 1367 L2531.5 1367"/>
<path d="M2605 1279.9 L2602.1 1277 L2596.4 1277 L2593.5 1279.9 L2593.5 1291.3 L2596.4 1294.2 L2602.1 1294.2 L2605 1291.3 M2610.8 1279.9 L2613.7 1277 L2619.4 1277 L2622.3 1279.9 L2622.3 1282.7 L2619.4 1285.6 L2622.3 1288.5 L2622.3 1291.3 L2619.4 1294.2 L2613.7 1294.2 L2610.8 1291.3 M2615.6 1285.6 L2619.4 1285.6 M2631 1277 L2636.7 1277 L2639.6 1279.9 L2639.6 1291.3 L2636.7 1294.2 L2631 1294.2 L2628.1 1291.3 L2628.1 1279.9 L2631 1277 M2628.1 1291.3 L2639.6 1279.9" stroke-width="1"/>
<path d="M2581.8 1318.8 L2584.7 1318.8 L2584.7 1321.2 L2581.8 1321.2 L2581.8 1318.8 M2598.2 1304 L2603.9 1304 L2606.8 1306.9 L2606.8 1318.3 L2603.9 1321.2 L2598.2 1321.2 L2595.3 1318.3 L2595.3 1306.9 L2598.2 1304 M2595.3 1318.3 L2606.8 1306.9 M2612.6 1306.9 L2615.5 1304 L2621.2 1304 L2624.1 1306.9 L2624.1 1309.7 L2612.6 1321.2 L2624.1 1321.2 M2629.9 1306.9 L2632.8 1304 L2638.5 1304 L2641.4 1306.9 L2641.4 1309.7 L2629.9 1321.2 L2641.4 1321.2" stroke-width="1"/>
<polygon points="2150,1448 2138.5,1471 2161.5,1471"/>
<path d="M2121 1459 L2133 1459"/>
<path d="M2127 1453 L2127 1465"/>
<path d="M2150 1471 L2150 1501 L2180 1501"/>
<rect x="2180.5" y="1488.5" width="61" height="25"/>
<path d="M2203.5 1494 L2219 1508.5"/>
<path d="M2242 1501 L2333 1501"/>
<rect x="2333.5" y="1488.5" width="61" height="25"/>
<path d="M2356.5 1494 L2372 1508.5"/>
<path d="M2395 1501 L2532 1501 L2532 1577 L2594 1577"/>
<polygon points="2612,1577.5 2594,1569.5 2594,1585.5"/>
<circle cx="2532" cy="1577" r="7" fill="#000" stroke="none" shape-rendering="geometricPrecision"/>
<circle cx="2288" cy="1502" r="7" fill="#000" stroke="none" shape-rendering="geometricPrecision"/>
<path d="M2288 1502 L2288 1547"/>
<rect x="2275" y="1547" width="25" height="61"/>
<path d="M2280 1585 L2295 1570"/>
<path d="M2288 1608 L2288 1654"/>
<path d="M2260 1654 L2307 1654"/>
<path d="M2260 1654 L2252.5 1678"/>
<path d="M2283.5 1654 L2276 1678"/>
<path d="M2307 1654 L2299.5 1678"/>
<rect x="2611.5" y="1547" width="25" height="61"/>
<polygon points="2624,1478 2612.5,1501 2635.5,1501"/>
<path d="M2624 1501 L2624 1547"/>
<path d="M2641 1490 L2653 1490"/>
<path d="M2647 1484 L2647 1496"/>
<path d="M2624 1608 L2624 1654"/>
<path d="M2597 1654 L2644 1654"/>
<path d="M2597 1654 L2589.5 1678"/>
<path d="M2620.5 1654 L2613 1678"/>
<path d="M2644 1654 L2636.5 1678"/>
<path d="M2189.5 1482.2 L2189.5 1465 L2198.1 1465 L2200.9 1467.9 L2200.9 1470.7 L2198.1 1473.6 L2189.5 1473.6 M2195.2 1473.6 L2200.9 1482.2 M2206.8 1467.9 L2209.6 1465 L2215.4 1465 L2218.2 1467.9 L2218.2 1470.7 L2206.8 1482.2 L2218.2 1482.2 M2232.7 1482.2 L2232.7 1465 L2224.1 1473.6 L2235.5 1473.6" stroke-width="1"/>
<path d="M2186.5 1521 L2186.5 1538.2 M2186.5 1521 L2183.7 1523.9 M2183.7 1538.2 L2189.4 1538.2 M2201.9 1535.8 L2204.8 1535.8 L2204.8 1538.2 L2201.9 1538.2 L2201.9 1535.8 M2226.9 1521 L2215.4 1521 L2215.4 1528.6 L2224 1528.6 L2226.9 1531.5 L2226.9 1535.3 L2224 1538.2 L2218.3 1538.2 L2215.4 1535.3 M2232.7 1538.2 L2232.7 1521 L2238.4 1527.7 L2244.2 1521 L2244.2 1538.2" stroke-width="1"/>
<path d="M2342.5 1482.2 L2342.5 1465 L2351.1 1465 L2353.9 1467.9 L2353.9 1470.7 L2351.1 1473.6 L2342.5 1473.6 M2348.2 1473.6 L2353.9 1482.2 M2359.8 1467.9 L2362.6 1465 L2368.4 1465 L2371.2 1467.9 L2371.2 1470.7 L2359.8 1482.2 L2371.2 1482.2 M2388.5 1467.9 L2385.7 1465 L2379.9 1465 L2377.1 1467.9 L2377.1 1479.3 L2379.9 1482.2 L2385.7 1482.2 L2388.5 1479.3 L2388.5 1476.5 L2385.7 1473.6 L2377.1 1473.6" stroke-width="1"/>
<path d="M2339.5 1521 L2339.5 1538.2 M2339.5 1521 L2336.7 1523.9 M2336.7 1538.2 L2342.4 1538.2 M2354 1521 L2359.7 1521 L2362.6 1523.9 L2362.6 1535.3 L2359.7 1538.2 L2354 1538.2 L2351.1 1535.3 L2351.1 1523.9 L2354 1521 M2351.1 1535.3 L2362.6 1523.9 M2371.3 1521 L2377 1521 L2379.9 1523.9 L2379.9 1535.3 L2377 1538.2 L2371.3 1538.2 L2368.4 1535.3 L2368.4 1523.9 L2371.3 1521 M2368.4 1535.3 L2379.9 1523.9 M2385.7 1521 L2385.7 1538.2 M2397.2 1521 L2385.7 1532.5 M2389.5 1528.6 L2397.2 1538.2" stroke-width="1"/>
<path d="M2221.5 1572.2 L2221.5 1555 L2230.1 1555 L2233 1557.9 L2233 1560.7 L2230.1 1563.6 L2221.5 1563.6 M2227.2 1563.6 L2233 1572.2 M2238.8 1557.9 L2241.7 1555 L2247.4 1555 L2250.3 1557.9 L2250.3 1560.7 L2238.8 1572.2 L2250.3 1572.2 M2267.6 1555 L2256.1 1555 L2256.1 1562.6 L2264.7 1562.6 L2267.6 1565.5 L2267.6 1569.3 L2264.7 1572.2 L2259 1572.2 L2256.1 1569.3" stroke-width="1"/>
<path d="M2226.2 1585 L2226.2 1602.2 M2226.2 1585 L2223.4 1587.9 M2223.4 1602.2 L2229.1 1602.2 M2240.7 1585 L2246.4 1585 L2249.3 1587.9 L2249.3 1599.3 L2246.4 1602.2 L2240.7 1602.2 L2237.8 1599.3 L2237.8 1587.9 L2240.7 1585 M2237.8 1599.3 L2249.3 1587.9 M2255.1 1585 L2255.1 1602.2 M2266.6 1585 L2255.1 1596.5 M2258.9 1592.6 L2266.6 1602.2" stroke-width="1"/>
<path d="M2646.5 1568.2 L2646.5 1551 L2655.1 1551 L2658 1553.9 L2658 1556.7 L2655.1 1559.6 L2646.5 1559.6 M2675.3 1551 L2663.8 1551 L2663.8 1558.6 L2672.4 1558.6 L2675.3 1561.5 L2675.3 1565.3 L2672.4 1568.2 L2666.7 1568.2 L2663.8 1565.3" stroke-width="1"/>
<path d="M2650.2 1585 L2650.2 1602.2 M2650.2 1585 L2647.4 1587.9 M2647.4 1602.2 L2653.1 1602.2 M2664.7 1585 L2670.4 1585 L2673.3 1587.9 L2673.3 1599.3 L2670.4 1602.2 L2664.7 1602.2 L2661.8 1599.3 L2661.8 1587.9 L2664.7 1585 M2661.8 1599.3 L2673.3 1587.9 M2682 1585 L2687.7 1585 L2690.6 1587.9 L2690.6 1599.3 L2687.7 1602.2 L2682 1602.2 L2679.1 1599.3 L2679.1 1587.9 L2682 1585 M2679.1 1599.3 L2690.6 1587.9 M2696.4 1585 L2696.4 1602.2 M2707.9 1585 L2696.4 1596.5 M2700.2 1592.6 L2707.9 1602.2" stroke-width="1"/>
<polygon points="2961,1471 2961,1593 3083,1532"/>
<path d="M2961 1501 L2900 1501 L2900 1623 L3144 1623 L3144 1531 L3083 1531"/>
<path d="M2900 1563 L2961 1563"/>
<circle cx="2900" cy="1563" r="7" fill="#000" stroke="none" shape-rendering="geometricPrecision"/>
<circle cx="3022" cy="1623" r="7" fill="#000" stroke="none" shape-rendering="geometricPrecision"/>
<polygon points="3022,1448 3010.5,1471 3033.5,1471"/>
<path d="M3022 1471 L3022 1501.5"/>
<path d="M3040 1459 L3052 1459"/>
<path d="M3046 1453 L3046 1465"/>
<path d="M3022 1562 L3022 1654"/>
<polygon points="3010.5,1654 3033.5,1654 3022,1677"/>
<path d="M3039.5 1673 L3052.5 1673"/>
<path d="M2944.5 1485 L2942.5 1483 L2938.5 1483 L2936.5 1485 L2936.5 1493 L2938.5 1495 L2942.5 1495 L2944.5 1493 L2944.5 1491 L2942.5 1489 L2936.5 1489" stroke-width="1"/>
<path d="M2944.5 1545 L2936.5 1545 L2936.5 1550.3 L2942.5 1550.3 L2944.5 1552.3 L2944.5 1555 L2942.5 1557 L2938.5 1557 L2936.5 1555" stroke-width="1"/>
<path d="M3031.5 1487 L3035.5 1487 L3037.5 1489 L3037.5 1491 L3035.5 1493 L3031.5 1493 L3029.5 1491 L3029.5 1489 L3031.5 1487 M3031.5 1493 L3029.5 1495 L3029.5 1497 L3031.5 1499 L3035.5 1499 L3037.5 1497 L3037.5 1495 L3035.5 1493" stroke-width="1"/>
<path d="M3087.5 1513 L3095.5 1513 L3095.5 1515 L3090.2 1525" stroke-width="1"/>
<path d="M3010.5 1583 L3010.5 1571 L3004.5 1577 L3012.5 1577" stroke-width="1"/>
<path d="M2971 1501 L2979 1501"/>
<path d="M2971 1563 L2979 1563"/>
<path d="M2975 1559 L2975 1567"/>
<path d="M2976.5 1523 L2976.5 1537.3 L2979.4 1540.2 L2985.1 1540.2 L2988 1537.3 L2988 1523 M2993.8 1523 L3005.3 1523 L3005.3 1525.9 L2997.6 1540.2" stroke-width="1"/>
<path d="M3032.5 1567 L3032.5 1584.2 L3044 1584.2 M3049.8 1584.2 L3049.8 1567 L3055.5 1573.7 L3061.3 1567 L3061.3 1584.2 M3067.1 1569.9 L3070 1567 L3075.7 1567 L3078.6 1569.9 L3078.6 1572.7 L3075.7 1575.6 L3078.6 1578.5 L3078.6 1581.3 L3075.7 1584.2 L3070 1584.2 L3067.1 1581.3 M3071.9 1575.6 L3075.7 1575.6 M3084.4 1581.3 L3087.3 1584.2 L3093 1584.2 L3095.9 1581.3 L3095.9 1569.9 L3093 1567 L3087.3 1567 L3084.4 1569.9 L3084.4 1572.7 L3087.3 1575.6 L3095.9 1575.6 M3101.7 1569.9 L3104.6 1567 L3110.3 1567 L3113.2 1569.9 L3113.2 1572.7 L3110.3 1575.6 L3113.2 1578.5 L3113.2 1581.3 L3110.3 1584.2 L3104.6 1584.2 L3101.7 1581.3 M3106.5 1575.6 L3110.3 1575.6" stroke-width="1"/>
<path d="M84 1317 L147 1317"/>
<path d="M147 1294 L147 1342"/>
<path d="M156 1294 L156 1342"/>
<path d="M156 1317 L360 1317"/>
<circle cx="223" cy="1317" r="7" fill="#000" stroke="none" shape-rendering="geometricPrecision"/>
<path d="M223 1317 L223 1348"/>
<rect x="209.5" y="1348" width="25" height="61"/>
<path d="M214.5 1386 L229.5 1371"/>
<path d="M223 1409 L223 1455"/>
<rect x="209.5" y="1455" width="25" height="61"/>
<path d="M223 1516 L223 1577"/>
<circle cx="223" cy="1547" r="7" fill="#000" stroke="none" shape-rendering="geometricPrecision"/>
<path d="M197 1577 L244 1577"/>
<path d="M197 1577 L189.5 1601"/>
<path d="M220.5 1577 L213 1601"/>
<path d="M244 1577 L236.5 1601"/>
<polygon points="234.5,1485.5 252.5,1477.5 252.5,1493.5"/>
<path d="M252.5 1485.5 L283 1485.5 L283 1547 L223 1547"/>
<path d="M104 1278.9 L101.1 1276 L95.4 1276 L92.5 1278.9 L92.5 1290.3 L95.4 1293.2 L101.1 1293.2 L104 1290.3 M109.8 1278.9 L112.7 1276 L118.4 1276 L121.3 1278.9 L121.3 1281.7 L109.8 1293.2 L121.3 1293.2 M127.1 1278.9 L130 1276 L135.7 1276 L138.6 1278.9 L138.6 1281.7 L127.1 1293.2 L138.6 1293.2" stroke-width="1"/>
<path d="M170.5 1278.9 L173.4 1276 L179.1 1276 L182 1278.9 L182 1281.7 L170.5 1293.2 L182 1293.2 M187.8 1278.9 L190.7 1276 L196.4 1276 L199.3 1278.9 L199.3 1281.7 L187.8 1293.2 L199.3 1293.2 M208 1276 L213.7 1276 L216.6 1278.9 L216.6 1290.3 L213.7 1293.2 L208 1293.2 L205.1 1290.3 L205.1 1278.9 L208 1276 M205.1 1290.3 L216.6 1278.9 M222.4 1293.2 L222.4 1276 L231 1276 L233.9 1278.9 L233.9 1281.7 L231 1284.6 L222.4 1284.6 M251.2 1276 L239.7 1276 L239.7 1293.2 M239.7 1284.6 L247.3 1284.6" stroke-width="1"/>
<path d="M155.5 1374.2 L155.5 1357 L164.1 1357 L167 1359.9 L167 1362.7 L164.1 1365.6 L155.5 1365.6 M161.2 1365.6 L167 1374.2 M181.4 1374.2 L181.4 1357 L172.8 1365.6 L184.3 1365.6 M201.6 1359.9 L198.7 1357 L193 1357 L190.1 1359.9 L190.1 1371.3 L193 1374.2 L198.7 1374.2 L201.6 1371.3 L201.6 1368.5 L198.7 1365.6 L190.1 1365.6" stroke-width="1"/>
<path d="M140.5 1390.9 L143.4 1388 L149.1 1388 L152 1390.9 L152 1393.7 L140.5 1405.2 L152 1405.2 M161.6 1402.8 L164.5 1402.8 L164.5 1405.2 L161.6 1405.2 L161.6 1402.8 M175.1 1390.9 L178 1388 L183.7 1388 L186.6 1390.9 L186.6 1393.7 L175.1 1405.2 L186.6 1405.2 M192.4 1388 L192.4 1405.2 M203.9 1388 L192.4 1399.5 M196.2 1395.6 L203.9 1405.2" stroke-width="1"/>
<path d="M154.5 1459 L154.5 1470.5 L160.2 1476.2 L166 1470.5 L166 1459 M171.8 1476.2 L171.8 1459 L180.4 1459 L183.3 1461.9 L183.3 1464.7 L180.4 1467.6 L171.8 1467.6 M177.5 1467.6 L183.3 1476.2 M194.8 1459 L194.8 1476.2 M194.8 1459 L192 1461.9 M192 1476.2 L197.7 1476.2" stroke-width="1"/>
<path d="M153.5 1493.9 L156.4 1491 L162.1 1491 L165 1493.9 L165 1496.7 L153.5 1508.2 L165 1508.2 M182.3 1491 L170.8 1491 L170.8 1498.6 L179.4 1498.6 L182.3 1501.5 L182.3 1505.3 L179.4 1508.2 L173.7 1508.2 L170.8 1505.3 M188.1 1491 L188.1 1508.2 M199.6 1491 L188.1 1502.5 M191.9 1498.6 L199.6 1508.2" stroke-width="1"/>
<polygon points="360,1288 360,1410 482,1349"/>
<path d="M360 1378 L299 1378"/>
<path d="M299 1354.5 L299 1401.5"/>
<path d="M299 1355 L276 1347.5"/>
<path d="M299 1378 L276 1370.5"/>
<path d="M299 1401 L276 1393.5"/>
<polygon points="421,1264 409.5,1287 432.5,1287"/>
<path d="M421 1287 L421 1318.5"/>
<path d="M439 1275 L451 1275"/>
<path d="M445 1269 L445 1281"/>
<path d="M421 1378 L421 1424"/>
<polygon points="409.5,1424 432.5,1424 421,1447"/>
<path d="M438.5 1443 L451.5 1443"/>
<path d="M343.5 1302 L341.5 1300 L337.5 1300 L335.5 1302 L335.5 1310 L337.5 1312 L341.5 1312 L343.5 1310 L343.5 1308 L341.5 1306 L335.5 1306" stroke-width="1"/>
<path d="M343.5 1361 L335.5 1361 L335.5 1366.3 L341.5 1366.3 L343.5 1368.3 L343.5 1371 L341.5 1373 L337.5 1373 L335.5 1371" stroke-width="1"/>
<path d="M430.5 1302 L434.5 1302 L436.5 1304 L436.5 1306 L434.5 1308 L430.5 1308 L428.5 1306 L428.5 1304 L430.5 1302 M430.5 1308 L428.5 1310 L428.5 1312 L430.5 1314 L434.5 1314 L436.5 1312 L436.5 1310 L434.5 1308" stroke-width="1"/>
<path d="M409.5 1400 L409.5 1388 L403.5 1394 L411.5 1394" stroke-width="1"/>
<path d="M486.5 1329 L494.5 1329 L494.5 1331 L489.2 1341" stroke-width="1"/>
<path d="M370 1317 L378 1317"/>
<path d="M370 1378 L378 1378"/>
<path d="M374 1374 L374 1382"/>
<path d="M375.5 1339 L375.5 1353.3 L378.4 1356.2 L384.1 1356.2 L387 1353.3 L387 1339 M395.7 1339 L401.4 1339 L404.3 1341.9 L404.3 1344.7 L401.4 1347.6 L395.7 1347.6 L392.8 1344.7 L392.8 1341.9 L395.7 1339 M395.7 1347.6 L392.8 1350.5 L392.8 1353.3 L395.7 1356.2 L401.4 1356.2 L404.3 1353.3 L404.3 1350.5 L401.4 1347.6" stroke-width="1"/>
<path d="M430.5 1384 L430.5 1401.2 L442 1401.2 M447.8 1401.2 L447.8 1384 L453.5 1390.7 L459.3 1384 L459.3 1401.2 M465.1 1386.9 L468 1384 L473.7 1384 L476.6 1386.9 L476.6 1389.7 L473.7 1392.6 L476.6 1395.5 L476.6 1398.3 L473.7 1401.2 L468 1401.2 L465.1 1398.3 M469.9 1392.6 L473.7 1392.6 M482.4 1398.3 L485.3 1401.2 L491 1401.2 L493.9 1398.3 L493.9 1386.9 L491 1384 L485.3 1384 L482.4 1386.9 L482.4 1389.7 L485.3 1392.6 L493.9 1392.6 M499.7 1386.9 L502.6 1384 L508.3 1384 L511.2 1386.9 L511.2 1389.7 L508.3 1392.6 L511.2 1395.5 L511.2 1398.3 L508.3 1401.2 L502.6 1401.2 L499.7 1398.3 M504.5 1392.6 L508.3 1392.6" stroke-width="1"/>
<path d="M482 1348 L666 1348"/>
<circle cx="543" cy="1348" r="7" fill="#000" stroke="none" shape-rendering="geometricPrecision"/>
<path d="M543 1348 L543 1317"/>
<rect x="531" y="1256" width="25" height="61"/>
<path d="M536 1294 L551 1279"/>
<path d="M543 1256 L543 1225"/>
<polygon points="543,1202 531.5,1225 554.5,1225"/>
<path d="M561 1214 L573 1214"/>
<path d="M567 1208 L567 1220"/>
<path d="M476.5 1278.2 L476.5 1261 L485.1 1261 L488 1263.9 L488 1266.7 L485.1 1269.6 L476.5 1269.6 M482.2 1269.6 L488 1278.2 M502.4 1278.2 L502.4 1261 L493.8 1269.6 L505.3 1269.6 M511.1 1263.9 L514 1261 L519.7 1261 L522.6 1263.9 L522.6 1266.7 L511.1 1278.2 L522.6 1278.2" stroke-width="1"/>
<path d="M476.5 1297.9 L479.4 1295 L485.1 1295 L488 1297.9 L488 1300.7 L476.5 1312.2 L488 1312.2 M493.8 1297.9 L496.7 1295 L502.4 1295 L505.3 1297.9 L505.3 1300.7 L493.8 1312.2 L505.3 1312.2 M511.1 1295 L511.1 1312.2 M522.6 1295 L511.1 1306.5 M514.9 1302.6 L522.6 1312.2" stroke-width="1"/>
<polygon points="360,1639 360,1761 482,1700"/>
<path d="M360 1669 L299 1669"/>
<path d="M299 1645.5 L299 1692.5"/>
<path d="M299 1646 L276 1638.5"/>
<path d="M299 1669 L276 1661.5"/>
<path d="M299 1692 L276 1684.5"/>
<path d="M125 1730 L223 1730"/>
<path d="M116 1707 L116 1755"/>
<path d="M125 1707 L125 1755"/>
<path d="M223 1707 L223 1755"/>
<path d="M232 1707 L232 1755"/>
<path d="M232 1730 L360 1730"/>
<circle cx="177" cy="1730" r="7" fill="#000" stroke="none" shape-rendering="geometricPrecision"/>
<circle cx="299" cy="1730" r="7" fill="#000" stroke="none" shape-rendering="geometricPrecision"/>
<polygon points="421,1616 409.5,1639 432.5,1639"/>
<path d="M421 1639 L421 1670"/>
<path d="M439 1627 L451 1627"/>
<path d="M445 1621 L445 1633"/>
<path d="M421 1730 L421 1776"/>
<polygon points="409.5,1776 432.5,1776 421,1799"/>
<path d="M438.5 1795 L451.5 1795"/>
<path d="M335.5 1654 L337.5 1652 L341.5 1652 L343.5 1654 L343.5 1656 L335.5 1664 L343.5 1664" stroke-width="1"/>
<path d="M335.5 1715 L337.5 1713 L341.5 1713 L343.5 1715 L343.5 1717 L341.5 1719 L343.5 1721 L343.5 1723 L341.5 1725 L337.5 1725 L335.5 1723 M338.8 1719 L341.5 1719" stroke-width="1"/>
<path d="M430.5 1655 L434.5 1655 L436.5 1657 L436.5 1659 L434.5 1661 L430.5 1661 L428.5 1659 L428.5 1657 L430.5 1655 M430.5 1661 L428.5 1663 L428.5 1665 L430.5 1667 L434.5 1667 L436.5 1665 L436.5 1663 L434.5 1661" stroke-width="1"/>
<path d="M409.5 1751 L409.5 1739 L403.5 1745 L411.5 1745" stroke-width="1"/>
<path d="M490.5 1682 L490.5 1694 M490.5 1682 L488.5 1684 M488.5 1694 L492.5 1694" stroke-width="1"/>
<path d="M370 1669 L378 1669"/>
<path d="M370 1730 L378 1730"/>
<path d="M374 1726 L374 1734"/>
<path d="M375.5 1691 L375.5 1705.3 L378.4 1708.2 L384.1 1708.2 L387 1705.3 L387 1691 M395.7 1691 L401.4 1691 L404.3 1693.9 L404.3 1696.7 L401.4 1699.6 L395.7 1699.6 L392.8 1696.7 L392.8 1693.9 L395.7 1691 M395.7 1699.6 L392.8 1702.5 L392.8 1705.3 L395.7 1708.2 L401.4 1708.2 L404.3 1705.3 L404.3 1702.5 L401.4 1699.6" stroke-width="1"/>
<path d="M430.5 1735 L430.5 1752.2 L442 1752.2 M447.8 1752.2 L447.8 1735 L453.5 1741.7 L459.3 1735 L459.3 1752.2 M465.1 1737.9 L468 1735 L473.7 1735 L476.6 1737.9 L476.6 1740.7 L473.7 1743.6 L476.6 1746.5 L476.6 1749.3 L473.7 1752.2 L468 1752.2 L465.1 1749.3 M469.9 1743.6 L473.7 1743.6 M482.4 1749.3 L485.3 1752.2 L491 1752.2 L493.9 1749.3 L493.9 1737.9 L491 1735 L485.3 1735 L482.4 1737.9 L482.4 1740.7 L485.3 1743.6 L493.9 1743.6 M499.7 1737.9 L502.6 1735 L508.3 1735 L511.2 1737.9 L511.2 1740.7 L508.3 1743.6 L511.2 1746.5 L511.2 1749.3 L508.3 1752.2 L502.6 1752.2 L499.7 1749.3 M504.5 1743.6 L508.3 1743.6" stroke-width="1"/>
<path d="M482 1700 L482 1700"/>
<circle cx="543" cy="1700" r="7" fill="#000" stroke="none" shape-rendering="geometricPrecision"/>
<path d="M543 1700 L543 1669"/>
<rect x="531" y="1608" width="25" height="61"/>
<path d="M536 1646 L551 1631"/>
<path d="M543 1608 L543 1577"/>
<polygon points="543,1554 531.5,1577 554.5,1577"/>
<path d="M561 1566 L573 1566"/>
<path d="M567 1560 L567 1572"/>
<path d="M476.5 1632.2 L476.5 1615 L485.1 1615 L488 1617.9 L488 1620.7 L485.1 1623.6 L476.5 1623.6 M482.2 1623.6 L488 1632.2 M502.4 1632.2 L502.4 1615 L493.8 1623.6 L505.3 1623.6 M522.6 1615 L511.1 1615 L511.1 1622.6 L519.7 1622.6 L522.6 1625.5 L522.6 1629.3 L519.7 1632.2 L514 1632.2 L511.1 1629.3" stroke-width="1"/>
<path d="M476.5 1649.9 L479.4 1647 L485.1 1647 L488 1649.9 L488 1652.7 L476.5 1664.2 L488 1664.2 M493.8 1649.9 L496.7 1647 L502.4 1647 L505.3 1649.9 L505.3 1652.7 L493.8 1664.2 L505.3 1664.2 M511.1 1647 L511.1 1664.2 M522.6 1647 L511.1 1658.5 M514.9 1654.6 L522.6 1664.2" stroke-width="1"/>
<path d="M113 1685.9 L110.1 1683 L104.4 1683 L101.5 1685.9 L101.5 1697.3 L104.4 1700.2 L110.1 1700.2 L113 1697.3 M118.8 1685.9 L121.7 1683 L127.4 1683 L130.3 1685.9 L130.3 1688.7 L118.8 1700.2 L130.3 1700.2 M136.1 1685.9 L139 1683 L144.7 1683 L147.6 1685.9 L147.6 1688.7 L144.7 1691.6 L147.6 1694.5 L147.6 1697.3 L144.7 1700.2 L139 1700.2 L136.1 1697.3 M140.9 1691.6 L144.7 1691.6" stroke-width="1"/>
<path d="M73.8 1776.8 L76.7 1776.8 L76.7 1779.2 L73.8 1779.2 L73.8 1776.8 M90.2 1762 L95.9 1762 L98.8 1764.9 L98.8 1776.3 L95.9 1779.2 L90.2 1779.2 L87.3 1776.3 L87.3 1764.9 L90.2 1762 M87.3 1776.3 L98.8 1764.9 M107.5 1762 L113.2 1762 L116.1 1764.9 L116.1 1776.3 L113.2 1779.2 L107.5 1779.2 L104.6 1776.3 L104.6 1764.9 L107.5 1762 M104.6 1776.3 L116.1 1764.9 M121.9 1764.9 L124.8 1762 L130.5 1762 L133.4 1764.9 L133.4 1767.7 L130.5 1770.6 L133.4 1773.5 L133.4 1776.3 L130.5 1779.2 L124.8 1779.2 L121.9 1776.3 M126.7 1770.6 L130.5 1770.6 M139.2 1776.3 L142.1 1779.2 L147.8 1779.2 L150.7 1776.3 L150.7 1764.9 L147.8 1762 L142.1 1762 L139.2 1764.9 L139.2 1767.7 L142.1 1770.6 L150.7 1770.6" stroke-width="1"/>
<path d="M216 1685.9 L213.1 1683 L207.4 1683 L204.5 1685.9 L204.5 1697.3 L207.4 1700.2 L213.1 1700.2 L216 1697.3 M221.8 1685.9 L224.7 1683 L230.4 1683 L233.3 1685.9 L233.3 1688.7 L221.8 1700.2 L233.3 1700.2 M247.7 1700.2 L247.7 1683 L239.1 1691.6 L250.6 1691.6" stroke-width="1"/>
<path d="M200.2 1762 L200.2 1779.2 M200.2 1762 L197.4 1764.9 M197.4 1779.2 L203.1 1779.2 M214.7 1762 L220.4 1762 L223.3 1764.9 L223.3 1776.3 L220.4 1779.2 L214.7 1779.2 L211.8 1776.3 L211.8 1764.9 L214.7 1762 M211.8 1776.3 L223.3 1764.9 M232 1762 L237.7 1762 L240.6 1764.9 L240.6 1776.3 L237.7 1779.2 L232 1779.2 L229.1 1776.3 L229.1 1764.9 L232 1762 M229.1 1776.3 L240.6 1764.9 M246.4 1779.2 L246.4 1762 L255 1762 L257.9 1764.9 L257.9 1767.7 L255 1770.6 L246.4 1770.6 M275.2 1762 L263.7 1762 L263.7 1779.2 M263.7 1770.6 L271.3 1770.6" stroke-width="1"/>
<path d="M177 1730 L177 1791"/>
<rect x="163.5" y="1791.5" width="25" height="61"/>
<path d="M168.5 1829.5 L183.5 1814.5"/>
<path d="M177 1853 L177 1899"/>
<rect x="163.5" y="1899" width="25" height="61"/>
<path d="M177 1960 L177 2021"/>
<circle cx="177" cy="1990" r="7" fill="#000" stroke="none" shape-rendering="geometricPrecision"/>
<path d="M152 2021 L199 2021"/>
<path d="M152 2021 L144.5 2045"/>
<path d="M175.5 2021 L168 2045"/>
<path d="M199 2021 L191.5 2045"/>
<polygon points="188,1929.5 206,1921.5 206,1937.5"/>
<path d="M206 1929.5 L237.5 1929.5 L237.5 1990 L177 1990"/>
<circle cx="205" cy="1955" r="10.6"/>
<path d="M196.6 1949.7 L210.7 1962.3"/>
<path d="M201.1 1947.2 L214.2 1959.3"/>
<path d="M110.5 1821.2 L110.5 1804 L119.1 1804 L122 1806.9 L122 1809.7 L119.1 1812.6 L110.5 1812.6 M116.2 1812.6 L122 1821.2 M136.4 1821.2 L136.4 1804 L127.8 1812.6 L139.3 1812.6 M145.1 1806.9 L148 1804 L153.7 1804 L156.6 1806.9 L156.6 1809.7 L153.7 1812.6 L156.6 1815.5 L156.6 1818.3 L153.7 1821.2 L148 1821.2 L145.1 1818.3 M149.9 1812.6 L153.7 1812.6" stroke-width="1"/>
<path d="M95.5 1838.9 L98.4 1836 L104.1 1836 L107 1838.9 L107 1841.7 L104.1 1844.6 L107 1847.5 L107 1850.3 L104.1 1853.2 L98.4 1853.2 L95.5 1850.3 M100.3 1844.6 L104.1 1844.6 M116.6 1850.8 L119.5 1850.8 L119.5 1853.2 L116.6 1853.2 L116.6 1850.8 M130.1 1850.3 L133 1853.2 L138.7 1853.2 L141.6 1850.3 L141.6 1838.9 L138.7 1836 L133 1836 L130.1 1838.9 L130.1 1841.7 L133 1844.6 L141.6 1844.6 M147.4 1836 L147.4 1853.2 M158.9 1836 L147.4 1847.5 M151.2 1843.6 L158.9 1853.2" stroke-width="1"/>
<path d="M109.5 1907 L109.5 1918.5 L115.2 1924.2 L121 1918.5 L121 1907 M126.8 1924.2 L126.8 1907 L135.4 1907 L138.3 1909.9 L138.3 1912.7 L135.4 1915.6 L126.8 1915.6 M132.5 1915.6 L138.3 1924.2 M144.1 1909.9 L147 1907 L152.7 1907 L155.6 1909.9 L155.6 1912.7 L152.7 1915.6 L155.6 1918.5 L155.6 1921.3 L152.7 1924.2 L147 1924.2 L144.1 1921.3 M148.9 1915.6 L152.7 1915.6" stroke-width="1"/>
<path d="M116.2 1937 L116.2 1954.2 M116.2 1937 L113.4 1939.9 M113.4 1954.2 L119.1 1954.2 M130.7 1937 L136.4 1937 L139.3 1939.9 L139.3 1951.3 L136.4 1954.2 L130.7 1954.2 L127.8 1951.3 L127.8 1939.9 L130.7 1937 M127.8 1951.3 L139.3 1939.9 M145.1 1937 L145.1 1954.2 M156.6 1937 L145.1 1948.5 M148.9 1944.6 L156.6 1954.2" stroke-width="1"/>
<path d="M299 1730 L299 1776"/>
<rect x="286" y="1776" width="25" height="61"/>
<path d="M291 1814 L306 1799"/>
<path d="M299 1837 L299 1868"/>
<path d="M276 1868 L323 1868"/>
<path d="M276 1868 L268.5 1892"/>
<path d="M299.5 1868 L292 1892"/>
<path d="M323 1868 L315.5 1892"/>
<path d="M317.5 1799.2 L317.5 1782 L326.1 1782 L329 1784.9 L329 1787.7 L326.1 1790.6 L317.5 1790.6 M323.2 1790.6 L329 1799.2 M343.4 1799.2 L343.4 1782 L334.8 1790.6 L346.3 1790.6 M360.7 1799.2 L360.7 1782 L352.1 1790.6 L363.6 1790.6" stroke-width="1"/>
<path d="M319.5 1817.9 L322.4 1815 L328.1 1815 L331 1817.9 L331 1820.7 L328.1 1823.6 L331 1826.5 L331 1829.3 L328.1 1832.2 L322.4 1832.2 L319.5 1829.3 M324.3 1823.6 L328.1 1823.6 M336.8 1829.3 L339.7 1832.2 L345.4 1832.2 L348.3 1829.3 L348.3 1817.9 L345.4 1815 L339.7 1815 L336.8 1817.9 L336.8 1820.7 L339.7 1823.6 L348.3 1823.6 M354.1 1815 L354.1 1832.2 M365.6 1815 L354.1 1826.5 M357.9 1822.6 L365.6 1832.2" stroke-width="1"/>
<polygon points="196.1,1859.3 237,1840.1 257.7,1867.9 253.1,1872.9 274.3,1892.6 268.8,1898.7 297.6,1934 295.1,1936.6 242.5,1905.8 246.6,1901.7 219.3,1883.5 226.4,1878.5" fill="#000" shape-rendering="geometricPrecision" stroke-width="2"/>
<path d="M787 1853 L818 1821" stroke-width="3.2"/>
<path d="M788 1853 L788 1929.5 L742.5 1929.5"/>
<circle cx="735" cy="1930" r="7.5"/>
<path d="M788 1807 L788 1746 L1033 1746"/>
<circle cx="735" cy="2006" r="7.5"/>
<path d="M742.5 2006 L788 2006 L788 2052 L1691 2052 L1691 2067"/>
<polygon points="1679.5,2067 1702.5,2067 1691,2090"/>
<path d="M1707.5 2086 L1720.5 2086"/>
<path d="M895 1746 L895 2052"/>
<path d="M877 1891 L914 1891"/>
<polygon points="895,1891 880,1914 911,1914"/>
<circle cx="895" cy="1746" r="7" fill="#000" stroke="none" shape-rendering="geometricPrecision"/>
<circle cx="895" cy="2052" r="7" fill="#000" stroke="none" shape-rendering="geometricPrecision"/>
<path d="M839.5 1886 L848.1 1886 L851 1888.9 L851 1900.3 L848.1 1903.2 L839.5 1903.2 L839.5 1886 M865.4 1903.2 L865.4 1886 L856.8 1894.6 L868.3 1894.6" stroke-width="1"/>
<path d="M819.1 1930.2 L819.1 1913 L810.5 1921.6 L822 1921.6 M830.7 1913 L836.4 1913 L839.3 1915.9 L839.3 1927.3 L836.4 1930.2 L830.7 1930.2 L827.8 1927.3 L827.8 1915.9 L830.7 1913 M827.8 1927.3 L839.3 1915.9 M848 1913 L853.7 1913 L856.6 1915.9 L856.6 1927.3 L853.7 1930.2 L848 1930.2 L845.1 1927.3 L845.1 1915.9 L848 1913 M845.1 1927.3 L856.6 1915.9 M868.1 1913 L868.1 1930.2 M868.1 1913 L865.3 1915.9 M865.3 1930.2 L871 1930.2" stroke-width="1"/>
<path d="M987 1746 L987 1903"/>
<path d="M963 1903 L1012 1903"/>
<path d="M963 1913 L1012 1913"/>
<path d="M987 1913 L987 2052"/>
<circle cx="987" cy="1746" r="7" fill="#000" stroke="none" shape-rendering="geometricPrecision"/>
<circle cx="987" cy="2052" r="7" fill="#000" stroke="none" shape-rendering="geometricPrecision"/>
<path d="M996 1890 L1011 1890"/>
<path d="M1003.5 1882 L1003.5 1898"/>
<path d="M1034 1883.9 L1031.1 1881 L1025.4 1881 L1022.5 1883.9 L1022.5 1895.3 L1025.4 1898.2 L1031.1 1898.2 L1034 1895.3 M1039.8 1883.9 L1042.7 1881 L1048.4 1881 L1051.3 1883.9 L1051.3 1886.7 L1039.8 1898.2 L1051.3 1898.2 M1068.6 1881 L1057.1 1881 L1057.1 1888.6 L1065.7 1888.6 L1068.6 1891.5 L1068.6 1895.3 L1065.7 1898.2 L1060 1898.2 L1057.1 1895.3" stroke-width="1"/>
<path d="M1031.2 1915 L1031.2 1932.2 M1031.2 1915 L1028.4 1917.9 M1028.4 1932.2 L1034.1 1932.2 M1045.7 1915 L1051.4 1915 L1054.3 1917.9 L1054.3 1929.3 L1051.4 1932.2 L1045.7 1932.2 L1042.8 1929.3 L1042.8 1917.9 L1045.7 1915 M1042.8 1929.3 L1054.3 1917.9" stroke-width="1"/>
<rect x="1033" y="1715" width="122" height="76"/>
<path d="M1077.5 1669 L1077.5 1683.3 L1080.4 1686.2 L1086.1 1686.2 L1089 1683.3 L1089 1669 M1094.8 1683.3 L1097.7 1686.2 L1103.4 1686.2 L1106.3 1683.3 L1106.3 1671.9 L1103.4 1669 L1097.7 1669 L1094.8 1671.9 L1094.8 1674.7 L1097.7 1677.6 L1106.3 1677.6" stroke-width="1"/>
<path d="M1031.5 1694 L1031.5 1711.2 L1043 1711.2 M1048.8 1711.2 L1048.8 1694 L1054.5 1700.7 L1060.3 1694 L1060.3 1711.2 M1066.1 1696.9 L1069 1694 L1074.7 1694 L1077.6 1696.9 L1077.6 1699.7 L1066.1 1711.2 L1077.6 1711.2 M1083.4 1708.3 L1086.3 1711.2 L1092 1711.2 L1094.9 1708.3 L1094.9 1696.9 L1092 1694 L1086.3 1694 L1083.4 1696.9 L1083.4 1699.7 L1086.3 1702.6 L1094.9 1702.6 M1100.7 1696.9 L1103.6 1694 L1109.3 1694 L1112.2 1696.9 L1112.2 1699.7 L1109.3 1702.6 L1112.2 1705.5 L1112.2 1708.3 L1109.3 1711.2 L1103.6 1711.2 L1100.7 1708.3 M1105.5 1702.6 L1109.3 1702.6 M1120.9 1694 L1126.6 1694 L1129.5 1696.9 L1129.5 1708.3 L1126.6 1711.2 L1120.9 1711.2 L1118 1708.3 L1118 1696.9 L1120.9 1694 M1118 1708.3 L1129.5 1696.9 M1136.3 1702.6 L1145.8 1702.6 M1155.5 1694 L1161.2 1694 L1164.1 1696.9 L1164.1 1699.7 L1161.2 1702.6 L1155.5 1702.6 L1152.6 1699.7 L1152.6 1696.9 L1155.5 1694 M1155.5 1702.6 L1152.6 1705.5 L1152.6 1708.3 L1155.5 1711.2 L1161.2 1711.2 L1164.1 1708.3 L1164.1 1705.5 L1161.2 1702.6" stroke-width="1"/>
<path d="M1044.5 1741 L1044.5 1753 M1042.5 1741 L1046.5 1741 M1042.5 1753 L1046.5 1753 M1050 1753 L1050 1741 L1058 1753 L1058 1741" stroke-width="1"/>
<path d="M1121.5 1741 L1125.5 1741 L1127.5 1743 L1127.5 1751 L1125.5 1753 L1121.5 1753 L1119.5 1751 L1119.5 1743 L1121.5 1741 M1129.5 1741 L1129.5 1751 L1131.5 1753 L1135.5 1753 L1137.5 1751 L1137.5 1741 M1139.5 1741 L1147.5 1741 M1143.5 1741 L1143.5 1753" stroke-width="1"/>
<path d="M1087.5 1776 L1085.5 1774 L1081.5 1774 L1079.5 1776 L1079.5 1784 L1081.5 1786 L1085.5 1786 L1087.5 1784 L1087.5 1780 L1084.2 1780 M1091 1786 L1091 1774 L1099 1786 L1099 1774 M1102.5 1774 L1108.5 1774 L1110.5 1776 L1110.5 1784 L1108.5 1786 L1102.5 1786 L1102.5 1774" stroke-width="1"/>
<path d="M1011.5 1727 L1011.5 1739 M1011.5 1727 L1009.5 1729 M1009.5 1739 L1013.5 1739" stroke-width="1"/>
<path d="M1161.5 1729 L1163.5 1727 L1167.5 1727 L1169.5 1729 L1169.5 1731 L1167.5 1733 L1169.5 1735 L1169.5 1737 L1167.5 1739 L1163.5 1739 L1161.5 1737 M1164.8 1733 L1167.5 1733" stroke-width="1"/>
<path d="M1097.5 1798 L1099.5 1796 L1103.5 1796 L1105.5 1798 L1105.5 1800 L1097.5 1808 L1105.5 1808" stroke-width="1"/>
<path d="M1095 1791 L1095 2052"/>
<circle cx="1095" cy="2052" r="7" fill="#000" stroke="none" shape-rendering="geometricPrecision"/>
<path d="M1155 1746 L1370 1746 L1370 1730"/>
<polygon points="1370,1707 1358.5,1730 1381.5,1730"/>
<path d="M1387 1719 L1399 1719"/>
<path d="M1393 1713 L1393 1725"/>
<circle cx="1201" cy="1746" r="7" fill="#000" stroke="none" shape-rendering="geometricPrecision"/>
<circle cx="1324" cy="1746" r="7" fill="#000" stroke="none" shape-rendering="geometricPrecision"/>
<path d="M1201 1746 L1201 1903"/>
<path d="M1177 1903 L1226 1903"/>
<path d="M1177 1913 L1226 1913"/>
<path d="M1201 1913 L1201 2052"/>
<circle cx="1201" cy="2052" r="7" fill="#000" stroke="none" shape-rendering="geometricPrecision"/>
<path d="M1210 1890 L1225 1890"/>
<path d="M1217.5 1882 L1217.5 1898"/>
<path d="M1134 1890.9 L1131.1 1888 L1125.4 1888 L1122.5 1890.9 L1122.5 1902.3 L1125.4 1905.2 L1131.1 1905.2 L1134 1902.3 M1139.8 1890.9 L1142.7 1888 L1148.4 1888 L1151.3 1890.9 L1151.3 1893.7 L1139.8 1905.2 L1151.3 1905.2 M1157.1 1888 L1168.6 1888 L1168.6 1890.9 L1160.9 1905.2" stroke-width="1"/>
<path d="M1123.5 1919.9 L1126.4 1917 L1132.1 1917 L1135 1919.9 L1135 1922.7 L1123.5 1934.2 L1135 1934.2 M1140.8 1919.9 L1143.7 1917 L1149.4 1917 L1152.3 1919.9 L1152.3 1922.7 L1140.8 1934.2 L1152.3 1934.2 M1161 1917 L1166.7 1917 L1169.6 1919.9 L1169.6 1931.3 L1166.7 1934.2 L1161 1934.2 L1158.1 1931.3 L1158.1 1919.9 L1161 1917 M1158.1 1931.3 L1169.6 1919.9" stroke-width="1"/>
<path d="M1324 1746 L1324 1791"/>
<rect x="1311" y="1791.5" width="25" height="61"/>
<path d="M1316 1829.5 L1331 1814.5"/>
<path d="M1324 1853 L1324 1960"/>
<circle cx="1324" cy="1914" r="7" fill="#000" stroke="none" shape-rendering="geometricPrecision"/>
<rect x="1311" y="1960" width="25" height="61"/>
<path d="M1316 1998 L1331 1983"/>
<path d="M1324 2021 L1324 2052"/>
<circle cx="1324" cy="2052" r="7" fill="#000" stroke="none" shape-rendering="geometricPrecision"/>
<path d="M1255.5 1816.2 L1255.5 1799 L1264.1 1799 L1267 1801.9 L1267 1804.7 L1264.1 1807.6 L1255.5 1807.6 M1261.2 1807.6 L1267 1816.2 M1281.4 1816.2 L1281.4 1799 L1272.8 1807.6 L1284.3 1807.6 M1290.1 1813.3 L1293 1816.2 L1298.7 1816.2 L1301.6 1813.3 L1301.6 1801.9 L1298.7 1799 L1293 1799 L1290.1 1801.9 L1290.1 1804.7 L1293 1807.6 L1301.6 1807.6" stroke-width="1"/>
<path d="M1247.2 1832 L1247.2 1849.2 M1247.2 1832 L1244.4 1834.9 M1244.4 1849.2 L1250.1 1849.2 M1261.7 1832 L1267.4 1832 L1270.3 1834.9 L1270.3 1846.3 L1267.4 1849.2 L1261.7 1849.2 L1258.8 1846.3 L1258.8 1834.9 L1261.7 1832 M1258.8 1846.3 L1270.3 1834.9 M1279 1832 L1284.7 1832 L1287.6 1834.9 L1287.6 1846.3 L1284.7 1849.2 L1279 1849.2 L1276.1 1846.3 L1276.1 1834.9 L1279 1832 M1276.1 1846.3 L1287.6 1834.9 M1293.4 1832 L1293.4 1849.2 M1304.9 1832 L1293.4 1843.5 M1297.2 1839.6 L1304.9 1849.2" stroke-width="1"/>
<path d="M1254.5 1986.2 L1254.5 1969 L1263.1 1969 L1266 1971.9 L1266 1974.7 L1263.1 1977.6 L1254.5 1977.6 M1260.2 1977.6 L1266 1986.2 M1283.3 1969 L1271.8 1969 L1271.8 1976.6 L1280.4 1976.6 L1283.3 1979.5 L1283.3 1983.3 L1280.4 1986.2 L1274.7 1986.2 L1271.8 1983.3 M1292 1969 L1297.7 1969 L1300.6 1971.9 L1300.6 1983.3 L1297.7 1986.2 L1292 1986.2 L1289.1 1983.3 L1289.1 1971.9 L1292 1969 M1289.1 1983.3 L1300.6 1971.9" stroke-width="1"/>
<path d="M1249.2 1999 L1249.2 2016.2 M1249.2 1999 L1246.4 2001.9 M1246.4 2016.2 L1252.1 2016.2 M1263.7 1999 L1269.4 1999 L1272.3 2001.9 L1272.3 2013.3 L1269.4 2016.2 L1263.7 2016.2 L1260.8 2013.3 L1260.8 2001.9 L1263.7 1999 M1260.8 2013.3 L1272.3 2001.9 M1281 1999 L1286.7 1999 L1289.6 2001.9 L1289.6 2013.3 L1286.7 2016.2 L1281 2016.2 L1278.1 2013.3 L1278.1 2001.9 L1281 1999 M1278.1 2013.3 L1289.6 2001.9 M1295.4 1999 L1295.4 2016.2 M1306.9 1999 L1295.4 2010.5 M1299.2 2006.6 L1306.9 2016.2" stroke-width="1"/>
<path d="M1324 1914 L1446 1914"/>
<circle cx="1385" cy="1914" r="7" fill="#000" stroke="none" shape-rendering="geometricPrecision"/>
<path d="M1385 1914 L1385 1996"/>
<path d="M1360 1996 L1409 1996"/>
<path d="M1360 2006 L1409 2006"/>
<path d="M1385 2006 L1385 2052"/>
<circle cx="1385" cy="2052" r="7" fill="#000" stroke="none" shape-rendering="geometricPrecision"/>
<path d="M1427 1979.9 L1424.1 1977 L1418.4 1977 L1415.5 1979.9 L1415.5 1991.3 L1418.4 1994.2 L1424.1 1994.2 L1427 1991.3 M1432.8 1979.9 L1435.7 1977 L1441.4 1977 L1444.3 1979.9 L1444.3 1982.7 L1432.8 1994.2 L1444.3 1994.2 M1453 1977 L1458.7 1977 L1461.6 1979.9 L1461.6 1982.7 L1458.7 1985.6 L1453 1985.6 L1450.1 1982.7 L1450.1 1979.9 L1453 1977 M1453 1985.6 L1450.1 1988.5 L1450.1 1991.3 L1453 1994.2 L1458.7 1994.2 L1461.6 1991.3 L1461.6 1988.5 L1458.7 1985.6" stroke-width="1"/>
<path d="M1427.8 2021.8 L1430.7 2021.8 L1430.7 2024.2 L1427.8 2024.2 L1427.8 2021.8 M1447 2007 L1447 2024.2 M1447 2007 L1444.2 2009.9 M1444.2 2024.2 L1449.9 2024.2" stroke-width="1"/>
<polygon points="1446,1823 1446,1945 1568,1884"/>
<path d="M1446 1853 L1400 1853 L1400 1776 L1630 1776 L1630 1979"/>
<polygon points="1507,1799 1495.5,1822 1518.5,1822"/>
<path d="M1507 1822 L1507 1853.5"/>
<path d="M1479 1811 L1491 1811"/>
<path d="M1485 1805 L1485 1817"/>
<path d="M1507 1913.5 L1507 1960"/>
<polygon points="1495.5,1960 1518.5,1960 1507,1983"/>
<path d="M1478.5 1978 L1491.5 1978"/>
<path d="M1429.5 1837 L1427.5 1835 L1423.5 1835 L1421.5 1837 L1421.5 1845 L1423.5 1847 L1427.5 1847 L1429.5 1845 L1429.5 1843 L1427.5 1841 L1421.5 1841" stroke-width="1"/>
<path d="M1429.5 1896 L1421.5 1896 L1421.5 1901.3 L1427.5 1901.3 L1429.5 1903.3 L1429.5 1906 L1427.5 1908 L1423.5 1908 L1421.5 1906" stroke-width="1"/>
<path d="M1516.5 1838 L1520.5 1838 L1522.5 1840 L1522.5 1842 L1520.5 1844 L1516.5 1844 L1514.5 1842 L1514.5 1840 L1516.5 1838 M1516.5 1844 L1514.5 1846 L1514.5 1848 L1516.5 1850 L1520.5 1850 L1522.5 1848 L1522.5 1846 L1520.5 1844" stroke-width="1"/>
<path d="M1496.5 1935 L1496.5 1923 L1490.5 1929 L1498.5 1929" stroke-width="1"/>
<path d="M1572.5 1865 L1580.5 1865 L1580.5 1867 L1575.2 1877" stroke-width="1"/>
<path d="M1456 1853 L1464 1853"/>
<path d="M1456 1914 L1464 1914"/>
<path d="M1460 1910 L1460 1918"/>
<path d="M1461.5 1875 L1461.5 1889.3 L1464.4 1892.2 L1470.1 1892.2 L1473 1889.3 L1473 1875 M1490.3 1877.9 L1487.4 1875 L1481.7 1875 L1478.8 1877.9 L1478.8 1889.3 L1481.7 1892.2 L1487.4 1892.2 L1490.3 1889.3 L1490.3 1886.5 L1487.4 1883.6 L1478.8 1883.6" stroke-width="1"/>
<path d="M1517.5 1919 L1517.5 1936.2 L1529 1936.2 M1534.8 1936.2 L1534.8 1919 L1540.5 1925.7 L1546.3 1919 L1546.3 1936.2 M1552.1 1921.9 L1555 1919 L1560.7 1919 L1563.6 1921.9 L1563.6 1924.7 L1560.7 1927.6 L1563.6 1930.5 L1563.6 1933.3 L1560.7 1936.2 L1555 1936.2 L1552.1 1933.3 M1556.9 1927.6 L1560.7 1927.6 M1580.9 1919 L1569.4 1919 L1569.4 1926.6 L1578 1926.6 L1580.9 1929.5 L1580.9 1933.3 L1578 1936.2 L1572.3 1936.2 L1569.4 1933.3 M1589.6 1919 L1595.3 1919 L1598.2 1921.9 L1598.2 1924.7 L1595.3 1927.6 L1589.6 1927.6 L1586.7 1924.7 L1586.7 1921.9 L1589.6 1919 M1589.6 1927.6 L1586.7 1930.5 L1586.7 1933.3 L1589.6 1936.2 L1595.3 1936.2 L1598.2 1933.3 L1598.2 1930.5 L1595.3 1927.6" stroke-width="1"/>
<path d="M1568 1883 L1676 1883"/>
<path d="M1676 1859.5 L1676 1906.5"/>
<path d="M1676 1860 L1698 1867.5"/>
<path d="M1676 1883 L1698 1890.5"/>
<path d="M1676 1906 L1698 1913.5"/>
<circle cx="1630" cy="1883" r="7" fill="#000" stroke="none" shape-rendering="geometricPrecision"/>
<path d="M1605 1979 L1654 1979"/>
<path d="M1605 1989 L1654 1989"/>
<path d="M1630 1989 L1630 2052"/>
<circle cx="1630" cy="2052" r="7" fill="#000" stroke="none" shape-rendering="geometricPrecision"/>
<path d="M1638.5 1968 L1653.5 1968"/>
<path d="M1646 1960 L1646 1976"/>
<path d="M1676 1963.9 L1673.1 1961 L1667.4 1961 L1664.5 1963.9 L1664.5 1975.3 L1667.4 1978.2 L1673.1 1978.2 L1676 1975.3 M1681.8 1963.9 L1684.7 1961 L1690.4 1961 L1693.3 1963.9 L1693.3 1966.7 L1681.8 1978.2 L1693.3 1978.2 M1699.1 1975.3 L1702 1978.2 L1707.7 1978.2 L1710.6 1975.3 L1710.6 1963.9 L1707.7 1961 L1702 1961 L1699.1 1963.9 L1699.1 1966.7 L1702 1969.6 L1710.6 1969.6" stroke-width="1"/>
<path d="M1670.2 1992 L1670.2 2009.2 M1670.2 1992 L1667.4 1994.9 M1667.4 2009.2 L1673.1 2009.2 M1684.7 1992 L1690.4 1992 L1693.3 1994.9 L1693.3 2006.3 L1690.4 2009.2 L1684.7 2009.2 L1681.8 2006.3 L1681.8 1994.9 L1684.7 1992 M1681.8 2006.3 L1693.3 1994.9 M1702 1992 L1707.7 1992 L1710.6 1994.9 L1710.6 2006.3 L1707.7 2009.2 L1702 2009.2 L1699.1 2006.3 L1699.1 1994.9 L1702 1992 M1699.1 2006.3 L1710.6 1994.9" stroke-width="1"/>
</g>
<g fill="#000" font-family="'Liberation Sans', sans-serif" font-weight="bold">
<text x="1131" y="100" font-size="34" textLength="368" lengthAdjust="spacingAndGlyphs">This is Pinpointer Gain ?</text>
<text x="826" y="288" font-size="34" textLength="402" lengthAdjust="spacingAndGlyphs">Dc Rx CH running all time?</text>
<text x="1666" y="775" font-size="34" textLength="76" lengthAdjust="spacingAndGlyphs">Disc?</text>
<text x="1664" y="808" font-size="34" textLength="32" lengthAdjust="spacingAndGlyphs">or</text>
<text x="1654" y="886" font-size="34" textLength="130" lengthAdjust="spacingAndGlyphs">disc gain</text>
<text x="1639" y="1125" font-size="34" textLength="339" lengthAdjust="spacingAndGlyphs">Cant find this trimmer</text>
<text x="1640" y="1183" font-size="34" textLength="339" lengthAdjust="spacingAndGlyphs">cut it from schematic?</text>
<text x="2779" y="792" font-size="34" textLength="129" lengthAdjust="spacingAndGlyphs">pinpoint</text>
<text x="2538" y="1439" font-size="34" textLength="281" lengthAdjust="spacingAndGlyphs">Sets &quot;Threshold&quot; ?</text>
<text x="309" y="1516" font-size="34" textLength="61" lengthAdjust="spacingAndGlyphs">GEB</text>
<text x="389" y="1525" font-size="34" textLength="51" lengthAdjust="spacingAndGlyphs">pot</text>
<text x="1253" y="1682.5" font-size="34" textLength="55" lengthAdjust="spacingAndGlyphs">+8v</text>
<text x="1223" y="1725.5" font-size="34" textLength="124" lengthAdjust="spacingAndGlyphs">wrt batt</text>
<text x="1343" y="1672" font-size="34" textLength="188" lengthAdjust="spacingAndGlyphs">(plus 4v rail)</text>
<text x="1731" y="1898" font-size="34" textLength="54" lengthAdjust="spacingAndGlyphs">+4v</text>
<text x="1719" y="1928.5" font-size="34" textLength="124" lengthAdjust="spacingAndGlyphs">wrt batt</text>
<text x="1801" y="1871.5" font-size="34" textLength="306" lengthAdjust="spacingAndGlyphs" style="white-space:pre">(gnd/shield/0v  rail)</text>
<text x="1743" y="2044" font-size="34" textLength="37" lengthAdjust="spacingAndGlyphs">0v</text>
<text x="1817" y="2022.5" font-size="34" textLength="229" lengthAdjust="spacingAndGlyphs">(minus -4v rail)</text>
<text x="574" y="1824" font-size="34" textLength="206" lengthAdjust="spacingAndGlyphs">power switch</text>
<text x="608" y="1909.5" font-size="34" textLength="112" lengthAdjust="spacingAndGlyphs">Battery</text>
<text x="746" y="1909.5" font-size="34" textLength="18" lengthAdjust="spacingAndGlyphs">+</text>
<text x="608" y="1999" font-size="34" textLength="96" lengthAdjust="spacingAndGlyphs">12volt</text>
<text x="754" y="1999" font-size="34" textLength="10" lengthAdjust="spacingAndGlyphs">-</text>
<text x="296" y="1968" font-size="34" textLength="261" lengthAdjust="spacingAndGlyphs">1k8 on silkscreen</text>
<text x="6" y="2078" font-size="34" textLength="707" lengthAdjust="spacingAndGlyphs">Is this the Disc phasing (why trimmer on pcb?)</text>
</g>
</svg></body></html>
